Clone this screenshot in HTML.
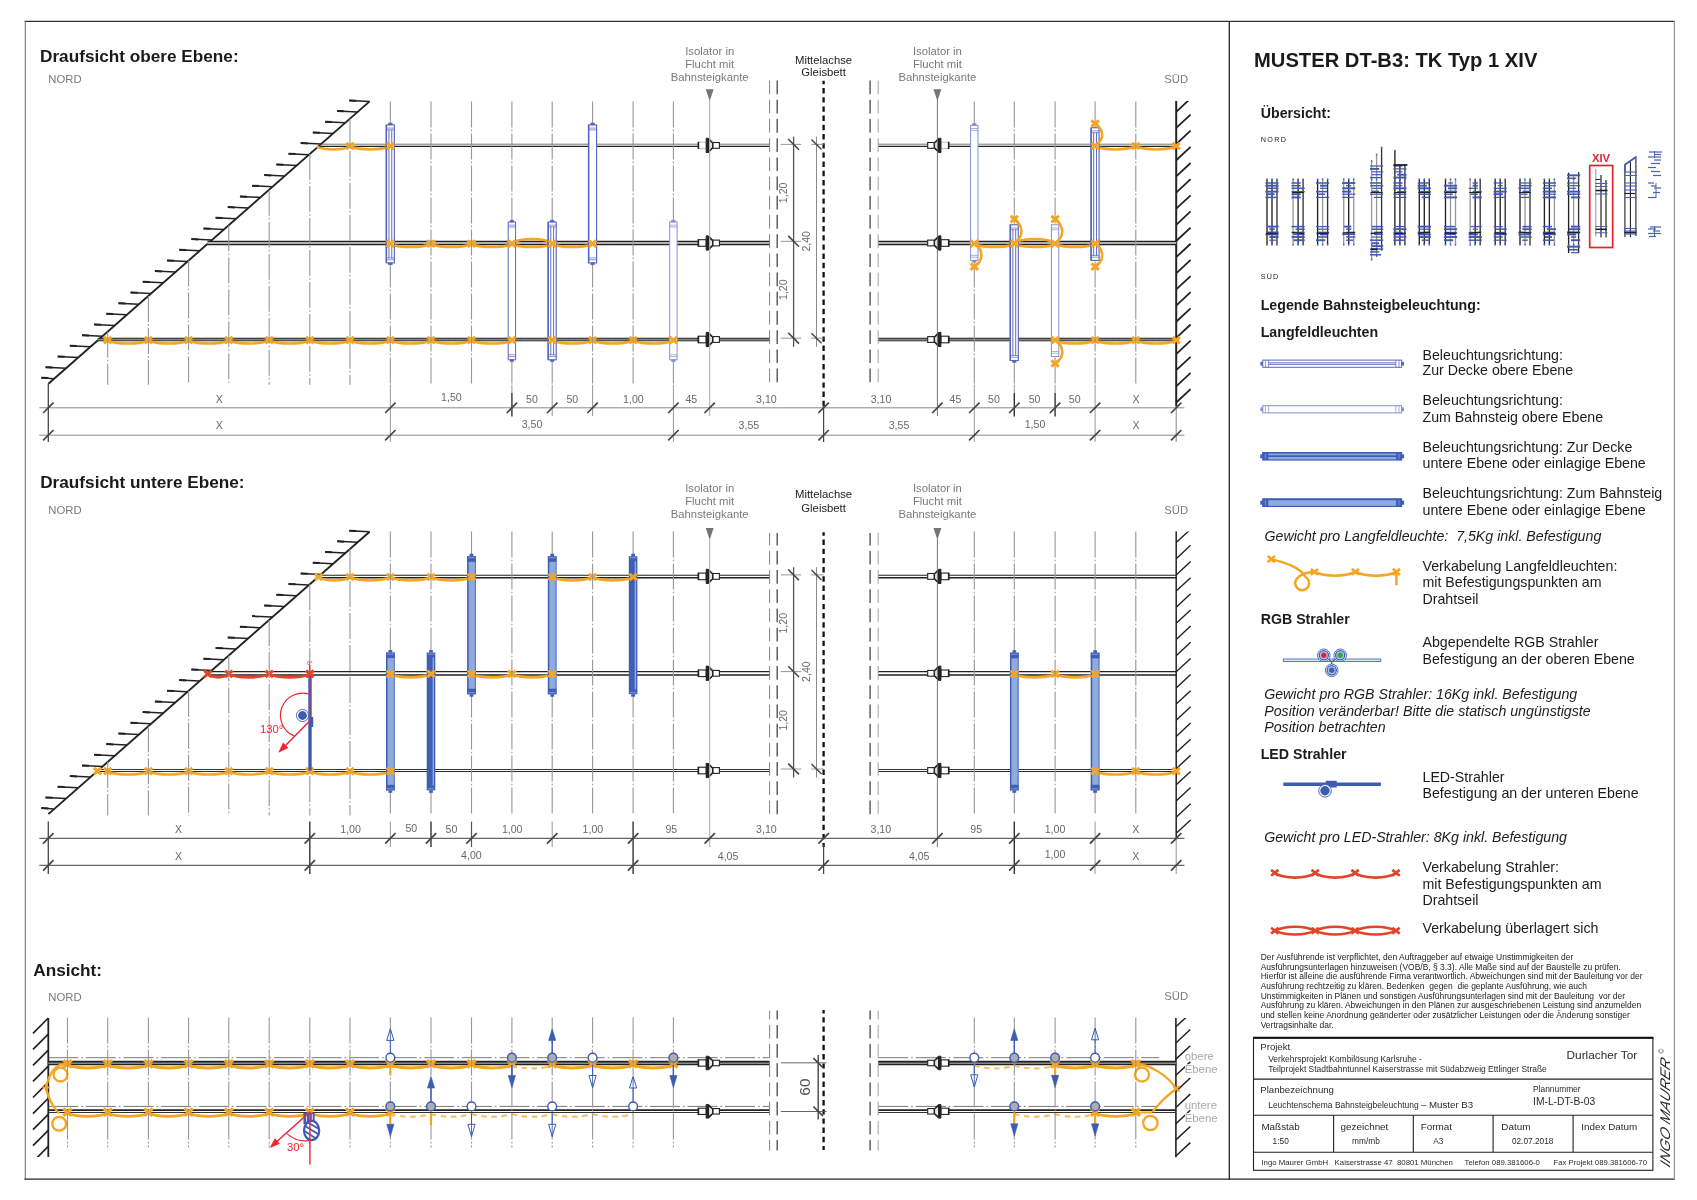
<!DOCTYPE html>
<html lang="de"><head><meta charset="utf-8"><title>MUSTER DT-B3: TK Typ 1 XIV</title>
<style>html,body{margin:0;padding:0;background:#fff}svg{display:block;will-change:transform;opacity:.999}text{font-family:"Liberation Sans",Arial,Helvetica,sans-serif}</style>
</head><body>
<svg width="1697" height="1200" viewBox="0 0 1697 1200" stroke-linecap="butt">
<rect width="1697" height="1200" fill="#fff"/>
<line x1="24.5" y1="21.4" x2="1674.8" y2="21.4" stroke="#333" stroke-width="1.1"/>
<line x1="25.3" y1="21" x2="25.3" y2="1179.5" stroke="#7a7a7a" stroke-width="1.1"/>
<line x1="24.5" y1="1179.2" x2="1675" y2="1179.2" stroke="#222" stroke-width="1.3"/>
<line x1="1674.4" y1="21" x2="1674.4" y2="1179.5" stroke="#9a9a9a" stroke-width="1.3"/>
<line x1="1229.3" y1="21" x2="1229.3" y2="1179.5" stroke="#222" stroke-width="1.3"/>
<text x="40" y="62" font-size="17.2" fill="#1a1a1a" font-weight="bold">Draufsicht obere Ebene:</text>
<text x="48.3" y="82.7" font-size="11.3" fill="#7a7a7a">NORD</text>
<text x="1164.3" y="82.7" font-size="11.3" fill="#7a7a7a">SÜD</text>
<line x1="369.6" y1="101.4" x2="48.4" y2="383.8" stroke="#222" stroke-width="1.9"/>
<path d="M349.3 100.4L369.6 101.4" stroke="#222" stroke-width="1.5" fill="none"/>
<line x1="349.3" y1="100.4" x2="356.3" y2="100.7" stroke="#222" stroke-width="2"/>
<path d="M337.15 111.07L357.45 112.07" stroke="#222" stroke-width="1.5" fill="none"/>
<line x1="337.15" y1="111.07" x2="344.15" y2="111.37" stroke="#222" stroke-width="2"/>
<path d="M325 121.74L345.3 122.74" stroke="#222" stroke-width="1.5" fill="none"/>
<line x1="325" y1="121.74" x2="332" y2="122.04" stroke="#222" stroke-width="2"/>
<path d="M312.85 132.41L333.15 133.41" stroke="#222" stroke-width="1.5" fill="none"/>
<line x1="312.85" y1="132.41" x2="319.85" y2="132.71" stroke="#222" stroke-width="2"/>
<path d="M300.7 143.08L321 144.08" stroke="#222" stroke-width="1.5" fill="none"/>
<line x1="300.7" y1="143.08" x2="307.7" y2="143.38" stroke="#222" stroke-width="2"/>
<path d="M288.55 153.75L308.85 154.75" stroke="#222" stroke-width="1.5" fill="none"/>
<line x1="288.55" y1="153.75" x2="295.55" y2="154.05" stroke="#222" stroke-width="2"/>
<path d="M276.4 164.42L296.7 165.42" stroke="#222" stroke-width="1.5" fill="none"/>
<line x1="276.4" y1="164.42" x2="283.4" y2="164.72" stroke="#222" stroke-width="2"/>
<path d="M264.25 175.09L284.55 176.09" stroke="#222" stroke-width="1.5" fill="none"/>
<line x1="264.25" y1="175.09" x2="271.25" y2="175.39" stroke="#222" stroke-width="2"/>
<path d="M252.1 185.76L272.4 186.76" stroke="#222" stroke-width="1.5" fill="none"/>
<line x1="252.1" y1="185.76" x2="259.1" y2="186.06" stroke="#222" stroke-width="2"/>
<path d="M239.95 196.43L260.25 197.43" stroke="#222" stroke-width="1.5" fill="none"/>
<line x1="239.95" y1="196.43" x2="246.95" y2="196.73" stroke="#222" stroke-width="2"/>
<path d="M227.8 207.1L248.1 208.1" stroke="#222" stroke-width="1.5" fill="none"/>
<line x1="227.8" y1="207.1" x2="234.8" y2="207.4" stroke="#222" stroke-width="2"/>
<path d="M215.65 217.77L235.95 218.77" stroke="#222" stroke-width="1.5" fill="none"/>
<line x1="215.65" y1="217.77" x2="222.65" y2="218.07" stroke="#222" stroke-width="2"/>
<path d="M203.5 228.44L223.8 229.44" stroke="#222" stroke-width="1.5" fill="none"/>
<line x1="203.5" y1="228.44" x2="210.5" y2="228.74" stroke="#222" stroke-width="2"/>
<path d="M191.35 239.11L211.65 240.11" stroke="#222" stroke-width="1.5" fill="none"/>
<line x1="191.35" y1="239.11" x2="198.35" y2="239.41" stroke="#222" stroke-width="2"/>
<path d="M179.2 249.78L199.5 250.78" stroke="#222" stroke-width="1.5" fill="none"/>
<line x1="179.2" y1="249.78" x2="186.2" y2="250.08" stroke="#222" stroke-width="2"/>
<path d="M167.05 260.45L187.35 261.45" stroke="#222" stroke-width="1.5" fill="none"/>
<line x1="167.05" y1="260.45" x2="174.05" y2="260.75" stroke="#222" stroke-width="2"/>
<path d="M154.9 271.12L175.2 272.12" stroke="#222" stroke-width="1.5" fill="none"/>
<line x1="154.9" y1="271.12" x2="161.9" y2="271.42" stroke="#222" stroke-width="2"/>
<path d="M142.75 281.79L163.05 282.79" stroke="#222" stroke-width="1.5" fill="none"/>
<line x1="142.75" y1="281.79" x2="149.75" y2="282.09" stroke="#222" stroke-width="2"/>
<path d="M130.6 292.46L150.9 293.46" stroke="#222" stroke-width="1.5" fill="none"/>
<line x1="130.6" y1="292.46" x2="137.6" y2="292.76" stroke="#222" stroke-width="2"/>
<path d="M118.45 303.13L138.75 304.13" stroke="#222" stroke-width="1.5" fill="none"/>
<line x1="118.45" y1="303.13" x2="125.45" y2="303.43" stroke="#222" stroke-width="2"/>
<path d="M106.3 313.8L126.6 314.8" stroke="#222" stroke-width="1.5" fill="none"/>
<line x1="106.3" y1="313.8" x2="113.3" y2="314.1" stroke="#222" stroke-width="2"/>
<path d="M94.15 324.47L114.45 325.47" stroke="#222" stroke-width="1.5" fill="none"/>
<line x1="94.15" y1="324.47" x2="101.15" y2="324.77" stroke="#222" stroke-width="2"/>
<path d="M82 335.14L102.3 336.14" stroke="#222" stroke-width="1.5" fill="none"/>
<line x1="82" y1="335.14" x2="89" y2="335.44" stroke="#222" stroke-width="2"/>
<path d="M69.85 345.81L90.15 346.81" stroke="#222" stroke-width="1.5" fill="none"/>
<line x1="69.85" y1="345.81" x2="76.85" y2="346.11" stroke="#222" stroke-width="2"/>
<path d="M57.7 356.48L78 357.48" stroke="#222" stroke-width="1.5" fill="none"/>
<line x1="57.7" y1="356.48" x2="64.7" y2="356.78" stroke="#222" stroke-width="2"/>
<path d="M45.55 367.15L65.85 368.15" stroke="#222" stroke-width="1.5" fill="none"/>
<line x1="45.55" y1="367.15" x2="52.55" y2="367.45" stroke="#222" stroke-width="2"/>
<path d="M41.3 377.82L53.7 378.82" stroke="#222" stroke-width="1.5" fill="none"/>
<line x1="41.3" y1="377.82" x2="48.3" y2="378.12" stroke="#222" stroke-width="2"/>
<line x1="48.3" y1="383.5" x2="48.3" y2="442" stroke="#444" stroke-width="1.3"/>
<line x1="1176.2" y1="101.1" x2="1176.2" y2="406.5" stroke="#222" stroke-width="2"/>
<defs><clipPath id="cw_101"><rect x="1174.2" y="101.1" width="30" height="305.4"/></clipPath></defs>
<g clip-path="url(#cw_101)">
<line x1="1176.2" y1="111.8" x2="1190.6" y2="98.4" stroke="#222" stroke-width="1.8"/>
<line x1="1176.2" y1="127.95" x2="1190.6" y2="114.55" stroke="#222" stroke-width="1.8"/>
<line x1="1176.2" y1="144.1" x2="1190.6" y2="130.7" stroke="#222" stroke-width="1.8"/>
<line x1="1176.2" y1="160.25" x2="1190.6" y2="146.85" stroke="#222" stroke-width="1.8"/>
<line x1="1176.2" y1="176.4" x2="1190.6" y2="163" stroke="#222" stroke-width="1.8"/>
<line x1="1176.2" y1="192.55" x2="1190.6" y2="179.15" stroke="#222" stroke-width="1.8"/>
<line x1="1176.2" y1="208.7" x2="1190.6" y2="195.3" stroke="#222" stroke-width="1.8"/>
<line x1="1176.2" y1="224.85" x2="1190.6" y2="211.45" stroke="#222" stroke-width="1.8"/>
<line x1="1176.2" y1="241" x2="1190.6" y2="227.6" stroke="#222" stroke-width="1.8"/>
<line x1="1176.2" y1="257.15" x2="1190.6" y2="243.75" stroke="#222" stroke-width="1.8"/>
<line x1="1176.2" y1="273.3" x2="1190.6" y2="259.9" stroke="#222" stroke-width="1.8"/>
<line x1="1176.2" y1="289.45" x2="1190.6" y2="276.05" stroke="#222" stroke-width="1.8"/>
<line x1="1176.2" y1="305.6" x2="1190.6" y2="292.2" stroke="#222" stroke-width="1.8"/>
<line x1="1176.2" y1="321.75" x2="1190.6" y2="308.35" stroke="#222" stroke-width="1.8"/>
<line x1="1176.2" y1="337.9" x2="1190.6" y2="324.5" stroke="#222" stroke-width="1.8"/>
<line x1="1176.2" y1="354.05" x2="1190.6" y2="340.65" stroke="#222" stroke-width="1.8"/>
<line x1="1176.2" y1="370.2" x2="1190.6" y2="356.8" stroke="#222" stroke-width="1.8"/>
<line x1="1176.2" y1="386.35" x2="1190.6" y2="372.95" stroke="#222" stroke-width="1.8"/>
<line x1="1176.2" y1="402.5" x2="1190.6" y2="389.1" stroke="#222" stroke-width="1.8"/>
</g>
<line x1="1176.2" y1="406" x2="1176.2" y2="442" stroke="#777" stroke-width="0.9"/>
<line x1="318.55" y1="144.2" x2="769.6" y2="144.2" stroke="#555" stroke-width="0.8"/>
<line x1="318.55" y1="146.4" x2="769.6" y2="146.4" stroke="#222" stroke-width="1.4"/>
<line x1="878.2" y1="144.2" x2="1176.2" y2="144.2" stroke="#555" stroke-width="0.8"/>
<line x1="878.2" y1="146.4" x2="1176.2" y2="146.4" stroke="#222" stroke-width="1.4"/>
<g transform="translate(709.7,145.4)">
<rect x="-11.3" y="-3.3" width="7.8" height="6.6" fill="#fff" stroke="#aaa" stroke-width="0.8"/>
<line x1="-11.3" y1="-3.6" x2="-11.3" y2="3.6" stroke="#222" stroke-width="1.6"/>
<path d="M-3.5 -7.2 L-0.9 -7 L3.1 -2.9 L3.1 2.9 L-0.9 7 L-3.5 7.2 Z" stroke="#222" stroke-width="1" fill="#222"/>
<path d="M-0.6 -4.6 L2.3 -2.1 L2.3 2.1 L-0.6 4.6 Z" stroke="none" stroke-width="0" fill="#e8e8e8"/>
<rect x="3.3" y="-2.9" width="6.4" height="5.8" fill="#fff" stroke="#222" stroke-width="1.1"/>
</g>
<g transform="translate(937.4,145.4) scale(-1,1)">
<rect x="-11.3" y="-3.3" width="7.8" height="6.6" fill="#fff" stroke="#aaa" stroke-width="0.8"/>
<line x1="-11.3" y1="-3.6" x2="-11.3" y2="3.6" stroke="#222" stroke-width="1.6"/>
<path d="M-3.5 -7.2 L-0.9 -7 L3.1 -2.9 L3.1 2.9 L-0.9 7 L-3.5 7.2 Z" stroke="#222" stroke-width="1" fill="#222"/>
<path d="M-0.6 -4.6 L2.3 -2.1 L2.3 2.1 L-0.6 4.6 Z" stroke="none" stroke-width="0" fill="#e8e8e8"/>
<rect x="3.3" y="-2.9" width="6.4" height="5.8" fill="#fff" stroke="#222" stroke-width="1.1"/>
</g>
<line x1="207.55" y1="243" x2="769.6" y2="243" stroke="#e2e2e2" stroke-width="3"/>
<line x1="207.55" y1="241.5" x2="769.6" y2="241.5" stroke="#222" stroke-width="1.3"/>
<line x1="207.55" y1="244.5" x2="769.6" y2="244.5" stroke="#222" stroke-width="1.3"/>
<line x1="878.2" y1="243" x2="1176.2" y2="243" stroke="#e2e2e2" stroke-width="3"/>
<line x1="878.2" y1="241.5" x2="1176.2" y2="241.5" stroke="#222" stroke-width="1.3"/>
<line x1="878.2" y1="244.5" x2="1176.2" y2="244.5" stroke="#222" stroke-width="1.3"/>
<g transform="translate(709.7,243)">
<rect x="-11.3" y="-3.3" width="7.8" height="6.6" fill="#fff" stroke="#222" stroke-width="1.1"/>
<line x1="-11.3" y1="-3.6" x2="-11.3" y2="3.6" stroke="#222" stroke-width="1.6"/>
<path d="M-3.5 -7.2 L-0.9 -7 L3.1 -2.9 L3.1 2.9 L-0.9 7 L-3.5 7.2 Z" stroke="#222" stroke-width="1" fill="#222"/>
<path d="M-0.6 -4.6 L2.3 -2.1 L2.3 2.1 L-0.6 4.6 Z" stroke="none" stroke-width="0" fill="#e8e8e8"/>
<rect x="3.3" y="-2.9" width="6.4" height="5.8" fill="#fff" stroke="#222" stroke-width="1.1"/>
</g>
<g transform="translate(937.4,243) scale(-1,1)">
<rect x="-11.3" y="-3.3" width="7.8" height="6.6" fill="#fff" stroke="#222" stroke-width="1.1"/>
<line x1="-11.3" y1="-3.6" x2="-11.3" y2="3.6" stroke="#222" stroke-width="1.6"/>
<path d="M-3.5 -7.2 L-0.9 -7 L3.1 -2.9 L3.1 2.9 L-0.9 7 L-3.5 7.2 Z" stroke="#222" stroke-width="1" fill="#222"/>
<path d="M-0.6 -4.6 L2.3 -2.1 L2.3 2.1 L-0.6 4.6 Z" stroke="none" stroke-width="0" fill="#e8e8e8"/>
<rect x="3.3" y="-2.9" width="6.4" height="5.8" fill="#fff" stroke="#222" stroke-width="1.1"/>
</g>
<line x1="97.79" y1="339.5" x2="769.6" y2="339.5" stroke="#858585" stroke-width="2.6"/>
<line x1="97.79" y1="338.2" x2="769.6" y2="338.2" stroke="#222" stroke-width="1.1"/>
<line x1="97.79" y1="340.8" x2="769.6" y2="340.8" stroke="#333" stroke-width="1"/>
<line x1="878.2" y1="339.5" x2="1176.2" y2="339.5" stroke="#858585" stroke-width="2.6"/>
<line x1="878.2" y1="338.2" x2="1176.2" y2="338.2" stroke="#222" stroke-width="1.1"/>
<line x1="878.2" y1="340.8" x2="1176.2" y2="340.8" stroke="#333" stroke-width="1"/>
<g transform="translate(709.7,339.5)">
<rect x="-11.3" y="-3.3" width="7.8" height="6.6" fill="#fff" stroke="#222" stroke-width="1.1"/>
<line x1="-11.3" y1="-3.6" x2="-11.3" y2="3.6" stroke="#222" stroke-width="1.6"/>
<path d="M-3.5 -7.2 L-0.9 -7 L3.1 -2.9 L3.1 2.9 L-0.9 7 L-3.5 7.2 Z" stroke="#222" stroke-width="1" fill="#222"/>
<path d="M-0.6 -4.6 L2.3 -2.1 L2.3 2.1 L-0.6 4.6 Z" stroke="none" stroke-width="0" fill="#e8e8e8"/>
<rect x="3.3" y="-2.9" width="6.4" height="5.8" fill="#fff" stroke="#222" stroke-width="1.1"/>
</g>
<g transform="translate(937.4,339.5) scale(-1,1)">
<rect x="-11.3" y="-3.3" width="7.8" height="6.6" fill="#fff" stroke="#222" stroke-width="1.1"/>
<line x1="-11.3" y1="-3.6" x2="-11.3" y2="3.6" stroke="#222" stroke-width="1.6"/>
<path d="M-3.5 -7.2 L-0.9 -7 L3.1 -2.9 L3.1 2.9 L-0.9 7 L-3.5 7.2 Z" stroke="#222" stroke-width="1" fill="#222"/>
<path d="M-0.6 -4.6 L2.3 -2.1 L2.3 2.1 L-0.6 4.6 Z" stroke="none" stroke-width="0" fill="#e8e8e8"/>
<rect x="3.3" y="-2.9" width="6.4" height="5.8" fill="#fff" stroke="#222" stroke-width="1.1"/>
</g>
<path d="M316.55 146.6C325.92 150.4 340.64 150.4 350 146.6" stroke="#f5a522" stroke-width="2.6" fill="none"/>
<path d="M350 146.6C361 150.4 379.35 150.4 390.35 146.6" stroke="#f5a522" stroke-width="2.6" fill="none"/>
<path d="M346.3 142.8L353.7 149.2M346.3 149.2L353.7 142.8" stroke="#f5a522" stroke-width="3" fill="none"/>
<path d="M386.65 142.8L394.05 149.2M386.65 149.2L394.05 142.8" stroke="#f5a522" stroke-width="3" fill="none"/>
<path d="M390.35 244.2C401.35 248 420 248 431 244.2" stroke="#f5a522" stroke-width="2.6" fill="none"/>
<path d="M431 244.2C442 248 460.5 248 471.5 244.2" stroke="#f5a522" stroke-width="2.6" fill="none"/>
<path d="M471.5 244.2C482.5 248 500.9 248 511.9 244.2" stroke="#f5a522" stroke-width="2.6" fill="none"/>
<path d="M511.9 244.2C522.9 248 541.2 248 552.2 244.2" stroke="#f5a522" stroke-width="2.6" fill="none"/>
<path d="M552.2 244.2C563.2 248 581.6 248 592.6 244.2" stroke="#f5a522" stroke-width="2.6" fill="none"/>
<path d="M386.65 240.4L394.05 246.8M386.65 246.8L394.05 240.4" stroke="#f5a522" stroke-width="3" fill="none"/>
<path d="M427.3 240.4L434.7 246.8M427.3 246.8L434.7 240.4" stroke="#f5a522" stroke-width="3" fill="none"/>
<path d="M467.8 240.4L475.2 246.8M467.8 246.8L475.2 240.4" stroke="#f5a522" stroke-width="3" fill="none"/>
<path d="M508.2 240.4L515.6 246.8M508.2 246.8L515.6 240.4" stroke="#f5a522" stroke-width="3" fill="none"/>
<path d="M548.5 240.4L555.9 246.8M548.5 246.8L555.9 240.4" stroke="#f5a522" stroke-width="3" fill="none"/>
<path d="M588.9 240.4L596.3 246.8M588.9 246.8L596.3 240.4" stroke="#f5a522" stroke-width="3" fill="none"/>
<path d="M511.9 242.4C522.9 237.8 541.2 237.8 552.2 242.4" stroke="#f5a522" stroke-width="2.6" fill="none"/>
<path d="M107.7 340.7C118.7 344.5 137.4 344.5 148.4 340.7" stroke="#f5a522" stroke-width="2.6" fill="none"/>
<path d="M148.4 340.7C159.4 344.5 177.6 344.5 188.6 340.7" stroke="#f5a522" stroke-width="2.6" fill="none"/>
<path d="M188.6 340.7C199.6 344.5 217.8 344.5 228.8 340.7" stroke="#f5a522" stroke-width="2.6" fill="none"/>
<path d="M228.8 340.7C239.8 344.5 258.2 344.5 269.2 340.7" stroke="#f5a522" stroke-width="2.6" fill="none"/>
<path d="M269.2 340.7C280.2 344.5 298.8 344.5 309.8 340.7" stroke="#f5a522" stroke-width="2.6" fill="none"/>
<path d="M309.8 340.7C320.8 344.5 339 344.5 350 340.7" stroke="#f5a522" stroke-width="2.6" fill="none"/>
<path d="M350 340.7C361 344.5 379.35 344.5 390.35 340.7" stroke="#f5a522" stroke-width="2.6" fill="none"/>
<path d="M390.35 340.7C401.35 344.5 420 344.5 431 340.7" stroke="#f5a522" stroke-width="2.6" fill="none"/>
<path d="M431 340.7C442 344.5 460.5 344.5 471.5 340.7" stroke="#f5a522" stroke-width="2.6" fill="none"/>
<path d="M471.5 340.7C482.5 344.5 500.9 344.5 511.9 340.7" stroke="#f5a522" stroke-width="2.6" fill="none"/>
<path d="M104 336.9L111.4 343.3M104 343.3L111.4 336.9" stroke="#f5a522" stroke-width="3" fill="none"/>
<path d="M144.7 336.9L152.1 343.3M144.7 343.3L152.1 336.9" stroke="#f5a522" stroke-width="3" fill="none"/>
<path d="M184.9 336.9L192.3 343.3M184.9 343.3L192.3 336.9" stroke="#f5a522" stroke-width="3" fill="none"/>
<path d="M225.1 336.9L232.5 343.3M225.1 343.3L232.5 336.9" stroke="#f5a522" stroke-width="3" fill="none"/>
<path d="M265.5 336.9L272.9 343.3M265.5 343.3L272.9 336.9" stroke="#f5a522" stroke-width="3" fill="none"/>
<path d="M306.1 336.9L313.5 343.3M306.1 343.3L313.5 336.9" stroke="#f5a522" stroke-width="3" fill="none"/>
<path d="M346.3 336.9L353.7 343.3M346.3 343.3L353.7 336.9" stroke="#f5a522" stroke-width="3" fill="none"/>
<path d="M386.65 336.9L394.05 343.3M386.65 343.3L394.05 336.9" stroke="#f5a522" stroke-width="3" fill="none"/>
<path d="M427.3 336.9L434.7 343.3M427.3 343.3L434.7 336.9" stroke="#f5a522" stroke-width="3" fill="none"/>
<path d="M467.8 336.9L475.2 343.3M467.8 343.3L475.2 336.9" stroke="#f5a522" stroke-width="3" fill="none"/>
<path d="M508.2 336.9L515.6 343.3M508.2 343.3L515.6 336.9" stroke="#f5a522" stroke-width="3" fill="none"/>
<path d="M104.7 336.5L104.7 343.5" stroke="#f5a522" stroke-width="2" fill="none"/>
<path d="M552.2 340.7C563.2 344.5 581.6 344.5 592.6 340.7" stroke="#f5a522" stroke-width="2.6" fill="none"/>
<path d="M592.6 340.7C603.6 344.5 622.1 344.5 633.1 340.7" stroke="#f5a522" stroke-width="2.6" fill="none"/>
<path d="M633.1 340.7C644.1 344.5 662.4 344.5 673.4 340.7" stroke="#f5a522" stroke-width="2.6" fill="none"/>
<path d="M548.5 336.9L555.9 343.3M548.5 343.3L555.9 336.9" stroke="#f5a522" stroke-width="3" fill="none"/>
<path d="M588.9 336.9L596.3 343.3M588.9 343.3L596.3 336.9" stroke="#f5a522" stroke-width="3" fill="none"/>
<path d="M629.4 336.9L636.8 343.3M629.4 343.3L636.8 336.9" stroke="#f5a522" stroke-width="3" fill="none"/>
<path d="M669.7 336.9L677.1 343.3M669.7 343.3L677.1 336.9" stroke="#f5a522" stroke-width="3" fill="none"/>
<path d="M1095.1 146.6C1106.1 150.4 1124.8 150.4 1135.8 146.6" stroke="#f5a522" stroke-width="2.6" fill="none"/>
<path d="M1135.8 146.6C1146.8 150.4 1165.2 150.4 1176.2 146.6" stroke="#f5a522" stroke-width="2.6" fill="none"/>
<path d="M1091.4 142.8L1098.8 149.2M1091.4 149.2L1098.8 142.8" stroke="#f5a522" stroke-width="3" fill="none"/>
<path d="M1132.1 142.8L1139.5 149.2M1132.1 149.2L1139.5 142.8" stroke="#f5a522" stroke-width="3" fill="none"/>
<path d="M1172.5 142.8L1179.9 149.2M1172.5 149.2L1179.9 142.8" stroke="#f5a522" stroke-width="3" fill="none"/>
<path d="M974.3 244.2C985.3 248 1003.3 248 1014.3 244.2" stroke="#f5a522" stroke-width="2.6" fill="none"/>
<path d="M1014.3 244.2C1025.3 248 1044.1 248 1055.1 244.2" stroke="#f5a522" stroke-width="2.6" fill="none"/>
<path d="M1055.1 244.2C1066.1 248 1084.1 248 1095.1 244.2" stroke="#f5a522" stroke-width="2.6" fill="none"/>
<path d="M970.6 240.4L978 246.8M970.6 246.8L978 240.4" stroke="#f5a522" stroke-width="3" fill="none"/>
<path d="M1010.6 240.4L1018 246.8M1010.6 246.8L1018 240.4" stroke="#f5a522" stroke-width="3" fill="none"/>
<path d="M1051.4 240.4L1058.8 246.8M1051.4 246.8L1058.8 240.4" stroke="#f5a522" stroke-width="3" fill="none"/>
<path d="M1091.4 240.4L1098.8 246.8M1091.4 246.8L1098.8 240.4" stroke="#f5a522" stroke-width="3" fill="none"/>
<path d="M1014.3 242.4C1025.3 237.8 1044.1 237.8 1055.1 242.4" stroke="#f5a522" stroke-width="2.6" fill="none"/>
<path d="M1055.1 340.7C1066.1 344.5 1084.1 344.5 1095.1 340.7" stroke="#f5a522" stroke-width="2.6" fill="none"/>
<path d="M1095.1 340.7C1106.1 344.5 1124.8 344.5 1135.8 340.7" stroke="#f5a522" stroke-width="2.6" fill="none"/>
<path d="M1135.8 340.7C1146.8 344.5 1165.2 344.5 1176.2 340.7" stroke="#f5a522" stroke-width="2.6" fill="none"/>
<path d="M1051.4 336.9L1058.8 343.3M1051.4 343.3L1058.8 336.9" stroke="#f5a522" stroke-width="3" fill="none"/>
<path d="M1091.4 336.9L1098.8 343.3M1091.4 343.3L1098.8 336.9" stroke="#f5a522" stroke-width="3" fill="none"/>
<path d="M1132.1 336.9L1139.5 343.3M1132.1 343.3L1139.5 336.9" stroke="#f5a522" stroke-width="3" fill="none"/>
<path d="M1172.5 336.9L1179.9 343.3M1172.5 343.3L1179.9 336.9" stroke="#f5a522" stroke-width="3" fill="none"/>
<line x1="107.7" y1="331.66" x2="107.7" y2="384.7" stroke="#979797" stroke-width="1.1" stroke-dasharray="26 2.2 1.6 2.2"/>
<line x1="148.4" y1="295.88" x2="148.4" y2="384.7" stroke="#979797" stroke-width="1.1" stroke-dasharray="26 2.2 1.6 2.2"/>
<line x1="188.6" y1="260.54" x2="188.6" y2="384.7" stroke="#979797" stroke-width="1.1" stroke-dasharray="26 2.2 1.6 2.2"/>
<line x1="228.8" y1="225.19" x2="228.8" y2="384.7" stroke="#979797" stroke-width="1.1" stroke-dasharray="26 2.2 1.6 2.2"/>
<line x1="269.2" y1="189.67" x2="269.2" y2="384.7" stroke="#979797" stroke-width="1.1" stroke-dasharray="26 2.2 1.6 2.2"/>
<line x1="309.8" y1="153.98" x2="309.8" y2="384.7" stroke="#979797" stroke-width="1.1" stroke-dasharray="26 2.2 1.6 2.2"/>
<line x1="350" y1="118.63" x2="350" y2="384.7" stroke="#979797" stroke-width="1.1" stroke-dasharray="26 2.2 1.6 2.2"/>
<line x1="390.35" y1="101.4" x2="390.35" y2="384.7" stroke="#979797" stroke-width="1.1" stroke-dasharray="26 2.2 1.6 2.2"/>
<line x1="431" y1="101.4" x2="431" y2="384.7" stroke="#979797" stroke-width="1.1" stroke-dasharray="26 2.2 1.6 2.2"/>
<line x1="471.5" y1="101.4" x2="471.5" y2="384.7" stroke="#979797" stroke-width="1.1" stroke-dasharray="26 2.2 1.6 2.2"/>
<line x1="511.9" y1="101.4" x2="511.9" y2="384.7" stroke="#979797" stroke-width="1.1" stroke-dasharray="26 2.2 1.6 2.2"/>
<line x1="552.2" y1="101.4" x2="552.2" y2="384.7" stroke="#979797" stroke-width="1.1" stroke-dasharray="26 2.2 1.6 2.2"/>
<line x1="592.6" y1="101.4" x2="592.6" y2="384.7" stroke="#979797" stroke-width="1.1" stroke-dasharray="26 2.2 1.6 2.2"/>
<line x1="633.1" y1="101.4" x2="633.1" y2="384.7" stroke="#979797" stroke-width="1.1" stroke-dasharray="26 2.2 1.6 2.2"/>
<line x1="673.4" y1="101.4" x2="673.4" y2="384.7" stroke="#979797" stroke-width="1.1" stroke-dasharray="26 2.2 1.6 2.2"/>
<line x1="974.3" y1="101.4" x2="974.3" y2="384.7" stroke="#979797" stroke-width="1.1" stroke-dasharray="26 2.2 1.6 2.2"/>
<line x1="1014.3" y1="101.4" x2="1014.3" y2="384.7" stroke="#979797" stroke-width="1.1" stroke-dasharray="26 2.2 1.6 2.2"/>
<line x1="1055.1" y1="101.4" x2="1055.1" y2="384.7" stroke="#979797" stroke-width="1.1" stroke-dasharray="26 2.2 1.6 2.2"/>
<line x1="1095.1" y1="101.4" x2="1095.1" y2="384.7" stroke="#979797" stroke-width="1.1" stroke-dasharray="26 2.2 1.6 2.2"/>
<line x1="1135.8" y1="101.4" x2="1135.8" y2="384.7" stroke="#979797" stroke-width="1.1" stroke-dasharray="26 2.2 1.6 2.2"/>
<line x1="390.35" y1="384.7" x2="390.35" y2="442" stroke="#979797" stroke-width="1"/>
<line x1="673.4" y1="384.7" x2="673.4" y2="442" stroke="#979797" stroke-width="1"/>
<line x1="974.3" y1="384.7" x2="974.3" y2="442" stroke="#979797" stroke-width="1"/>
<line x1="1095.1" y1="384.7" x2="1095.1" y2="442" stroke="#979797" stroke-width="1"/>
<line x1="552.2" y1="384.7" x2="552.2" y2="416" stroke="#979797" stroke-width="1"/>
<line x1="592.6" y1="384.7" x2="592.6" y2="416" stroke="#979797" stroke-width="1"/>
<line x1="511.9" y1="384.7" x2="511.9" y2="393" stroke="#979797" stroke-width="1"/>
<line x1="511.9" y1="393" x2="511.9" y2="416.5" stroke="#333" stroke-width="1.4"/>
<line x1="1014.3" y1="384.7" x2="1014.3" y2="393" stroke="#979797" stroke-width="1"/>
<line x1="1014.3" y1="393" x2="1014.3" y2="416.5" stroke="#333" stroke-width="1.4"/>
<line x1="1055.1" y1="384.7" x2="1055.1" y2="393" stroke="#979797" stroke-width="1"/>
<line x1="1055.1" y1="393" x2="1055.1" y2="416.5" stroke="#333" stroke-width="1.4"/>
<line x1="709.7" y1="100" x2="709.7" y2="416" stroke="#aaa" stroke-width="1"/>
<line x1="937.4" y1="100" x2="937.4" y2="416" stroke="#666" stroke-width="0.9"/>
<rect x="386.35" y="124.9" width="8" height="138" fill="#fff" stroke="#5867be" stroke-width="1.15"/>
<line x1="388.95" y1="129.5" x2="388.95" y2="258.3" stroke="#5867be" stroke-width="0.95"/>
<line x1="391.75" y1="129.5" x2="391.75" y2="258.3" stroke="#5867be" stroke-width="0.95"/>
<line x1="386.35" y1="124.9" x2="386.35" y2="262.9" stroke="#5867be" stroke-width="1.5"/>
<line x1="386.35" y1="128.1" x2="394.35" y2="128.1" stroke="#5867be" stroke-width="0.7"/>
<line x1="386.35" y1="129.9" x2="394.35" y2="129.9" stroke="#5867be" stroke-width="0.7"/>
<line x1="386.35" y1="259.7" x2="394.35" y2="259.7" stroke="#5867be" stroke-width="0.7"/>
<line x1="386.35" y1="257.9" x2="394.35" y2="257.9" stroke="#5867be" stroke-width="0.7"/>
<rect x="388.55" y="123" width="3.6" height="1.9" fill="#5867be" stroke="#5867be" stroke-width="0.5"/>
<rect x="388.55" y="262.9" width="3.6" height="1.9" fill="#5867be" stroke="#5867be" stroke-width="0.5"/>
<rect x="588.6" y="124.9" width="8" height="138" fill="#fff" stroke="#5867be" stroke-width="1.15"/>
<line x1="588.6" y1="124.9" x2="588.6" y2="262.9" stroke="#5867be" stroke-width="1.5"/>
<line x1="588.6" y1="128.1" x2="596.6" y2="128.1" stroke="#5867be" stroke-width="0.7"/>
<line x1="588.6" y1="129.9" x2="596.6" y2="129.9" stroke="#5867be" stroke-width="0.7"/>
<line x1="588.6" y1="259.7" x2="596.6" y2="259.7" stroke="#5867be" stroke-width="0.7"/>
<line x1="588.6" y1="257.9" x2="596.6" y2="257.9" stroke="#5867be" stroke-width="0.7"/>
<rect x="590.8" y="123" width="3.6" height="1.9" fill="#5867be" stroke="#5867be" stroke-width="0.5"/>
<rect x="590.8" y="262.9" width="3.6" height="1.9" fill="#5867be" stroke="#5867be" stroke-width="0.5"/>
<rect x="508.2" y="222" width="7.4" height="137.8" fill="#fff" stroke="#5867be" stroke-width="1"/>
<line x1="508.2" y1="225.2" x2="515.6" y2="225.2" stroke="#5867be" stroke-width="0.7"/>
<line x1="508.2" y1="227" x2="515.6" y2="227" stroke="#5867be" stroke-width="0.7"/>
<line x1="508.2" y1="356.6" x2="515.6" y2="356.6" stroke="#5867be" stroke-width="0.7"/>
<line x1="508.2" y1="354.8" x2="515.6" y2="354.8" stroke="#5867be" stroke-width="0.7"/>
<rect x="510.1" y="220.1" width="3.6" height="1.9" fill="#5867be" stroke="#5867be" stroke-width="0.5"/>
<rect x="510.1" y="359.8" width="3.6" height="1.9" fill="#5867be" stroke="#5867be" stroke-width="0.5"/>
<rect x="548.2" y="222" width="8" height="137.8" fill="#fff" stroke="#5867be" stroke-width="1.15"/>
<line x1="550.8" y1="226.6" x2="550.8" y2="355.2" stroke="#5867be" stroke-width="0.95"/>
<line x1="553.6" y1="226.6" x2="553.6" y2="355.2" stroke="#5867be" stroke-width="0.95"/>
<line x1="548.2" y1="222" x2="548.2" y2="359.8" stroke="#5867be" stroke-width="1.5"/>
<line x1="548.2" y1="225.2" x2="556.2" y2="225.2" stroke="#5867be" stroke-width="0.7"/>
<line x1="548.2" y1="227" x2="556.2" y2="227" stroke="#5867be" stroke-width="0.7"/>
<line x1="548.2" y1="356.6" x2="556.2" y2="356.6" stroke="#5867be" stroke-width="0.7"/>
<line x1="548.2" y1="354.8" x2="556.2" y2="354.8" stroke="#5867be" stroke-width="0.7"/>
<rect x="550.4" y="220.1" width="3.6" height="1.9" fill="#5867be" stroke="#5867be" stroke-width="0.5"/>
<rect x="550.4" y="359.8" width="3.6" height="1.9" fill="#5867be" stroke="#5867be" stroke-width="0.5"/>
<rect x="669.7" y="222" width="7.4" height="137.8" fill="#fff" stroke="#8290d4" stroke-width="1"/>
<line x1="669.7" y1="225.2" x2="677.1" y2="225.2" stroke="#8290d4" stroke-width="0.7"/>
<line x1="669.7" y1="227" x2="677.1" y2="227" stroke="#8290d4" stroke-width="0.7"/>
<line x1="669.7" y1="356.6" x2="677.1" y2="356.6" stroke="#8290d4" stroke-width="0.7"/>
<line x1="669.7" y1="354.8" x2="677.1" y2="354.8" stroke="#8290d4" stroke-width="0.7"/>
<rect x="671.6" y="220.1" width="3.6" height="1.9" fill="#8290d4" stroke="#8290d4" stroke-width="0.5"/>
<rect x="671.6" y="359.8" width="3.6" height="1.9" fill="#8290d4" stroke="#8290d4" stroke-width="0.5"/>
<rect x="970.6" y="125.3" width="7.4" height="135.1" fill="#fff" stroke="#8290d4" stroke-width="1"/>
<line x1="970.6" y1="128.5" x2="978" y2="128.5" stroke="#8290d4" stroke-width="0.7"/>
<line x1="970.6" y1="130.3" x2="978" y2="130.3" stroke="#8290d4" stroke-width="0.7"/>
<line x1="970.6" y1="257.2" x2="978" y2="257.2" stroke="#8290d4" stroke-width="0.7"/>
<line x1="970.6" y1="255.4" x2="978" y2="255.4" stroke="#8290d4" stroke-width="0.7"/>
<rect x="972.5" y="123.4" width="3.6" height="1.9" fill="#8290d4" stroke="#8290d4" stroke-width="0.5"/>
<rect x="972.5" y="260.4" width="3.6" height="1.9" fill="#8290d4" stroke="#8290d4" stroke-width="0.5"/>
<rect x="1091.1" y="127.7" width="8" height="132.7" fill="#fff" stroke="#5867be" stroke-width="1.15"/>
<line x1="1093.7" y1="132.3" x2="1093.7" y2="255.8" stroke="#5867be" stroke-width="0.95"/>
<line x1="1096.5" y1="132.3" x2="1096.5" y2="255.8" stroke="#5867be" stroke-width="0.95"/>
<line x1="1091.1" y1="127.7" x2="1091.1" y2="260.4" stroke="#5867be" stroke-width="1.5"/>
<line x1="1091.1" y1="130.9" x2="1099.1" y2="130.9" stroke="#5867be" stroke-width="0.7"/>
<line x1="1091.1" y1="132.7" x2="1099.1" y2="132.7" stroke="#5867be" stroke-width="0.7"/>
<line x1="1091.1" y1="257.2" x2="1099.1" y2="257.2" stroke="#5867be" stroke-width="0.7"/>
<line x1="1091.1" y1="255.4" x2="1099.1" y2="255.4" stroke="#5867be" stroke-width="0.7"/>
<rect x="1010.3" y="224.8" width="8" height="135.7" fill="#fff" stroke="#5867be" stroke-width="1.15"/>
<line x1="1012.9" y1="229.4" x2="1012.9" y2="355.9" stroke="#5867be" stroke-width="0.95"/>
<line x1="1015.7" y1="229.4" x2="1015.7" y2="355.9" stroke="#5867be" stroke-width="0.95"/>
<line x1="1010.3" y1="224.8" x2="1010.3" y2="360.5" stroke="#5867be" stroke-width="1.5"/>
<line x1="1010.3" y1="228" x2="1018.3" y2="228" stroke="#5867be" stroke-width="0.7"/>
<line x1="1010.3" y1="229.8" x2="1018.3" y2="229.8" stroke="#5867be" stroke-width="0.7"/>
<line x1="1010.3" y1="357.3" x2="1018.3" y2="357.3" stroke="#5867be" stroke-width="0.7"/>
<line x1="1010.3" y1="355.5" x2="1018.3" y2="355.5" stroke="#5867be" stroke-width="0.7"/>
<rect x="1012.5" y="360.5" width="3.6" height="1.9" fill="#5867be" stroke="#5867be" stroke-width="0.5"/>
<rect x="1051.4" y="224.8" width="7.4" height="131.7" fill="#fff" stroke="#8290d4" stroke-width="1"/>
<line x1="1051.4" y1="228" x2="1058.8" y2="228" stroke="#8290d4" stroke-width="0.7"/>
<line x1="1051.4" y1="229.8" x2="1058.8" y2="229.8" stroke="#8290d4" stroke-width="0.7"/>
<line x1="1051.4" y1="353.3" x2="1058.8" y2="353.3" stroke="#8290d4" stroke-width="0.7"/>
<line x1="1051.4" y1="351.5" x2="1058.8" y2="351.5" stroke="#8290d4" stroke-width="0.7"/>
<path d="M386.65 142.8L394.05 149.2M386.65 149.2L394.05 142.8" stroke="#f5a522" stroke-width="3" fill="none"/>
<path d="M386.65 240.4L394.05 246.8M386.65 246.8L394.05 240.4" stroke="#f5a522" stroke-width="3" fill="none"/>
<path d="M508.2 240.4L515.6 246.8M508.2 246.8L515.6 240.4" stroke="#f5a522" stroke-width="3" fill="none"/>
<path d="M548.5 240.4L555.9 246.8M548.5 246.8L555.9 240.4" stroke="#f5a522" stroke-width="3" fill="none"/>
<path d="M588.9 240.4L596.3 246.8M588.9 246.8L596.3 240.4" stroke="#f5a522" stroke-width="3" fill="none"/>
<path d="M508.2 336.9L515.6 343.3M508.2 343.3L515.6 336.9" stroke="#f5a522" stroke-width="3" fill="none"/>
<path d="M548.5 336.9L555.9 343.3M548.5 343.3L555.9 336.9" stroke="#f5a522" stroke-width="3" fill="none"/>
<path d="M669.7 336.9L677.1 343.3M669.7 343.3L677.1 336.9" stroke="#f5a522" stroke-width="3" fill="none"/>
<path d="M970.6 240.4L978 246.8M970.6 246.8L978 240.4" stroke="#f5a522" stroke-width="3" fill="none"/>
<path d="M1010.6 240.4L1018 246.8M1010.6 246.8L1018 240.4" stroke="#f5a522" stroke-width="3" fill="none"/>
<path d="M1051.4 240.4L1058.8 246.8M1051.4 246.8L1058.8 240.4" stroke="#f5a522" stroke-width="3" fill="none"/>
<path d="M1091.4 240.4L1098.8 246.8M1091.4 246.8L1098.8 240.4" stroke="#f5a522" stroke-width="3" fill="none"/>
<path d="M1091.4 142.8L1098.8 149.2M1091.4 149.2L1098.8 142.8" stroke="#f5a522" stroke-width="3" fill="none"/>
<path d="M1051.4 336.9L1058.8 343.3M1051.4 343.3L1058.8 336.9" stroke="#f5a522" stroke-width="3" fill="none"/>
<path d="M1095.1 123.5C1104.6 130.07 1104.6 139.93 1095.1 145.4" stroke="#f5a522" stroke-width="2.5" fill="none"/>
<path d="M1091.4 120.3L1098.8 126.7M1091.4 126.7L1098.8 120.3" stroke="#f5a522" stroke-width="3" fill="none"/>
<path d="M1014.3 219.1C1023.8 226.27 1023.8 237.03 1014.3 243" stroke="#f5a522" stroke-width="2.5" fill="none"/>
<path d="M1010.6 215.9L1018 222.3M1010.6 222.3L1018 215.9" stroke="#f5a522" stroke-width="3" fill="none"/>
<path d="M1055.1 219.1C1064.6 226.27 1064.6 237.03 1055.1 243" stroke="#f5a522" stroke-width="2.5" fill="none"/>
<path d="M1051.4 215.9L1058.8 222.3M1051.4 222.3L1058.8 215.9" stroke="#f5a522" stroke-width="3" fill="none"/>
<path d="M974.3 243C983.8 250.08 983.8 260.7 974.3 266.6" stroke="#f5a522" stroke-width="2.5" fill="none"/>
<path d="M970.6 263.4L978 269.8M970.6 269.8L978 263.4" stroke="#f5a522" stroke-width="3" fill="none"/>
<path d="M1095.1 243C1104.6 250.08 1104.6 260.7 1095.1 266.6" stroke="#f5a522" stroke-width="2.5" fill="none"/>
<path d="M1091.4 263.4L1098.8 269.8M1091.4 269.8L1098.8 263.4" stroke="#f5a522" stroke-width="3" fill="none"/>
<path d="M1055.1 339.5C1064.6 346.7 1064.6 357.5 1055.1 363.5" stroke="#f5a522" stroke-width="2.5" fill="none"/>
<path d="M1051.4 360.3L1058.8 366.7M1051.4 366.7L1058.8 360.3" stroke="#f5a522" stroke-width="3" fill="none"/>
<line x1="769.6" y1="80.6" x2="769.6" y2="382.3" stroke="#777" stroke-width="0.9" stroke-dasharray="13.7 5.5" stroke-dashoffset="0"/>
<line x1="777.2" y1="80.6" x2="777.2" y2="382.3" stroke="#555" stroke-width="1.4" stroke-dasharray="13.7 5.5" stroke-dashoffset="0"/>
<line x1="870.1" y1="80.6" x2="870.1" y2="382.3" stroke="#555" stroke-width="1.4" stroke-dasharray="13.7 5.5" stroke-dashoffset="0"/>
<line x1="878.2" y1="80.6" x2="878.2" y2="382.3" stroke="#999" stroke-width="0.9" stroke-dasharray="13.7 5.5" stroke-dashoffset="0"/>
<line x1="823.6" y1="80.8" x2="823.6" y2="408" stroke="#111" stroke-width="2.3" stroke-dasharray="5.4 3.8" stroke-dashoffset="2"/>
<line x1="823.6" y1="405" x2="823.6" y2="442" stroke="#444" stroke-width="1.2"/>
<line x1="793.6" y1="136.7" x2="793.6" y2="346.8" stroke="#555" stroke-width="1.3"/>
<line x1="816.5" y1="136.7" x2="816.5" y2="346.8" stroke="#8a8a8a" stroke-width="1"/>
<line x1="780.7" y1="144.4" x2="801.2" y2="144.4" stroke="#8a8a8a" stroke-width="0.9"/>
<line x1="788.2" y1="139" x2="799" y2="149.8" stroke="#444" stroke-width="1.6"/>
<line x1="780.7" y1="241.3" x2="801.2" y2="241.3" stroke="#8a8a8a" stroke-width="0.9"/>
<line x1="788.2" y1="235.9" x2="799" y2="246.7" stroke="#444" stroke-width="1.6"/>
<line x1="780.7" y1="338.2" x2="801.2" y2="338.2" stroke="#8a8a8a" stroke-width="0.9"/>
<line x1="788.2" y1="332.8" x2="799" y2="343.6" stroke="#444" stroke-width="1.6"/>
<line x1="811.4" y1="144.4" x2="823.6" y2="144.4" stroke="#8a8a8a" stroke-width="0.9"/>
<line x1="811.5" y1="139.4" x2="821.5" y2="149.4" stroke="#444" stroke-width="1.4"/>
<line x1="811.4" y1="338.2" x2="823.6" y2="338.2" stroke="#8a8a8a" stroke-width="0.9"/>
<line x1="811.5" y1="333.2" x2="821.5" y2="343.2" stroke="#444" stroke-width="1.4"/>
<text transform="translate(786.7,192.85) rotate(-90)" font-size="10.6" fill="#6a6a6a" text-anchor="middle">1,20</text>
<text transform="translate(786.7,289.75) rotate(-90)" font-size="10.6" fill="#6a6a6a" text-anchor="middle">1,20</text>
<text transform="translate(810.2,241.3) rotate(-90)" font-size="10.6" fill="#6a6a6a" text-anchor="middle">2,40</text>
<text x="709.7" y="54.8" font-size="11.3" fill="#7a7a7a" text-anchor="middle">Isolator in</text>
<text x="709.7" y="68.2" font-size="11.3" fill="#7a7a7a" text-anchor="middle">Flucht mit</text>
<text x="709.7" y="81.3" font-size="11.3" fill="#7a7a7a" text-anchor="middle">Bahnsteigkante</text>
<path d="M705.75 89.3L713.65 89.3L709.7 101.1Z" stroke="none" stroke-width="0" fill="#757575"/>
<text x="937.4" y="54.8" font-size="11.3" fill="#7a7a7a" text-anchor="middle">Isolator in</text>
<text x="937.4" y="68.2" font-size="11.3" fill="#7a7a7a" text-anchor="middle">Flucht mit</text>
<text x="937.4" y="81.3" font-size="11.3" fill="#7a7a7a" text-anchor="middle">Bahnsteigkante</text>
<path d="M933.45 89.3L941.35 89.3L937.4 101.1Z" stroke="none" stroke-width="0" fill="#757575"/>
<text x="823.6" y="63.6" font-size="11.3" fill="#222" text-anchor="middle">Mittelachse</text>
<text x="823.6" y="76.3" font-size="11.3" fill="#222" text-anchor="middle">Gleisbett</text>
<line x1="39.3" y1="407.8" x2="1184.4" y2="407.8" stroke="#8a8a8a" stroke-width="1"/>
<line x1="43.1" y1="413" x2="53.5" y2="402.6" stroke="#444" stroke-width="1.7"/>
<line x1="385.15" y1="413" x2="395.55" y2="402.6" stroke="#444" stroke-width="1.7"/>
<line x1="506.7" y1="413" x2="517.1" y2="402.6" stroke="#444" stroke-width="1.7"/>
<line x1="547" y1="413" x2="557.4" y2="402.6" stroke="#444" stroke-width="1.7"/>
<line x1="587.4" y1="413" x2="597.8" y2="402.6" stroke="#444" stroke-width="1.7"/>
<line x1="668.2" y1="413" x2="678.6" y2="402.6" stroke="#444" stroke-width="1.7"/>
<line x1="704.5" y1="413" x2="714.9" y2="402.6" stroke="#444" stroke-width="1.7"/>
<line x1="818.4" y1="413" x2="828.8" y2="402.6" stroke="#444" stroke-width="1.7"/>
<line x1="932.2" y1="413" x2="942.6" y2="402.6" stroke="#444" stroke-width="1.7"/>
<line x1="969.1" y1="413" x2="979.5" y2="402.6" stroke="#444" stroke-width="1.7"/>
<line x1="1009.1" y1="413" x2="1019.5" y2="402.6" stroke="#444" stroke-width="1.7"/>
<line x1="1049.9" y1="413" x2="1060.3" y2="402.6" stroke="#444" stroke-width="1.7"/>
<line x1="1089.9" y1="413" x2="1100.3" y2="402.6" stroke="#444" stroke-width="1.7"/>
<line x1="1171" y1="413" x2="1181.4" y2="402.6" stroke="#444" stroke-width="1.7"/>
<line x1="39.3" y1="435.2" x2="1184.4" y2="435.2" stroke="#8a8a8a" stroke-width="1"/>
<line x1="43.1" y1="440.4" x2="53.5" y2="430" stroke="#444" stroke-width="1.7"/>
<line x1="385.15" y1="440.4" x2="395.55" y2="430" stroke="#444" stroke-width="1.7"/>
<line x1="668.2" y1="440.4" x2="678.6" y2="430" stroke="#444" stroke-width="1.7"/>
<line x1="818.4" y1="440.4" x2="828.8" y2="430" stroke="#444" stroke-width="1.7"/>
<line x1="969.1" y1="440.4" x2="979.5" y2="430" stroke="#444" stroke-width="1.7"/>
<line x1="1089.9" y1="440.4" x2="1100.3" y2="430" stroke="#444" stroke-width="1.7"/>
<line x1="1171" y1="440.4" x2="1181.4" y2="430" stroke="#444" stroke-width="1.7"/>
<text x="219.2" y="402.9" font-size="10.6" fill="#6a6a6a" text-anchor="middle">X</text>
<text x="451.4" y="400.8" font-size="10.6" fill="#6a6a6a" text-anchor="middle">1,50</text>
<text x="532" y="403.3" font-size="10.6" fill="#6a6a6a" text-anchor="middle">50</text>
<text x="572.3" y="403.3" font-size="10.6" fill="#6a6a6a" text-anchor="middle">50</text>
<text x="633.4" y="403.3" font-size="10.6" fill="#6a6a6a" text-anchor="middle">1,00</text>
<text x="691.3" y="403.3" font-size="10.6" fill="#6a6a6a" text-anchor="middle">45</text>
<text x="766.4" y="403.3" font-size="10.6" fill="#6a6a6a" text-anchor="middle">3,10</text>
<text x="881" y="403.3" font-size="10.6" fill="#6a6a6a" text-anchor="middle">3,10</text>
<text x="955.5" y="403.3" font-size="10.6" fill="#6a6a6a" text-anchor="middle">45</text>
<text x="993.9" y="403.3" font-size="10.6" fill="#6a6a6a" text-anchor="middle">50</text>
<text x="1034.6" y="403.3" font-size="10.6" fill="#6a6a6a" text-anchor="middle">50</text>
<text x="1074.7" y="403.3" font-size="10.6" fill="#6a6a6a" text-anchor="middle">50</text>
<text x="1136" y="403.3" font-size="10.6" fill="#6a6a6a" text-anchor="middle">X</text>
<text x="219.2" y="429" font-size="10.6" fill="#6a6a6a" text-anchor="middle">X</text>
<text x="532" y="427.8" font-size="10.6" fill="#6a6a6a" text-anchor="middle">3,50</text>
<text x="748.9" y="429" font-size="10.6" fill="#6a6a6a" text-anchor="middle">3,55</text>
<text x="899" y="429" font-size="10.6" fill="#6a6a6a" text-anchor="middle">3,55</text>
<text x="1035" y="427.7" font-size="10.6" fill="#6a6a6a" text-anchor="middle">1,50</text>
<text x="1136" y="428.8" font-size="10.6" fill="#6a6a6a" text-anchor="middle">X</text>
<text x="40.2" y="487.7" font-size="17.2" fill="#1a1a1a" font-weight="bold">Draufsicht untere Ebene:</text>
<text x="48.3" y="513.8" font-size="11.3" fill="#7a7a7a">NORD</text>
<text x="1164.3" y="513.8" font-size="11.3" fill="#7a7a7a">SÜD</text>
<line x1="369.6" y1="531.7" x2="48.4" y2="814.1" stroke="#222" stroke-width="1.9"/>
<path d="M349.3 530.7L369.6 531.7" stroke="#222" stroke-width="1.5" fill="none"/>
<line x1="349.3" y1="530.7" x2="356.3" y2="531" stroke="#222" stroke-width="2"/>
<path d="M337.15 541.37L357.45 542.37" stroke="#222" stroke-width="1.5" fill="none"/>
<line x1="337.15" y1="541.37" x2="344.15" y2="541.67" stroke="#222" stroke-width="2"/>
<path d="M325 552.04L345.3 553.04" stroke="#222" stroke-width="1.5" fill="none"/>
<line x1="325" y1="552.04" x2="332" y2="552.34" stroke="#222" stroke-width="2"/>
<path d="M312.85 562.71L333.15 563.71" stroke="#222" stroke-width="1.5" fill="none"/>
<line x1="312.85" y1="562.71" x2="319.85" y2="563.01" stroke="#222" stroke-width="2"/>
<path d="M300.7 573.38L321 574.38" stroke="#222" stroke-width="1.5" fill="none"/>
<line x1="300.7" y1="573.38" x2="307.7" y2="573.68" stroke="#222" stroke-width="2"/>
<path d="M288.55 584.05L308.85 585.05" stroke="#222" stroke-width="1.5" fill="none"/>
<line x1="288.55" y1="584.05" x2="295.55" y2="584.35" stroke="#222" stroke-width="2"/>
<path d="M276.4 594.72L296.7 595.72" stroke="#222" stroke-width="1.5" fill="none"/>
<line x1="276.4" y1="594.72" x2="283.4" y2="595.02" stroke="#222" stroke-width="2"/>
<path d="M264.25 605.39L284.55 606.39" stroke="#222" stroke-width="1.5" fill="none"/>
<line x1="264.25" y1="605.39" x2="271.25" y2="605.69" stroke="#222" stroke-width="2"/>
<path d="M252.1 616.06L272.4 617.06" stroke="#222" stroke-width="1.5" fill="none"/>
<line x1="252.1" y1="616.06" x2="259.1" y2="616.36" stroke="#222" stroke-width="2"/>
<path d="M239.95 626.73L260.25 627.73" stroke="#222" stroke-width="1.5" fill="none"/>
<line x1="239.95" y1="626.73" x2="246.95" y2="627.03" stroke="#222" stroke-width="2"/>
<path d="M227.8 637.4L248.1 638.4" stroke="#222" stroke-width="1.5" fill="none"/>
<line x1="227.8" y1="637.4" x2="234.8" y2="637.7" stroke="#222" stroke-width="2"/>
<path d="M215.65 648.07L235.95 649.07" stroke="#222" stroke-width="1.5" fill="none"/>
<line x1="215.65" y1="648.07" x2="222.65" y2="648.37" stroke="#222" stroke-width="2"/>
<path d="M203.5 658.74L223.8 659.74" stroke="#222" stroke-width="1.5" fill="none"/>
<line x1="203.5" y1="658.74" x2="210.5" y2="659.04" stroke="#222" stroke-width="2"/>
<path d="M191.35 669.41L211.65 670.41" stroke="#222" stroke-width="1.5" fill="none"/>
<line x1="191.35" y1="669.41" x2="198.35" y2="669.71" stroke="#222" stroke-width="2"/>
<path d="M179.2 680.08L199.5 681.08" stroke="#222" stroke-width="1.5" fill="none"/>
<line x1="179.2" y1="680.08" x2="186.2" y2="680.38" stroke="#222" stroke-width="2"/>
<path d="M167.05 690.75L187.35 691.75" stroke="#222" stroke-width="1.5" fill="none"/>
<line x1="167.05" y1="690.75" x2="174.05" y2="691.05" stroke="#222" stroke-width="2"/>
<path d="M154.9 701.42L175.2 702.42" stroke="#222" stroke-width="1.5" fill="none"/>
<line x1="154.9" y1="701.42" x2="161.9" y2="701.72" stroke="#222" stroke-width="2"/>
<path d="M142.75 712.09L163.05 713.09" stroke="#222" stroke-width="1.5" fill="none"/>
<line x1="142.75" y1="712.09" x2="149.75" y2="712.39" stroke="#222" stroke-width="2"/>
<path d="M130.6 722.76L150.9 723.76" stroke="#222" stroke-width="1.5" fill="none"/>
<line x1="130.6" y1="722.76" x2="137.6" y2="723.06" stroke="#222" stroke-width="2"/>
<path d="M118.45 733.43L138.75 734.43" stroke="#222" stroke-width="1.5" fill="none"/>
<line x1="118.45" y1="733.43" x2="125.45" y2="733.73" stroke="#222" stroke-width="2"/>
<path d="M106.3 744.1L126.6 745.1" stroke="#222" stroke-width="1.5" fill="none"/>
<line x1="106.3" y1="744.1" x2="113.3" y2="744.4" stroke="#222" stroke-width="2"/>
<path d="M94.15 754.77L114.45 755.77" stroke="#222" stroke-width="1.5" fill="none"/>
<line x1="94.15" y1="754.77" x2="101.15" y2="755.07" stroke="#222" stroke-width="2"/>
<path d="M82 765.44L102.3 766.44" stroke="#222" stroke-width="1.5" fill="none"/>
<line x1="82" y1="765.44" x2="89" y2="765.74" stroke="#222" stroke-width="2"/>
<path d="M69.85 776.11L90.15 777.11" stroke="#222" stroke-width="1.5" fill="none"/>
<line x1="69.85" y1="776.11" x2="76.85" y2="776.41" stroke="#222" stroke-width="2"/>
<path d="M57.7 786.78L78 787.78" stroke="#222" stroke-width="1.5" fill="none"/>
<line x1="57.7" y1="786.78" x2="64.7" y2="787.08" stroke="#222" stroke-width="2"/>
<path d="M45.55 797.45L65.85 798.45" stroke="#222" stroke-width="1.5" fill="none"/>
<line x1="45.55" y1="797.45" x2="52.55" y2="797.75" stroke="#222" stroke-width="2"/>
<path d="M41.3 808.12L53.7 809.12" stroke="#222" stroke-width="1.5" fill="none"/>
<line x1="41.3" y1="808.12" x2="48.3" y2="808.42" stroke="#222" stroke-width="2"/>
<line x1="48.3" y1="821.6" x2="48.3" y2="874" stroke="#444" stroke-width="1.3"/>
<line x1="1176.2" y1="531.4" x2="1176.2" y2="838" stroke="#222" stroke-width="1.5"/>
<defs><clipPath id="cw_531"><rect x="1174.2" y="531.4" width="30" height="306.6"/></clipPath></defs>
<g clip-path="url(#cw_531)">
<line x1="1176.2" y1="542.6" x2="1190.6" y2="529.2" stroke="#222" stroke-width="1.4"/>
<line x1="1176.2" y1="558.75" x2="1190.6" y2="545.35" stroke="#222" stroke-width="1.4"/>
<line x1="1176.2" y1="574.9" x2="1190.6" y2="561.5" stroke="#222" stroke-width="1.4"/>
<line x1="1176.2" y1="591.05" x2="1190.6" y2="577.65" stroke="#222" stroke-width="1.4"/>
<line x1="1176.2" y1="607.2" x2="1190.6" y2="593.8" stroke="#222" stroke-width="1.4"/>
<line x1="1176.2" y1="623.35" x2="1190.6" y2="609.95" stroke="#222" stroke-width="1.4"/>
<line x1="1176.2" y1="639.5" x2="1190.6" y2="626.1" stroke="#222" stroke-width="1.4"/>
<line x1="1176.2" y1="655.65" x2="1190.6" y2="642.25" stroke="#222" stroke-width="1.4"/>
<line x1="1176.2" y1="671.8" x2="1190.6" y2="658.4" stroke="#222" stroke-width="1.4"/>
<line x1="1176.2" y1="687.95" x2="1190.6" y2="674.55" stroke="#222" stroke-width="1.4"/>
<line x1="1176.2" y1="704.1" x2="1190.6" y2="690.7" stroke="#222" stroke-width="1.4"/>
<line x1="1176.2" y1="720.25" x2="1190.6" y2="706.85" stroke="#222" stroke-width="1.4"/>
<line x1="1176.2" y1="736.4" x2="1190.6" y2="723" stroke="#222" stroke-width="1.4"/>
<line x1="1176.2" y1="752.55" x2="1190.6" y2="739.15" stroke="#222" stroke-width="1.4"/>
<line x1="1176.2" y1="768.7" x2="1190.6" y2="755.3" stroke="#222" stroke-width="1.4"/>
<line x1="1176.2" y1="784.85" x2="1190.6" y2="771.45" stroke="#222" stroke-width="1.4"/>
<line x1="1176.2" y1="801" x2="1190.6" y2="787.6" stroke="#222" stroke-width="1.4"/>
<line x1="1176.2" y1="817.15" x2="1190.6" y2="803.75" stroke="#222" stroke-width="1.4"/>
<line x1="1176.2" y1="833.3" x2="1190.6" y2="819.9" stroke="#222" stroke-width="1.4"/>
</g>
<line x1="1176.2" y1="838" x2="1176.2" y2="874" stroke="#888" stroke-width="0.9"/>
<line x1="317.76" y1="575.2" x2="769.6" y2="575.2" stroke="#222" stroke-width="1.1"/>
<line x1="317.76" y1="577.7" x2="769.6" y2="577.7" stroke="#222" stroke-width="1.6"/>
<line x1="878.2" y1="575.2" x2="1176.2" y2="575.2" stroke="#222" stroke-width="1.1"/>
<line x1="878.2" y1="577.7" x2="1176.2" y2="577.7" stroke="#222" stroke-width="1.6"/>
<g transform="translate(709.7,576.4)">
<rect x="-11.3" y="-3.3" width="7.8" height="6.6" fill="#fff" stroke="#222" stroke-width="1.1"/>
<line x1="-11.3" y1="-3.6" x2="-11.3" y2="3.6" stroke="#222" stroke-width="1.6"/>
<path d="M-3.5 -7.2 L-0.9 -7 L3.1 -2.9 L3.1 2.9 L-0.9 7 L-3.5 7.2 Z" stroke="#222" stroke-width="1" fill="#222"/>
<path d="M-0.6 -4.6 L2.3 -2.1 L2.3 2.1 L-0.6 4.6 Z" stroke="none" stroke-width="0" fill="#e8e8e8"/>
<rect x="3.3" y="-2.9" width="6.4" height="5.8" fill="#fff" stroke="#222" stroke-width="1.1"/>
</g>
<g transform="translate(937.4,576.4) scale(-1,1)">
<rect x="-11.3" y="-3.3" width="7.8" height="6.6" fill="#fff" stroke="#222" stroke-width="1.1"/>
<line x1="-11.3" y1="-3.6" x2="-11.3" y2="3.6" stroke="#222" stroke-width="1.6"/>
<path d="M-3.5 -7.2 L-0.9 -7 L3.1 -2.9 L3.1 2.9 L-0.9 7 L-3.5 7.2 Z" stroke="#222" stroke-width="1" fill="#222"/>
<path d="M-0.6 -4.6 L2.3 -2.1 L2.3 2.1 L-0.6 4.6 Z" stroke="none" stroke-width="0" fill="#e8e8e8"/>
<rect x="3.3" y="-2.9" width="6.4" height="5.8" fill="#fff" stroke="#222" stroke-width="1.1"/>
</g>
<line x1="207.55" y1="671.6" x2="769.6" y2="671.6" stroke="#222" stroke-width="1.3"/>
<line x1="207.55" y1="675" x2="769.6" y2="675" stroke="#222" stroke-width="1.3"/>
<line x1="878.2" y1="671.6" x2="1176.2" y2="671.6" stroke="#222" stroke-width="1.3"/>
<line x1="878.2" y1="675" x2="1176.2" y2="675" stroke="#222" stroke-width="1.3"/>
<g transform="translate(709.7,673.3)">
<rect x="-11.3" y="-3.3" width="7.8" height="6.6" fill="#fff" stroke="#222" stroke-width="1.1"/>
<line x1="-11.3" y1="-3.6" x2="-11.3" y2="3.6" stroke="#222" stroke-width="1.6"/>
<path d="M-3.5 -7.2 L-0.9 -7 L3.1 -2.9 L3.1 2.9 L-0.9 7 L-3.5 7.2 Z" stroke="#222" stroke-width="1" fill="#222"/>
<path d="M-0.6 -4.6 L2.3 -2.1 L2.3 2.1 L-0.6 4.6 Z" stroke="none" stroke-width="0" fill="#e8e8e8"/>
<rect x="3.3" y="-2.9" width="6.4" height="5.8" fill="#fff" stroke="#222" stroke-width="1.1"/>
</g>
<g transform="translate(937.4,673.3) scale(-1,1)">
<rect x="-11.3" y="-3.3" width="7.8" height="6.6" fill="#fff" stroke="#222" stroke-width="1.1"/>
<line x1="-11.3" y1="-3.6" x2="-11.3" y2="3.6" stroke="#222" stroke-width="1.6"/>
<path d="M-3.5 -7.2 L-0.9 -7 L3.1 -2.9 L3.1 2.9 L-0.9 7 L-3.5 7.2 Z" stroke="#222" stroke-width="1" fill="#222"/>
<path d="M-0.6 -4.6 L2.3 -2.1 L2.3 2.1 L-0.6 4.6 Z" stroke="none" stroke-width="0" fill="#e8e8e8"/>
<rect x="3.3" y="-2.9" width="6.4" height="5.8" fill="#fff" stroke="#222" stroke-width="1.1"/>
</g>
<line x1="96.99" y1="769.5" x2="769.6" y2="769.5" stroke="#333" stroke-width="1"/>
<line x1="96.99" y1="771.5" x2="769.6" y2="771.5" stroke="#2a2a2a" stroke-width="1"/>
<line x1="878.2" y1="769.5" x2="1176.2" y2="769.5" stroke="#333" stroke-width="1"/>
<line x1="878.2" y1="771.5" x2="1176.2" y2="771.5" stroke="#2a2a2a" stroke-width="1"/>
<g transform="translate(709.7,770.5)">
<rect x="-11.3" y="-3.3" width="7.8" height="6.6" fill="#fff" stroke="#222" stroke-width="1.1"/>
<line x1="-11.3" y1="-3.6" x2="-11.3" y2="3.6" stroke="#222" stroke-width="1.6"/>
<path d="M-3.5 -7.2 L-0.9 -7 L3.1 -2.9 L3.1 2.9 L-0.9 7 L-3.5 7.2 Z" stroke="#222" stroke-width="1" fill="#222"/>
<path d="M-0.6 -4.6 L2.3 -2.1 L2.3 2.1 L-0.6 4.6 Z" stroke="none" stroke-width="0" fill="#e8e8e8"/>
<rect x="3.3" y="-2.9" width="6.4" height="5.8" fill="#fff" stroke="#222" stroke-width="1.1"/>
</g>
<g transform="translate(937.4,770.5) scale(-1,1)">
<rect x="-11.3" y="-3.3" width="7.8" height="6.6" fill="#fff" stroke="#222" stroke-width="1.1"/>
<line x1="-11.3" y1="-3.6" x2="-11.3" y2="3.6" stroke="#222" stroke-width="1.6"/>
<path d="M-3.5 -7.2 L-0.9 -7 L3.1 -2.9 L3.1 2.9 L-0.9 7 L-3.5 7.2 Z" stroke="#222" stroke-width="1" fill="#222"/>
<path d="M-0.6 -4.6 L2.3 -2.1 L2.3 2.1 L-0.6 4.6 Z" stroke="none" stroke-width="0" fill="#e8e8e8"/>
<rect x="3.3" y="-2.9" width="6.4" height="5.8" fill="#fff" stroke="#222" stroke-width="1.1"/>
</g>
<path d="M318.76 577.6C327.51 581.4 341.25 581.4 350 577.6" stroke="#f5a522" stroke-width="2.6" fill="none"/>
<path d="M350 577.6C361 581.4 379.35 581.4 390.35 577.6" stroke="#f5a522" stroke-width="2.6" fill="none"/>
<path d="M390.35 577.6C401.35 581.4 420 581.4 431 577.6" stroke="#f5a522" stroke-width="2.6" fill="none"/>
<path d="M431 577.6C442 581.4 460.5 581.4 471.5 577.6" stroke="#f5a522" stroke-width="2.6" fill="none"/>
<path d="M315.06 573.8L322.46 580.2M315.06 580.2L322.46 573.8" stroke="#f5a522" stroke-width="3" fill="none"/>
<path d="M346.3 573.8L353.7 580.2M346.3 580.2L353.7 573.8" stroke="#f5a522" stroke-width="3" fill="none"/>
<path d="M386.65 573.8L394.05 580.2M386.65 580.2L394.05 573.8" stroke="#f5a522" stroke-width="3" fill="none"/>
<path d="M427.3 573.8L434.7 580.2M427.3 580.2L434.7 573.8" stroke="#f5a522" stroke-width="3" fill="none"/>
<path d="M467.8 573.8L475.2 580.2M467.8 580.2L475.2 573.8" stroke="#f5a522" stroke-width="3" fill="none"/>
<path d="M552.2 577.6C563.2 581.4 581.6 581.4 592.6 577.6" stroke="#f5a522" stroke-width="2.6" fill="none"/>
<path d="M592.6 577.6C603.6 581.4 622.1 581.4 633.1 577.6" stroke="#f5a522" stroke-width="2.6" fill="none"/>
<path d="M548.5 573.8L555.9 580.2M548.5 580.2L555.9 573.8" stroke="#f5a522" stroke-width="3" fill="none"/>
<path d="M588.9 573.8L596.3 580.2M588.9 580.2L596.3 573.8" stroke="#f5a522" stroke-width="3" fill="none"/>
<path d="M629.4 573.8L636.8 580.2M629.4 580.2L636.8 573.8" stroke="#f5a522" stroke-width="3" fill="none"/>
<path d="M207.9 674.5C213.75 678.3 222.95 678.3 228.8 674.5" stroke="#e0452a" stroke-width="2.6" fill="none"/>
<path d="M228.8 674.5C239.8 678.3 258.2 678.3 269.2 674.5" stroke="#e0452a" stroke-width="2.6" fill="none"/>
<path d="M269.2 674.5C280.2 678.3 298.8 678.3 309.8 674.5" stroke="#e0452a" stroke-width="2.6" fill="none"/>
<path d="M204.2 670.7L211.6 677.1M204.2 677.1L211.6 670.7" stroke="#e0452a" stroke-width="3" fill="none"/>
<path d="M225.1 670.7L232.5 677.1M225.1 677.1L232.5 670.7" stroke="#e0452a" stroke-width="3" fill="none"/>
<path d="M265.5 670.7L272.9 677.1M265.5 677.1L272.9 670.7" stroke="#e0452a" stroke-width="3" fill="none"/>
<path d="M306.1 670.7L313.5 677.1M306.1 677.1L313.5 670.7" stroke="#e0452a" stroke-width="3" fill="none"/>
<path d="M390.35 674.5C401.35 678.3 420 678.3 431 674.5" stroke="#f5a522" stroke-width="2.6" fill="none"/>
<path d="M386.65 670.7L394.05 677.1M386.65 677.1L394.05 670.7" stroke="#f5a522" stroke-width="3" fill="none"/>
<path d="M427.3 670.7L434.7 677.1M427.3 677.1L434.7 670.7" stroke="#f5a522" stroke-width="3" fill="none"/>
<path d="M471.5 674.5C482.5 678.3 500.9 678.3 511.9 674.5" stroke="#f5a522" stroke-width="2.6" fill="none"/>
<path d="M511.9 674.5C522.9 678.3 541.2 678.3 552.2 674.5" stroke="#f5a522" stroke-width="2.6" fill="none"/>
<path d="M467.8 670.7L475.2 677.1M467.8 677.1L475.2 670.7" stroke="#f5a522" stroke-width="3" fill="none"/>
<path d="M508.2 670.7L515.6 677.1M508.2 677.1L515.6 670.7" stroke="#f5a522" stroke-width="3" fill="none"/>
<path d="M548.5 670.7L555.9 677.1M548.5 677.1L555.9 670.7" stroke="#f5a522" stroke-width="3" fill="none"/>
<path d="M107.7 771.7C118.7 775.5 137.4 775.5 148.4 771.7" stroke="#f5a522" stroke-width="2.6" fill="none"/>
<path d="M148.4 771.7C159.4 775.5 177.6 775.5 188.6 771.7" stroke="#f5a522" stroke-width="2.6" fill="none"/>
<path d="M188.6 771.7C199.6 775.5 217.8 775.5 228.8 771.7" stroke="#f5a522" stroke-width="2.6" fill="none"/>
<path d="M228.8 771.7C239.8 775.5 258.2 775.5 269.2 771.7" stroke="#f5a522" stroke-width="2.6" fill="none"/>
<path d="M269.2 771.7C280.2 775.5 298.8 775.5 309.8 771.7" stroke="#f5a522" stroke-width="2.6" fill="none"/>
<path d="M309.8 771.7C320.8 775.5 339 775.5 350 771.7" stroke="#f5a522" stroke-width="2.6" fill="none"/>
<path d="M350 771.7C361 775.5 379.35 775.5 390.35 771.7" stroke="#f5a522" stroke-width="2.6" fill="none"/>
<path d="M104 767.9L111.4 774.3M104 774.3L111.4 767.9" stroke="#f5a522" stroke-width="3" fill="none"/>
<path d="M144.7 767.9L152.1 774.3M144.7 774.3L152.1 767.9" stroke="#f5a522" stroke-width="3" fill="none"/>
<path d="M184.9 767.9L192.3 774.3M184.9 774.3L192.3 767.9" stroke="#f5a522" stroke-width="3" fill="none"/>
<path d="M225.1 767.9L232.5 774.3M225.1 774.3L232.5 767.9" stroke="#f5a522" stroke-width="3" fill="none"/>
<path d="M265.5 767.9L272.9 774.3M265.5 774.3L272.9 767.9" stroke="#f5a522" stroke-width="3" fill="none"/>
<path d="M306.1 767.9L313.5 774.3M306.1 774.3L313.5 767.9" stroke="#f5a522" stroke-width="3" fill="none"/>
<path d="M346.3 767.9L353.7 774.3M346.3 774.3L353.7 767.9" stroke="#f5a522" stroke-width="3" fill="none"/>
<path d="M386.65 767.9L394.05 774.3M386.65 774.3L394.05 767.9" stroke="#f5a522" stroke-width="3" fill="none"/>
<path d="M93.8 767.9L101.2 774.3M93.8 774.3L101.2 767.9" stroke="#f5a522" stroke-width="3" fill="none"/>
<path d="M1014.3 674.5C1025.3 678.3 1044.1 678.3 1055.1 674.5" stroke="#f5a522" stroke-width="2.6" fill="none"/>
<path d="M1055.1 674.5C1066.1 678.3 1084.1 678.3 1095.1 674.5" stroke="#f5a522" stroke-width="2.6" fill="none"/>
<path d="M1010.6 670.7L1018 677.1M1010.6 677.1L1018 670.7" stroke="#f5a522" stroke-width="3" fill="none"/>
<path d="M1051.4 670.7L1058.8 677.1M1051.4 677.1L1058.8 670.7" stroke="#f5a522" stroke-width="3" fill="none"/>
<path d="M1091.4 670.7L1098.8 677.1M1091.4 677.1L1098.8 670.7" stroke="#f5a522" stroke-width="3" fill="none"/>
<path d="M1095.1 771.7C1106.1 775.5 1124.8 775.5 1135.8 771.7" stroke="#f5a522" stroke-width="2.6" fill="none"/>
<path d="M1135.8 771.7C1146.8 775.5 1165.2 775.5 1176.2 771.7" stroke="#f5a522" stroke-width="2.6" fill="none"/>
<path d="M1091.4 767.9L1098.8 774.3M1091.4 774.3L1098.8 767.9" stroke="#f5a522" stroke-width="3" fill="none"/>
<path d="M1132.1 767.9L1139.5 774.3M1132.1 774.3L1139.5 767.9" stroke="#f5a522" stroke-width="3" fill="none"/>
<path d="M1172.5 767.9L1179.9 774.3M1172.5 774.3L1179.9 767.9" stroke="#f5a522" stroke-width="3" fill="none"/>
<line x1="107.7" y1="761.96" x2="107.7" y2="815.4" stroke="#979797" stroke-width="1.1" stroke-dasharray="26 2.2 1.6 2.2"/>
<line x1="148.4" y1="726.18" x2="148.4" y2="815.4" stroke="#979797" stroke-width="1.1" stroke-dasharray="26 2.2 1.6 2.2"/>
<line x1="188.6" y1="690.84" x2="188.6" y2="815.4" stroke="#979797" stroke-width="1.1" stroke-dasharray="26 2.2 1.6 2.2"/>
<line x1="228.8" y1="655.49" x2="228.8" y2="815.4" stroke="#979797" stroke-width="1.1" stroke-dasharray="26 2.2 1.6 2.2"/>
<line x1="269.2" y1="619.97" x2="269.2" y2="815.4" stroke="#979797" stroke-width="1.1" stroke-dasharray="26 2.2 1.6 2.2"/>
<line x1="309.8" y1="584.28" x2="309.8" y2="815.4" stroke="#979797" stroke-width="1.1" stroke-dasharray="26 2.2 1.6 2.2"/>
<line x1="350" y1="548.93" x2="350" y2="815.4" stroke="#979797" stroke-width="1.1" stroke-dasharray="26 2.2 1.6 2.2"/>
<line x1="390.35" y1="531.5" x2="390.35" y2="815.4" stroke="#979797" stroke-width="1.1" stroke-dasharray="26 2.2 1.6 2.2"/>
<line x1="431" y1="531.5" x2="431" y2="815.4" stroke="#979797" stroke-width="1.1" stroke-dasharray="26 2.2 1.6 2.2"/>
<line x1="471.5" y1="531.5" x2="471.5" y2="815.4" stroke="#979797" stroke-width="1.1" stroke-dasharray="26 2.2 1.6 2.2"/>
<line x1="511.9" y1="531.5" x2="511.9" y2="815.4" stroke="#979797" stroke-width="1.1" stroke-dasharray="26 2.2 1.6 2.2"/>
<line x1="552.2" y1="531.5" x2="552.2" y2="815.4" stroke="#979797" stroke-width="1.1" stroke-dasharray="26 2.2 1.6 2.2"/>
<line x1="592.6" y1="531.5" x2="592.6" y2="815.4" stroke="#979797" stroke-width="1.1" stroke-dasharray="26 2.2 1.6 2.2"/>
<line x1="633.1" y1="531.5" x2="633.1" y2="815.4" stroke="#979797" stroke-width="1.1" stroke-dasharray="26 2.2 1.6 2.2"/>
<line x1="673.4" y1="531.5" x2="673.4" y2="815.4" stroke="#979797" stroke-width="1.1" stroke-dasharray="26 2.2 1.6 2.2"/>
<line x1="974.3" y1="531.5" x2="974.3" y2="815.4" stroke="#979797" stroke-width="1.1" stroke-dasharray="26 2.2 1.6 2.2"/>
<line x1="1014.3" y1="531.5" x2="1014.3" y2="815.4" stroke="#979797" stroke-width="1.1" stroke-dasharray="26 2.2 1.6 2.2"/>
<line x1="1055.1" y1="531.5" x2="1055.1" y2="815.4" stroke="#979797" stroke-width="1.1" stroke-dasharray="26 2.2 1.6 2.2"/>
<line x1="1095.1" y1="531.5" x2="1095.1" y2="815.4" stroke="#979797" stroke-width="1.1" stroke-dasharray="26 2.2 1.6 2.2"/>
<line x1="1135.8" y1="531.5" x2="1135.8" y2="815.4" stroke="#979797" stroke-width="1.1" stroke-dasharray="26 2.2 1.6 2.2"/>
<line x1="709.7" y1="539" x2="709.7" y2="847" stroke="#aaa" stroke-width="1"/>
<line x1="937.4" y1="539" x2="937.4" y2="847" stroke="#666" stroke-width="0.9"/>
<line x1="309.8" y1="821.6" x2="309.8" y2="874" stroke="#333" stroke-width="1.4"/>
<line x1="390.35" y1="821.6" x2="390.35" y2="847" stroke="#979797" stroke-width="1"/>
<line x1="431" y1="821.6" x2="431" y2="847" stroke="#333" stroke-width="1.4"/>
<line x1="471.5" y1="821.6" x2="471.5" y2="847" stroke="#555" stroke-width="1.2"/>
<line x1="552.2" y1="821.6" x2="552.2" y2="847" stroke="#979797" stroke-width="1"/>
<line x1="633.1" y1="821.6" x2="633.1" y2="874" stroke="#333" stroke-width="1.4"/>
<line x1="1014.3" y1="821.6" x2="1014.3" y2="874" stroke="#333" stroke-width="1.4"/>
<line x1="1095.1" y1="821.6" x2="1095.1" y2="874" stroke="#979797" stroke-width="1"/>
<line x1="310" y1="673.3" x2="310" y2="770.5" stroke="#3c5cb2" stroke-width="3.4"/>
<rect x="310" y="717" width="3.2" height="10" fill="#3c5cb2" stroke="none" stroke-width="1"/>
<rect x="386.05" y="652.5" width="8.6" height="137.9" fill="#8fabde" stroke="none" stroke-width="1"/>
<line x1="386.75" y1="652.5" x2="386.75" y2="790.4" stroke="#3f5fb4" stroke-width="1.5"/>
<line x1="394.25" y1="652.5" x2="394.25" y2="790.4" stroke="#3f5fb4" stroke-width="0.8"/>
<rect x="386.05" y="652.5" width="8.6" height="5.6" fill="#3f5fb4" stroke="none" stroke-width="1"/>
<rect x="386.05" y="784.8" width="8.6" height="5.6" fill="#3f5fb4" stroke="none" stroke-width="1"/>
<line x1="387.05" y1="654.1" x2="393.65" y2="654.1" stroke="#8fabde" stroke-width="0.8"/>
<line x1="387.05" y1="788.8" x2="393.65" y2="788.8" stroke="#8fabde" stroke-width="0.8"/>
<rect x="388.45" y="650.1" width="3.8" height="2.4" fill="#3f5fb4" stroke="none" stroke-width="1"/>
<rect x="388.45" y="790.4" width="3.8" height="2.4" fill="#3f5fb4" stroke="none" stroke-width="1"/>
<rect x="426.7" y="652.5" width="8.6" height="137.9" fill="#3f5fb4" stroke="none" stroke-width="1"/>
<line x1="433.3" y1="657.5" x2="433.3" y2="785.4" stroke="#8fabde" stroke-width="1.4"/>
<line x1="427.7" y1="654.1" x2="434.3" y2="654.1" stroke="#8fabde" stroke-width="0.8"/>
<line x1="427.7" y1="788.8" x2="434.3" y2="788.8" stroke="#8fabde" stroke-width="0.8"/>
<rect x="429.1" y="650.1" width="3.8" height="2.4" fill="#3f5fb4" stroke="none" stroke-width="1"/>
<rect x="429.1" y="790.4" width="3.8" height="2.4" fill="#3f5fb4" stroke="none" stroke-width="1"/>
<rect x="467.2" y="556.2" width="8.6" height="138.1" fill="#8fabde" stroke="none" stroke-width="1"/>
<line x1="467.9" y1="556.2" x2="467.9" y2="694.3" stroke="#3f5fb4" stroke-width="1.5"/>
<line x1="475.4" y1="556.2" x2="475.4" y2="694.3" stroke="#3f5fb4" stroke-width="0.8"/>
<rect x="467.2" y="556.2" width="8.6" height="5.6" fill="#3f5fb4" stroke="none" stroke-width="1"/>
<rect x="467.2" y="688.7" width="8.6" height="5.6" fill="#3f5fb4" stroke="none" stroke-width="1"/>
<line x1="468.2" y1="557.8" x2="474.8" y2="557.8" stroke="#8fabde" stroke-width="0.8"/>
<line x1="468.2" y1="692.7" x2="474.8" y2="692.7" stroke="#8fabde" stroke-width="0.8"/>
<rect x="469.6" y="553.8" width="3.8" height="2.4" fill="#3f5fb4" stroke="none" stroke-width="1"/>
<rect x="469.6" y="694.3" width="3.8" height="2.4" fill="#3f5fb4" stroke="none" stroke-width="1"/>
<rect x="547.9" y="556.2" width="8.6" height="138.1" fill="#8fabde" stroke="none" stroke-width="1"/>
<line x1="548.6" y1="556.2" x2="548.6" y2="694.3" stroke="#3f5fb4" stroke-width="1.5"/>
<line x1="556.1" y1="556.2" x2="556.1" y2="694.3" stroke="#3f5fb4" stroke-width="0.8"/>
<rect x="547.9" y="556.2" width="8.6" height="5.6" fill="#3f5fb4" stroke="none" stroke-width="1"/>
<rect x="547.9" y="688.7" width="8.6" height="5.6" fill="#3f5fb4" stroke="none" stroke-width="1"/>
<line x1="548.9" y1="557.8" x2="555.5" y2="557.8" stroke="#8fabde" stroke-width="0.8"/>
<line x1="548.9" y1="692.7" x2="555.5" y2="692.7" stroke="#8fabde" stroke-width="0.8"/>
<rect x="550.3" y="553.8" width="3.8" height="2.4" fill="#3f5fb4" stroke="none" stroke-width="1"/>
<rect x="550.3" y="694.3" width="3.8" height="2.4" fill="#3f5fb4" stroke="none" stroke-width="1"/>
<rect x="628.8" y="556.2" width="8.6" height="138.1" fill="#3f5fb4" stroke="none" stroke-width="1"/>
<line x1="635.4" y1="561.2" x2="635.4" y2="689.3" stroke="#8fabde" stroke-width="1.4"/>
<line x1="629.8" y1="557.8" x2="636.4" y2="557.8" stroke="#8fabde" stroke-width="0.8"/>
<line x1="629.8" y1="692.7" x2="636.4" y2="692.7" stroke="#8fabde" stroke-width="0.8"/>
<rect x="631.2" y="553.8" width="3.8" height="2.4" fill="#3f5fb4" stroke="none" stroke-width="1"/>
<rect x="631.2" y="694.3" width="3.8" height="2.4" fill="#3f5fb4" stroke="none" stroke-width="1"/>
<rect x="1010" y="652.7" width="8.6" height="137.7" fill="#8fabde" stroke="none" stroke-width="1"/>
<line x1="1010.7" y1="652.7" x2="1010.7" y2="790.4" stroke="#3f5fb4" stroke-width="1.5"/>
<line x1="1018.2" y1="652.7" x2="1018.2" y2="790.4" stroke="#3f5fb4" stroke-width="0.8"/>
<rect x="1010" y="652.7" width="8.6" height="5.6" fill="#3f5fb4" stroke="none" stroke-width="1"/>
<rect x="1010" y="784.8" width="8.6" height="5.6" fill="#3f5fb4" stroke="none" stroke-width="1"/>
<line x1="1011" y1="654.3" x2="1017.6" y2="654.3" stroke="#8fabde" stroke-width="0.8"/>
<line x1="1011" y1="788.8" x2="1017.6" y2="788.8" stroke="#8fabde" stroke-width="0.8"/>
<rect x="1012.4" y="650.3" width="3.8" height="2.4" fill="#3f5fb4" stroke="none" stroke-width="1"/>
<rect x="1012.4" y="790.4" width="3.8" height="2.4" fill="#3f5fb4" stroke="none" stroke-width="1"/>
<rect x="1090.8" y="652.7" width="8.6" height="137.7" fill="#8fabde" stroke="none" stroke-width="1"/>
<line x1="1091.5" y1="652.7" x2="1091.5" y2="790.4" stroke="#3f5fb4" stroke-width="1.5"/>
<line x1="1099" y1="652.7" x2="1099" y2="790.4" stroke="#3f5fb4" stroke-width="0.8"/>
<rect x="1090.8" y="652.7" width="8.6" height="5.6" fill="#3f5fb4" stroke="none" stroke-width="1"/>
<rect x="1090.8" y="784.8" width="8.6" height="5.6" fill="#3f5fb4" stroke="none" stroke-width="1"/>
<line x1="1091.8" y1="654.3" x2="1098.4" y2="654.3" stroke="#8fabde" stroke-width="0.8"/>
<line x1="1091.8" y1="788.8" x2="1098.4" y2="788.8" stroke="#8fabde" stroke-width="0.8"/>
<rect x="1093.2" y="650.3" width="3.8" height="2.4" fill="#3f5fb4" stroke="none" stroke-width="1"/>
<rect x="1093.2" y="790.4" width="3.8" height="2.4" fill="#3f5fb4" stroke="none" stroke-width="1"/>
<path d="M386.65 670.7L394.05 677.1M386.65 677.1L394.05 670.7" stroke="#f5a522" stroke-width="3" fill="none"/>
<path d="M427.3 670.7L434.7 677.1M427.3 677.1L434.7 670.7" stroke="#f5a522" stroke-width="3" fill="none"/>
<path d="M467.8 670.7L475.2 677.1M467.8 677.1L475.2 670.7" stroke="#f5a522" stroke-width="3" fill="none"/>
<path d="M548.5 670.7L555.9 677.1M548.5 677.1L555.9 670.7" stroke="#f5a522" stroke-width="3" fill="none"/>
<path d="M467.8 573.8L475.2 580.2M467.8 580.2L475.2 573.8" stroke="#f5a522" stroke-width="3" fill="none"/>
<path d="M548.5 573.8L555.9 580.2M548.5 580.2L555.9 573.8" stroke="#f5a522" stroke-width="3" fill="none"/>
<path d="M629.4 573.8L636.8 580.2M629.4 580.2L636.8 573.8" stroke="#f5a522" stroke-width="3" fill="none"/>
<path d="M386.65 767.9L394.05 774.3M386.65 774.3L394.05 767.9" stroke="#f5a522" stroke-width="3" fill="none"/>
<path d="M1010.6 670.7L1018 677.1M1010.6 677.1L1018 670.7" stroke="#f5a522" stroke-width="3" fill="none"/>
<path d="M1091.4 670.7L1098.8 677.1M1091.4 677.1L1098.8 670.7" stroke="#f5a522" stroke-width="3" fill="none"/>
<path d="M1091.4 767.9L1098.8 774.3M1091.4 774.3L1098.8 767.9" stroke="#f5a522" stroke-width="3" fill="none"/>
<line x1="309.7" y1="665" x2="309.7" y2="721" stroke="#ee2433" stroke-width="1.3"/>
<line x1="309.7" y1="721" x2="285" y2="746" stroke="#ee2433" stroke-width="1.5"/>
<path d="M278.3 752.7L283 742.6L288.4 748Z" stroke="none" stroke-width="0" fill="#ee2433"/>
<path d="M309.7 694.2A22.3 22.3 0 0 0 294 735.9" stroke="#ee2433" stroke-width="1.2" fill="none"/>
<circle cx="302.5" cy="715.5" r="6.1" fill="#fff" stroke="#3c5cb2" stroke-width="0.9"/>
<circle cx="302.5" cy="715.5" r="4.4" fill="#3c5cb2" stroke="none" stroke-width="1"/>
<path d="M306.1 670.7L313.5 677.1M306.1 677.1L313.5 670.7" stroke="#e0452a" stroke-width="3" fill="none"/>
<text x="260" y="732.5" font-size="11.3" fill="#ee2433">130°</text>
<text x="307" y="665.3" font-size="6" fill="#ee2433">0°</text>
<line x1="769.6" y1="532.9" x2="769.6" y2="815.6" stroke="#777" stroke-width="0.9" stroke-dasharray="13.7 5.5" stroke-dashoffset="1.2"/>
<line x1="777.2" y1="532.9" x2="777.2" y2="815.6" stroke="#555" stroke-width="1.4" stroke-dasharray="13.7 5.5" stroke-dashoffset="1.2"/>
<line x1="870.1" y1="532.9" x2="870.1" y2="815.6" stroke="#555" stroke-width="1.4" stroke-dasharray="13.7 5.5" stroke-dashoffset="1.2"/>
<line x1="878.2" y1="532.9" x2="878.2" y2="815.6" stroke="#999" stroke-width="0.9" stroke-dasharray="13.7 5.5" stroke-dashoffset="1.2"/>
<line x1="823.6" y1="532.3" x2="823.6" y2="847" stroke="#111" stroke-width="2.3" stroke-dasharray="5.4 3.8" stroke-dashoffset="2"/>
<line x1="823.6" y1="845" x2="823.6" y2="874" stroke="#444" stroke-width="1.2"/>
<line x1="793.6" y1="567.2" x2="793.6" y2="777.6" stroke="#555" stroke-width="1.3"/>
<line x1="816.5" y1="567.2" x2="816.5" y2="777.6" stroke="#8a8a8a" stroke-width="1"/>
<line x1="780.7" y1="574.9" x2="801.2" y2="574.9" stroke="#8a8a8a" stroke-width="0.9"/>
<line x1="788.2" y1="569.5" x2="799" y2="580.3" stroke="#444" stroke-width="1.6"/>
<line x1="780.7" y1="671.6" x2="801.2" y2="671.6" stroke="#8a8a8a" stroke-width="0.9"/>
<line x1="788.2" y1="666.2" x2="799" y2="677" stroke="#444" stroke-width="1.6"/>
<line x1="780.7" y1="769" x2="801.2" y2="769" stroke="#8a8a8a" stroke-width="0.9"/>
<line x1="788.2" y1="763.6" x2="799" y2="774.4" stroke="#444" stroke-width="1.6"/>
<line x1="811.4" y1="574.9" x2="823.6" y2="574.9" stroke="#8a8a8a" stroke-width="0.9"/>
<line x1="811.5" y1="569.9" x2="821.5" y2="579.9" stroke="#444" stroke-width="1.4"/>
<line x1="811.4" y1="769" x2="823.6" y2="769" stroke="#8a8a8a" stroke-width="0.9"/>
<line x1="811.5" y1="764" x2="821.5" y2="774" stroke="#444" stroke-width="1.4"/>
<text transform="translate(786.7,623.25) rotate(-90)" font-size="10.6" fill="#6a6a6a" text-anchor="middle">1,20</text>
<text transform="translate(786.7,720.3) rotate(-90)" font-size="10.6" fill="#6a6a6a" text-anchor="middle">1,20</text>
<text transform="translate(810.2,671.6) rotate(-90)" font-size="10.6" fill="#6a6a6a" text-anchor="middle">2,40</text>
<text x="709.7" y="491.6" font-size="11.3" fill="#7a7a7a" text-anchor="middle">Isolator in</text>
<text x="709.7" y="504.7" font-size="11.3" fill="#7a7a7a" text-anchor="middle">Flucht mit</text>
<text x="709.7" y="518.4" font-size="11.3" fill="#7a7a7a" text-anchor="middle">Bahnsteigkante</text>
<path d="M705.75 528.1L713.65 528.1L709.7 539.7Z" stroke="none" stroke-width="0" fill="#757575"/>
<text x="937.4" y="491.6" font-size="11.3" fill="#7a7a7a" text-anchor="middle">Isolator in</text>
<text x="937.4" y="504.7" font-size="11.3" fill="#7a7a7a" text-anchor="middle">Flucht mit</text>
<text x="937.4" y="518.4" font-size="11.3" fill="#7a7a7a" text-anchor="middle">Bahnsteigkante</text>
<path d="M933.45 528.1L941.35 528.1L937.4 539.7Z" stroke="none" stroke-width="0" fill="#757575"/>
<text x="823.6" y="497.8" font-size="11.3" fill="#222" text-anchor="middle">Mittelachse</text>
<text x="823.6" y="511.6" font-size="11.3" fill="#222" text-anchor="middle">Gleisbett</text>
<line x1="39.3" y1="838.4" x2="1184.4" y2="838.4" stroke="#666" stroke-width="1.1"/>
<line x1="43.1" y1="843.6" x2="53.5" y2="833.2" stroke="#444" stroke-width="1.7"/>
<line x1="304.6" y1="843.6" x2="315" y2="833.2" stroke="#444" stroke-width="1.7"/>
<line x1="385.15" y1="843.6" x2="395.55" y2="833.2" stroke="#444" stroke-width="1.7"/>
<line x1="425.8" y1="843.6" x2="436.2" y2="833.2" stroke="#444" stroke-width="1.7"/>
<line x1="466.3" y1="843.6" x2="476.7" y2="833.2" stroke="#444" stroke-width="1.7"/>
<line x1="547" y1="843.6" x2="557.4" y2="833.2" stroke="#444" stroke-width="1.7"/>
<line x1="627.9" y1="843.6" x2="638.3" y2="833.2" stroke="#444" stroke-width="1.7"/>
<line x1="704.5" y1="843.6" x2="714.9" y2="833.2" stroke="#444" stroke-width="1.7"/>
<line x1="818.4" y1="843.6" x2="828.8" y2="833.2" stroke="#444" stroke-width="1.7"/>
<line x1="932.2" y1="843.6" x2="942.6" y2="833.2" stroke="#444" stroke-width="1.7"/>
<line x1="1009.1" y1="843.6" x2="1019.5" y2="833.2" stroke="#444" stroke-width="1.7"/>
<line x1="1089.9" y1="843.6" x2="1100.3" y2="833.2" stroke="#444" stroke-width="1.7"/>
<line x1="1171" y1="843.6" x2="1181.4" y2="833.2" stroke="#444" stroke-width="1.7"/>
<line x1="39.3" y1="865.4" x2="1184.4" y2="865.4" stroke="#666" stroke-width="1.1"/>
<line x1="43.1" y1="870.6" x2="53.5" y2="860.2" stroke="#444" stroke-width="1.7"/>
<line x1="304.6" y1="870.6" x2="315" y2="860.2" stroke="#444" stroke-width="1.7"/>
<line x1="627.9" y1="870.6" x2="638.3" y2="860.2" stroke="#444" stroke-width="1.7"/>
<line x1="818.4" y1="870.6" x2="828.8" y2="860.2" stroke="#444" stroke-width="1.7"/>
<line x1="1009.1" y1="870.6" x2="1019.5" y2="860.2" stroke="#444" stroke-width="1.7"/>
<line x1="1089.9" y1="870.6" x2="1100.3" y2="860.2" stroke="#444" stroke-width="1.7"/>
<line x1="1171" y1="870.6" x2="1181.4" y2="860.2" stroke="#444" stroke-width="1.7"/>
<text x="178.6" y="833.3" font-size="10.6" fill="#6a6a6a" text-anchor="middle">X</text>
<text x="350.6" y="833.3" font-size="10.6" fill="#6a6a6a" text-anchor="middle">1,00</text>
<text x="411.3" y="831.5" font-size="10.6" fill="#6a6a6a" text-anchor="middle">50</text>
<text x="451.4" y="832.7" font-size="10.6" fill="#6a6a6a" text-anchor="middle">50</text>
<text x="512.2" y="832.7" font-size="10.6" fill="#6a6a6a" text-anchor="middle">1,00</text>
<text x="592.9" y="832.7" font-size="10.6" fill="#6a6a6a" text-anchor="middle">1,00</text>
<text x="671.3" y="832.7" font-size="10.6" fill="#6a6a6a" text-anchor="middle">95</text>
<text x="766.4" y="832.7" font-size="10.6" fill="#6a6a6a" text-anchor="middle">3,10</text>
<text x="880.8" y="833.3" font-size="10.6" fill="#6a6a6a" text-anchor="middle">3,10</text>
<text x="976.2" y="833.3" font-size="10.6" fill="#6a6a6a" text-anchor="middle">95</text>
<text x="1055" y="833.3" font-size="10.6" fill="#6a6a6a" text-anchor="middle">1,00</text>
<text x="1135.9" y="833.3" font-size="10.6" fill="#6a6a6a" text-anchor="middle">X</text>
<text x="178.6" y="860.4" font-size="10.6" fill="#6a6a6a" text-anchor="middle">X</text>
<text x="471.4" y="858.5" font-size="10.6" fill="#6a6a6a" text-anchor="middle">4,00</text>
<text x="728.1" y="860.3" font-size="10.6" fill="#6a6a6a" text-anchor="middle">4,05</text>
<text x="919.2" y="859.8" font-size="10.6" fill="#6a6a6a" text-anchor="middle">4,05</text>
<text x="1055" y="858.2" font-size="10.6" fill="#6a6a6a" text-anchor="middle">1,00</text>
<text x="1135.9" y="859.8" font-size="10.6" fill="#6a6a6a" text-anchor="middle">X</text>
<text x="33.3" y="975.8" font-size="17.2" fill="#1a1a1a" font-weight="bold">Ansicht:</text>
<text x="48.3" y="1000.9" font-size="11.3" fill="#7a7a7a">NORD</text>
<text x="1164.3" y="1000.2" font-size="11.3" fill="#7a7a7a">SÜD</text>
<line x1="48.3" y1="1018" x2="48.3" y2="1157" stroke="#222" stroke-width="1.8"/>
<defs><clipPath id="cl3"><rect x="25" y="1017" width="25" height="140"/></clipPath></defs><g clip-path="url(#cl3)">
<line x1="48.3" y1="1018" x2="33" y2="1033.3" stroke="#222" stroke-width="1.7"/>
<line x1="48.3" y1="1034.05" x2="33" y2="1049.35" stroke="#222" stroke-width="1.7"/>
<line x1="48.3" y1="1050.1" x2="33" y2="1065.4" stroke="#222" stroke-width="1.7"/>
<line x1="48.3" y1="1066.15" x2="33" y2="1081.45" stroke="#222" stroke-width="1.7"/>
<line x1="48.3" y1="1082.2" x2="33" y2="1097.5" stroke="#222" stroke-width="1.7"/>
<line x1="48.3" y1="1098.25" x2="33" y2="1113.55" stroke="#222" stroke-width="1.7"/>
<line x1="48.3" y1="1114.3" x2="33" y2="1129.6" stroke="#222" stroke-width="1.7"/>
<line x1="48.3" y1="1130.35" x2="33" y2="1145.65" stroke="#222" stroke-width="1.7"/>
<line x1="48.3" y1="1146.4" x2="33" y2="1161.7" stroke="#222" stroke-width="1.7"/>
<line x1="48.3" y1="1162.45" x2="33" y2="1177.75" stroke="#222" stroke-width="1.7"/>
</g>
<line x1="1175.9" y1="1018" x2="1175.9" y2="1157.3" stroke="#222" stroke-width="1.6"/>
<defs><clipPath id="cw_1018"><rect x="1173.9" y="1018" width="30" height="139.3"/></clipPath></defs>
<g clip-path="url(#cw_1018)">
<line x1="1175.9" y1="1026.8" x2="1190.3" y2="1013.4" stroke="#222" stroke-width="1.5"/>
<line x1="1175.9" y1="1042.95" x2="1190.3" y2="1029.55" stroke="#222" stroke-width="1.5"/>
<line x1="1175.9" y1="1059.1" x2="1190.3" y2="1045.7" stroke="#222" stroke-width="1.5"/>
<line x1="1175.9" y1="1075.25" x2="1190.3" y2="1061.85" stroke="#222" stroke-width="1.5"/>
<line x1="1175.9" y1="1091.4" x2="1190.3" y2="1078" stroke="#222" stroke-width="1.5"/>
<line x1="1175.9" y1="1107.55" x2="1190.3" y2="1094.15" stroke="#222" stroke-width="1.5"/>
<line x1="1175.9" y1="1123.7" x2="1190.3" y2="1110.3" stroke="#222" stroke-width="1.5"/>
<line x1="1175.9" y1="1139.85" x2="1190.3" y2="1126.45" stroke="#222" stroke-width="1.5"/>
<line x1="1175.9" y1="1156" x2="1190.3" y2="1142.6" stroke="#222" stroke-width="1.5"/>
</g>
<line x1="48.3" y1="1057.7" x2="769.6" y2="1057.7" stroke="#555" stroke-width="0.8" stroke-dasharray="30 3 1.6 3"/>
<line x1="48.3" y1="1106.4" x2="769.6" y2="1106.4" stroke="#555" stroke-width="0.8" stroke-dasharray="30 3 1.6 3"/>
<line x1="878.2" y1="1057.7" x2="1159" y2="1057.7" stroke="#555" stroke-width="0.8" stroke-dasharray="30 3 1.6 3"/>
<line x1="878.2" y1="1106.4" x2="1158" y2="1106.4" stroke="#555" stroke-width="0.8" stroke-dasharray="30 3 1.6 3"/>
<line x1="48.3" y1="1063" x2="769.6" y2="1063" stroke="#222" stroke-width="4.4"/>
<line x1="48.3" y1="1063.2" x2="769.6" y2="1063.2" stroke="#8a8a8a" stroke-width="1.5"/>
<line x1="48.3" y1="1110.1" x2="769.6" y2="1110.1" stroke="#222" stroke-width="1.7"/>
<line x1="48.3" y1="1112.5" x2="769.6" y2="1112.5" stroke="#333" stroke-width="1.1"/>
<line x1="878.2" y1="1063" x2="1175.9" y2="1063" stroke="#222" stroke-width="4.4"/>
<line x1="878.2" y1="1063.2" x2="1175.9" y2="1063.2" stroke="#8a8a8a" stroke-width="1.5"/>
<line x1="878.2" y1="1110.1" x2="1175.9" y2="1110.1" stroke="#222" stroke-width="1.7"/>
<line x1="878.2" y1="1112.5" x2="1175.9" y2="1112.5" stroke="#333" stroke-width="1.1"/>
<g transform="translate(709.7,1063)">
<rect x="-11.3" y="-3.13" width="7.8" height="6.27" fill="#fff" stroke="#222" stroke-width="1.1"/>
<line x1="-11.3" y1="-3.42" x2="-11.3" y2="3.42" stroke="#222" stroke-width="1.6"/>
<path d="M-3.5 -6.84 L-0.9 -6.65 L3.1 -2.75 L3.1 2.75 L-0.9 6.65 L-3.5 6.84 Z" stroke="#222" stroke-width="1" fill="#222"/>
<path d="M-0.6 -4.37 L2.3 -1.99 L2.3 1.99 L-0.6 4.37 Z" stroke="none" stroke-width="0" fill="#e8e8e8"/>
<rect x="3.3" y="-2.75" width="6.4" height="5.51" fill="#fff" stroke="#222" stroke-width="1.1"/>
</g>
<g transform="translate(937.4,1063) scale(-1,1)">
<rect x="-11.3" y="-3.13" width="7.8" height="6.27" fill="#fff" stroke="#222" stroke-width="1.1"/>
<line x1="-11.3" y1="-3.42" x2="-11.3" y2="3.42" stroke="#222" stroke-width="1.6"/>
<path d="M-3.5 -6.84 L-0.9 -6.65 L3.1 -2.75 L3.1 2.75 L-0.9 6.65 L-3.5 6.84 Z" stroke="#222" stroke-width="1" fill="#222"/>
<path d="M-0.6 -4.37 L2.3 -1.99 L2.3 1.99 L-0.6 4.37 Z" stroke="none" stroke-width="0" fill="#e8e8e8"/>
<rect x="3.3" y="-2.75" width="6.4" height="5.51" fill="#fff" stroke="#222" stroke-width="1.1"/>
</g>
<g transform="translate(709.7,1111.3)">
<rect x="-11.3" y="-3.13" width="7.8" height="6.27" fill="#fff" stroke="#222" stroke-width="1.1"/>
<line x1="-11.3" y1="-3.42" x2="-11.3" y2="3.42" stroke="#222" stroke-width="1.6"/>
<path d="M-3.5 -6.84 L-0.9 -6.65 L3.1 -2.75 L3.1 2.75 L-0.9 6.65 L-3.5 6.84 Z" stroke="#222" stroke-width="1" fill="#222"/>
<path d="M-0.6 -4.37 L2.3 -1.99 L2.3 1.99 L-0.6 4.37 Z" stroke="none" stroke-width="0" fill="#e8e8e8"/>
<rect x="3.3" y="-2.75" width="6.4" height="5.51" fill="#fff" stroke="#222" stroke-width="1.1"/>
</g>
<g transform="translate(937.4,1111.3) scale(-1,1)">
<rect x="-11.3" y="-3.13" width="7.8" height="6.27" fill="#fff" stroke="#222" stroke-width="1.1"/>
<line x1="-11.3" y1="-3.42" x2="-11.3" y2="3.42" stroke="#222" stroke-width="1.6"/>
<path d="M-3.5 -6.84 L-0.9 -6.65 L3.1 -2.75 L3.1 2.75 L-0.9 6.65 L-3.5 6.84 Z" stroke="#222" stroke-width="1" fill="#222"/>
<path d="M-0.6 -4.37 L2.3 -1.99 L2.3 1.99 L-0.6 4.37 Z" stroke="none" stroke-width="0" fill="#e8e8e8"/>
<rect x="3.3" y="-2.75" width="6.4" height="5.51" fill="#fff" stroke="#222" stroke-width="1.1"/>
</g>
<path d="M67.5 1065.2C78.5 1069 96.7 1069 107.7 1065.2" stroke="#f5a522" stroke-width="2.9" fill="none"/>
<path d="M107.7 1065.2C118.7 1069 137.4 1069 148.4 1065.2" stroke="#f5a522" stroke-width="2.9" fill="none"/>
<path d="M148.4 1065.2C159.4 1069 177.6 1069 188.6 1065.2" stroke="#f5a522" stroke-width="2.9" fill="none"/>
<path d="M188.6 1065.2C199.6 1069 217.8 1069 228.8 1065.2" stroke="#f5a522" stroke-width="2.9" fill="none"/>
<path d="M228.8 1065.2C239.8 1069 258.2 1069 269.2 1065.2" stroke="#f5a522" stroke-width="2.9" fill="none"/>
<path d="M269.2 1065.2C280.2 1069 298.8 1069 309.8 1065.2" stroke="#f5a522" stroke-width="2.9" fill="none"/>
<path d="M309.8 1065.2C320.8 1069 339 1069 350 1065.2" stroke="#f5a522" stroke-width="2.9" fill="none"/>
<path d="M350 1065.2C361 1069 379.35 1069 390.35 1065.2" stroke="#f5a522" stroke-width="2.9" fill="none"/>
<path d="M390.35 1065.2C401.35 1069 420 1069 431 1065.2" stroke="#f5a522" stroke-width="2.9" fill="none"/>
<path d="M431 1065.2C442 1069 460.5 1069 471.5 1065.2" stroke="#f5a522" stroke-width="2.9" fill="none"/>
<path d="M471.5 1065.2C482.5 1069 500.9 1069 511.9 1065.2" stroke="#f5a522" stroke-width="2.9" fill="none"/>
<path d="M63.3 1060.1L71.7 1067.5M63.3 1067.5L71.7 1060.1" stroke="#f5a522" stroke-width="3.2" fill="none"/>
<path d="M103.5 1060.1L111.9 1067.5M103.5 1067.5L111.9 1060.1" stroke="#f5a522" stroke-width="3.2" fill="none"/>
<path d="M144.2 1060.1L152.6 1067.5M144.2 1067.5L152.6 1060.1" stroke="#f5a522" stroke-width="3.2" fill="none"/>
<path d="M184.4 1060.1L192.8 1067.5M184.4 1067.5L192.8 1060.1" stroke="#f5a522" stroke-width="3.2" fill="none"/>
<path d="M224.6 1060.1L233 1067.5M224.6 1067.5L233 1060.1" stroke="#f5a522" stroke-width="3.2" fill="none"/>
<path d="M265 1060.1L273.4 1067.5M265 1067.5L273.4 1060.1" stroke="#f5a522" stroke-width="3.2" fill="none"/>
<path d="M305.6 1060.1L314 1067.5M305.6 1067.5L314 1060.1" stroke="#f5a522" stroke-width="3.2" fill="none"/>
<path d="M345.8 1060.1L354.2 1067.5M345.8 1067.5L354.2 1060.1" stroke="#f5a522" stroke-width="3.2" fill="none"/>
<path d="M386.15 1060.1L394.55 1067.5M386.15 1067.5L394.55 1060.1" stroke="#f5a522" stroke-width="3.2" fill="none"/>
<path d="M426.8 1060.1L435.2 1067.5M426.8 1067.5L435.2 1060.1" stroke="#f5a522" stroke-width="3.2" fill="none"/>
<path d="M467.3 1060.1L475.7 1067.5M467.3 1067.5L475.7 1060.1" stroke="#f5a522" stroke-width="3.2" fill="none"/>
<path d="M507.7 1060.1L516.1 1067.5M507.7 1067.5L516.1 1060.1" stroke="#f5a522" stroke-width="3.2" fill="none"/>
<path d="M511.9 1065.6C522.9 1069.4 541.2 1069.4 552.2 1065.6" stroke="#f7bd62" stroke-width="2.1" fill="none" stroke-dasharray="5.5 4.5"/>
<path d="M552.2 1065.2C563.2 1069 581.6 1069 592.6 1065.2" stroke="#f5a522" stroke-width="2.9" fill="none"/>
<path d="M592.6 1065.2C603.6 1069 622.1 1069 633.1 1065.2" stroke="#f5a522" stroke-width="2.9" fill="none"/>
<path d="M633.1 1065.2C644.1 1069 662.4 1069 673.4 1065.2" stroke="#f5a522" stroke-width="2.9" fill="none"/>
<path d="M548 1060.1L556.4 1067.5M548 1067.5L556.4 1060.1" stroke="#f5a522" stroke-width="3.2" fill="none"/>
<path d="M588.4 1060.1L596.8 1067.5M588.4 1067.5L596.8 1060.1" stroke="#f5a522" stroke-width="3.2" fill="none"/>
<path d="M628.9 1060.1L637.3 1067.5M628.9 1067.5L637.3 1060.1" stroke="#f5a522" stroke-width="3.2" fill="none"/>
<path d="M669.2 1060.1L677.6 1067.5M669.2 1067.5L677.6 1060.1" stroke="#f5a522" stroke-width="3.2" fill="none"/>
<path d="M67.5 1113.5C78.5 1117.3 96.7 1117.3 107.7 1113.5" stroke="#f5a522" stroke-width="2.9" fill="none"/>
<path d="M107.7 1113.5C118.7 1117.3 137.4 1117.3 148.4 1113.5" stroke="#f5a522" stroke-width="2.9" fill="none"/>
<path d="M148.4 1113.5C159.4 1117.3 177.6 1117.3 188.6 1113.5" stroke="#f5a522" stroke-width="2.9" fill="none"/>
<path d="M188.6 1113.5C199.6 1117.3 217.8 1117.3 228.8 1113.5" stroke="#f5a522" stroke-width="2.9" fill="none"/>
<path d="M228.8 1113.5C239.8 1117.3 258.2 1117.3 269.2 1113.5" stroke="#f5a522" stroke-width="2.9" fill="none"/>
<path d="M269.2 1113.5C280.2 1117.3 298.8 1117.3 309.8 1113.5" stroke="#f5a522" stroke-width="2.9" fill="none"/>
<path d="M309.8 1113.5C320.8 1117.3 339 1117.3 350 1113.5" stroke="#f5a522" stroke-width="2.9" fill="none"/>
<path d="M350 1113.5C361 1117.3 379.35 1117.3 390.35 1113.5" stroke="#f5a522" stroke-width="2.9" fill="none"/>
<path d="M63.3 1108.4L71.7 1115.8M63.3 1115.8L71.7 1108.4" stroke="#f5a522" stroke-width="3.2" fill="none"/>
<path d="M103.5 1108.4L111.9 1115.8M103.5 1115.8L111.9 1108.4" stroke="#f5a522" stroke-width="3.2" fill="none"/>
<path d="M144.2 1108.4L152.6 1115.8M144.2 1115.8L152.6 1108.4" stroke="#f5a522" stroke-width="3.2" fill="none"/>
<path d="M184.4 1108.4L192.8 1115.8M184.4 1115.8L192.8 1108.4" stroke="#f5a522" stroke-width="3.2" fill="none"/>
<path d="M224.6 1108.4L233 1115.8M224.6 1115.8L233 1108.4" stroke="#f5a522" stroke-width="3.2" fill="none"/>
<path d="M265 1108.4L273.4 1115.8M265 1115.8L273.4 1108.4" stroke="#f5a522" stroke-width="3.2" fill="none"/>
<path d="M305.6 1108.4L314 1115.8M305.6 1115.8L314 1108.4" stroke="#f5a522" stroke-width="3.2" fill="none"/>
<path d="M345.8 1108.4L354.2 1115.8M345.8 1115.8L354.2 1108.4" stroke="#f5a522" stroke-width="3.2" fill="none"/>
<path d="M386.15 1108.4L394.55 1115.8M386.15 1115.8L394.55 1108.4" stroke="#f5a522" stroke-width="3.2" fill="none"/>
<path d="M390.35 1113.9C401.35 1117.7 420 1117.7 431 1113.9" stroke="#f7bd62" stroke-width="2.1" fill="none" stroke-dasharray="5.5 4.5"/>
<path d="M431 1113.9C442 1117.7 460.5 1117.7 471.5 1113.9" stroke="#f7bd62" stroke-width="2.1" fill="none" stroke-dasharray="5.5 4.5"/>
<path d="M471.5 1113.9C482.5 1117.7 500.9 1117.7 511.9 1113.9" stroke="#f7bd62" stroke-width="2.1" fill="none" stroke-dasharray="5.5 4.5"/>
<path d="M511.9 1113.9C522.9 1117.7 541.2 1117.7 552.2 1113.9" stroke="#f7bd62" stroke-width="2.1" fill="none" stroke-dasharray="5.5 4.5"/>
<path d="M552.2 1113.9C563.2 1117.7 581.6 1117.7 592.6 1113.9" stroke="#f7bd62" stroke-width="2.1" fill="none" stroke-dasharray="5.5 4.5"/>
<path d="M592.6 1113.9C603.6 1117.7 622.1 1117.7 633.1 1113.9" stroke="#f7bd62" stroke-width="2.1" fill="none" stroke-dasharray="5.5 4.5"/>
<path d="M974.3 1065.6C985.3 1069.4 1003.3 1069.4 1014.3 1065.6" stroke="#f7bd62" stroke-width="2.1" fill="none" stroke-dasharray="5.5 4.5"/>
<path d="M1014.3 1065.6C1025.3 1069.4 1044.1 1069.4 1055.1 1065.6" stroke="#f7bd62" stroke-width="2.1" fill="none" stroke-dasharray="5.5 4.5"/>
<path d="M1055.1 1065.2C1066.1 1069 1084.1 1069 1095.1 1065.2" stroke="#f5a522" stroke-width="2.9" fill="none"/>
<path d="M1095.1 1065.2C1106.1 1069 1124.8 1069 1135.8 1065.2" stroke="#f5a522" stroke-width="2.9" fill="none"/>
<path d="M1050.9 1060.1L1059.3 1067.5M1050.9 1067.5L1059.3 1060.1" stroke="#f5a522" stroke-width="3.2" fill="none"/>
<path d="M1090.9 1060.1L1099.3 1067.5M1090.9 1067.5L1099.3 1060.1" stroke="#f5a522" stroke-width="3.2" fill="none"/>
<path d="M1131.6 1060.1L1140 1067.5M1131.6 1067.5L1140 1060.1" stroke="#f5a522" stroke-width="3.2" fill="none"/>
<path d="M1014.3 1113.9C1025.3 1117.7 1044.1 1117.7 1055.1 1113.9" stroke="#f7bd62" stroke-width="2.1" fill="none" stroke-dasharray="5.5 4.5"/>
<path d="M1055.1 1113.9C1066.1 1117.7 1084.1 1117.7 1095.1 1113.9" stroke="#f7bd62" stroke-width="2.1" fill="none" stroke-dasharray="5.5 4.5"/>
<path d="M1095.1 1113.5C1106.1 1117.3 1124.8 1117.3 1135.8 1113.5" stroke="#f5a522" stroke-width="2.9" fill="none"/>
<path d="M1090.9 1108.4L1099.3 1115.8M1090.9 1115.8L1099.3 1108.4" stroke="#f5a522" stroke-width="3.2" fill="none"/>
<path d="M1131.6 1108.4L1140 1115.8M1131.6 1115.8L1140 1108.4" stroke="#f5a522" stroke-width="3.2" fill="none"/>
<path d="M67.5 1064C58 1063 50 1070 46 1087.5C48 1098 54 1108 59 1113.5" stroke="#f5a522" stroke-width="2.3" fill="none"/>
<circle cx="60.5" cy="1074.6" r="6.9" fill="none" stroke="#f5a522" stroke-width="2.3"/>
<circle cx="59.2" cy="1123.7" r="6.9" fill="none" stroke="#f5a522" stroke-width="2.3"/>
<path d="M42.5 1087.5L49.5 1087.5M46 1084L46 1091" stroke="#f5a522" stroke-width="2.2" fill="none"/>
<path d="M1135.8 1064C1150 1064 1168 1076 1176.3 1088.8C1166 1096 1158 1105 1152.4 1112" stroke="#f5a522" stroke-width="2.3" fill="none"/>
<path d="M1135.8 1112.5L1152.4 1112.5" stroke="#f5a522" stroke-width="2" fill="none"/>
<circle cx="1142" cy="1074.6" r="7" fill="none" stroke="#f5a522" stroke-width="2.3"/>
<circle cx="1150.4" cy="1123" r="7.2" fill="none" stroke="#f5a522" stroke-width="2.3"/>
<path d="M1173.1 1086L1179.5 1091.6M1173.1 1091.6L1179.5 1086" stroke="#f5a522" stroke-width="2" fill="none"/>
<line x1="67.5" y1="1017.6" x2="67.5" y2="1147.4" stroke="#979797" stroke-width="1.1" stroke-dasharray="26 2.2 1.6 2.2"/>
<line x1="107.7" y1="1017.6" x2="107.7" y2="1147.4" stroke="#979797" stroke-width="1.1" stroke-dasharray="26 2.2 1.6 2.2"/>
<line x1="148.4" y1="1017.6" x2="148.4" y2="1147.4" stroke="#979797" stroke-width="1.1" stroke-dasharray="26 2.2 1.6 2.2"/>
<line x1="188.6" y1="1017.6" x2="188.6" y2="1147.4" stroke="#979797" stroke-width="1.1" stroke-dasharray="26 2.2 1.6 2.2"/>
<line x1="228.8" y1="1017.6" x2="228.8" y2="1147.4" stroke="#979797" stroke-width="1.1" stroke-dasharray="26 2.2 1.6 2.2"/>
<line x1="269.2" y1="1017.6" x2="269.2" y2="1147.4" stroke="#979797" stroke-width="1.1" stroke-dasharray="26 2.2 1.6 2.2"/>
<line x1="309.8" y1="1017.6" x2="309.8" y2="1147.4" stroke="#979797" stroke-width="1.1" stroke-dasharray="26 2.2 1.6 2.2"/>
<line x1="350" y1="1017.6" x2="350" y2="1147.4" stroke="#979797" stroke-width="1.1" stroke-dasharray="26 2.2 1.6 2.2"/>
<line x1="390.35" y1="1017.6" x2="390.35" y2="1147.4" stroke="#979797" stroke-width="1.1" stroke-dasharray="26 2.2 1.6 2.2"/>
<line x1="431" y1="1017.6" x2="431" y2="1147.4" stroke="#979797" stroke-width="1.1" stroke-dasharray="26 2.2 1.6 2.2"/>
<line x1="471.5" y1="1017.6" x2="471.5" y2="1147.4" stroke="#979797" stroke-width="1.1" stroke-dasharray="26 2.2 1.6 2.2"/>
<line x1="511.9" y1="1017.6" x2="511.9" y2="1147.4" stroke="#979797" stroke-width="1.1" stroke-dasharray="26 2.2 1.6 2.2"/>
<line x1="552.2" y1="1017.6" x2="552.2" y2="1147.4" stroke="#979797" stroke-width="1.1" stroke-dasharray="26 2.2 1.6 2.2"/>
<line x1="592.6" y1="1017.6" x2="592.6" y2="1147.4" stroke="#979797" stroke-width="1.1" stroke-dasharray="26 2.2 1.6 2.2"/>
<line x1="633.1" y1="1017.6" x2="633.1" y2="1147.4" stroke="#979797" stroke-width="1.1" stroke-dasharray="26 2.2 1.6 2.2"/>
<line x1="673.4" y1="1017.6" x2="673.4" y2="1147.4" stroke="#979797" stroke-width="1.1" stroke-dasharray="26 2.2 1.6 2.2"/>
<line x1="974.3" y1="1017.6" x2="974.3" y2="1147.4" stroke="#979797" stroke-width="1.1" stroke-dasharray="26 2.2 1.6 2.2"/>
<line x1="1014.3" y1="1017.6" x2="1014.3" y2="1147.4" stroke="#979797" stroke-width="1.1" stroke-dasharray="26 2.2 1.6 2.2"/>
<line x1="1055.1" y1="1017.6" x2="1055.1" y2="1147.4" stroke="#979797" stroke-width="1.1" stroke-dasharray="26 2.2 1.6 2.2"/>
<line x1="1095.1" y1="1017.6" x2="1095.1" y2="1147.4" stroke="#979797" stroke-width="1.1" stroke-dasharray="26 2.2 1.6 2.2"/>
<line x1="1135.8" y1="1017.6" x2="1135.8" y2="1147.4" stroke="#979797" stroke-width="1.1" stroke-dasharray="26 2.2 1.6 2.2"/>
<line x1="769.6" y1="1010.6" x2="769.6" y2="1150.6" stroke="#777" stroke-width="0.9" stroke-dasharray="13.7 5.5" stroke-dashoffset="4.9"/>
<line x1="777.2" y1="1010.6" x2="777.2" y2="1150.6" stroke="#555" stroke-width="1.4" stroke-dasharray="13.7 5.5" stroke-dashoffset="4.9"/>
<line x1="870.1" y1="1010.6" x2="870.1" y2="1150.6" stroke="#555" stroke-width="1.4" stroke-dasharray="13.7 5.5" stroke-dashoffset="4.9"/>
<line x1="878.2" y1="1010.6" x2="878.2" y2="1150.6" stroke="#999" stroke-width="0.9" stroke-dasharray="13.7 5.5" stroke-dashoffset="4.9"/>
<line x1="823.6" y1="1010" x2="823.6" y2="1150" stroke="#111" stroke-width="2.3" stroke-dasharray="5.4 3.8" stroke-dashoffset="2"/>
<circle cx="390.35" cy="1057.7" r="4.4" fill="#fff" stroke="#3c5cb2" stroke-width="1.4"/>
<line x1="390.35" y1="1053.7" x2="390.35" y2="1039.8" stroke="#3c5cb2" stroke-width="1"/>
<path d="M386.75 1040.4L393.95 1040.4L390.35 1028.8Z" stroke="#3c5cb2" stroke-width="1" fill="#fff"/>
<line x1="390.35" y1="1040.4" x2="390.35" y2="1028.8" stroke="#3c5cb2" stroke-width="0.9"/>
<line x1="390.35" y1="1065" x2="390.35" y2="1075" stroke="#f5a522" stroke-width="2.2"/>
<circle cx="511.9" cy="1057.7" r="4.4" fill="#a9adb8" stroke="#3c5cb2" stroke-width="1.4"/>
<line x1="511.9" y1="1065" x2="511.9" y2="1076.2" stroke="#3c5cb2" stroke-width="1"/>
<path d="M508.3 1075.5L515.5 1075.5L511.9 1087.7Z" stroke="#3c5cb2" stroke-width="0.6" fill="#3c5cb2"/>
<line x1="511.9" y1="1065" x2="511.9" y2="1076" stroke="#3c5cb2" stroke-width="1.3"/>
<circle cx="552.2" cy="1057.7" r="4.4" fill="#a9adb8" stroke="#3c5cb2" stroke-width="1.4"/>
<line x1="552.2" y1="1053.7" x2="552.2" y2="1039.8" stroke="#3c5cb2" stroke-width="1.4"/>
<path d="M548.6 1040.4L555.8 1040.4L552.2 1028.8Z" stroke="#3c5cb2" stroke-width="0.6" fill="#3c5cb2"/>
<circle cx="592.6" cy="1057.7" r="4.4" fill="#fff" stroke="#3c5cb2" stroke-width="1.4"/>
<line x1="592.6" y1="1065" x2="592.6" y2="1076.2" stroke="#3c5cb2" stroke-width="1"/>
<path d="M589 1075.5L596.2 1075.5L592.6 1087.7Z" stroke="#3c5cb2" stroke-width="1" fill="#fff"/>
<line x1="592.6" y1="1075.5" x2="592.6" y2="1087.7" stroke="#3c5cb2" stroke-width="0.9"/>
<circle cx="673.4" cy="1057.7" r="4.4" fill="#a9adb8" stroke="#3c5cb2" stroke-width="1.4"/>
<line x1="673.4" y1="1065" x2="673.4" y2="1076.2" stroke="#3c5cb2" stroke-width="1"/>
<path d="M669.8 1075.5L677 1075.5L673.4 1087.7Z" stroke="#3c5cb2" stroke-width="0.6" fill="#3c5cb2"/>
<line x1="673.4" y1="1065" x2="673.4" y2="1076" stroke="#3c5cb2" stroke-width="1.3"/>
<circle cx="390.35" cy="1106.4" r="4.4" fill="#a9adb8" stroke="#3c5cb2" stroke-width="1.4"/>
<line x1="390.35" y1="1112.3" x2="390.35" y2="1125" stroke="#f5a522" stroke-width="2.2"/>
<path d="M386.75 1124.3L393.95 1124.3L390.35 1136.5Z" stroke="#3c5cb2" stroke-width="0.6" fill="#3c5cb2"/>
<circle cx="431" cy="1106.4" r="4.4" fill="#a9adb8" stroke="#3c5cb2" stroke-width="1.4"/>
<line x1="431" y1="1102.4" x2="431" y2="1087.4" stroke="#3c5cb2" stroke-width="1.4"/>
<path d="M427.4 1088L434.6 1088L431 1076.4Z" stroke="#3c5cb2" stroke-width="0.6" fill="#3c5cb2"/>
<line x1="431" y1="1113.3" x2="431" y2="1125" stroke="#f5a522" stroke-width="2.2"/>
<circle cx="471.5" cy="1106.4" r="4.4" fill="#fff" stroke="#3c5cb2" stroke-width="1.4"/>
<line x1="471.5" y1="1113.3" x2="471.5" y2="1125" stroke="#3c5cb2" stroke-width="1"/>
<path d="M467.9 1124.3L475.1 1124.3L471.5 1136.5Z" stroke="#3c5cb2" stroke-width="1" fill="#fff"/>
<line x1="471.5" y1="1124.3" x2="471.5" y2="1136.5" stroke="#3c5cb2" stroke-width="0.9"/>
<circle cx="552.2" cy="1106.4" r="4.4" fill="#fff" stroke="#3c5cb2" stroke-width="1.4"/>
<line x1="552.2" y1="1113.3" x2="552.2" y2="1125" stroke="#3c5cb2" stroke-width="1"/>
<path d="M548.6 1124.3L555.8 1124.3L552.2 1136.5Z" stroke="#3c5cb2" stroke-width="1" fill="#fff"/>
<line x1="552.2" y1="1124.3" x2="552.2" y2="1136.5" stroke="#3c5cb2" stroke-width="0.9"/>
<circle cx="633.1" cy="1106.4" r="4.4" fill="#fff" stroke="#3c5cb2" stroke-width="1.4"/>
<line x1="633.1" y1="1102.4" x2="633.1" y2="1087.4" stroke="#3c5cb2" stroke-width="1"/>
<path d="M629.5 1088L636.7 1088L633.1 1076.4Z" stroke="#3c5cb2" stroke-width="1" fill="#fff"/>
<line x1="633.1" y1="1088" x2="633.1" y2="1076.4" stroke="#3c5cb2" stroke-width="0.9"/>
<circle cx="974.3" cy="1057.7" r="4.4" fill="#fff" stroke="#3c5cb2" stroke-width="1.4"/>
<line x1="974.3" y1="1065" x2="974.3" y2="1075.5" stroke="#3c5cb2" stroke-width="1"/>
<path d="M970.7 1074.8L977.9 1074.8L974.3 1087Z" stroke="#3c5cb2" stroke-width="1" fill="#fff"/>
<line x1="974.3" y1="1074.8" x2="974.3" y2="1087" stroke="#3c5cb2" stroke-width="0.9"/>
<circle cx="1014.3" cy="1057.7" r="4.4" fill="#a9adb8" stroke="#3c5cb2" stroke-width="1.4"/>
<line x1="1014.3" y1="1053.7" x2="1014.3" y2="1039.8" stroke="#3c5cb2" stroke-width="1.4"/>
<path d="M1010.7 1040.4L1017.9 1040.4L1014.3 1028.8Z" stroke="#3c5cb2" stroke-width="0.6" fill="#3c5cb2"/>
<circle cx="1055.1" cy="1057.7" r="4.4" fill="#a9adb8" stroke="#3c5cb2" stroke-width="1.4"/>
<line x1="1055.1" y1="1064" x2="1055.1" y2="1076" stroke="#f5a522" stroke-width="2.2"/>
<path d="M1051.5 1075.3L1058.7 1075.3L1055.1 1087.5Z" stroke="#3c5cb2" stroke-width="0.6" fill="#3c5cb2"/>
<circle cx="1095.1" cy="1057.7" r="4.4" fill="#fff" stroke="#3c5cb2" stroke-width="1.4"/>
<line x1="1095.1" y1="1053.7" x2="1095.1" y2="1039.2" stroke="#3c5cb2" stroke-width="1"/>
<path d="M1091.5 1039.8L1098.7 1039.8L1095.1 1028.2Z" stroke="#3c5cb2" stroke-width="1" fill="#fff"/>
<line x1="1095.1" y1="1039.8" x2="1095.1" y2="1028.2" stroke="#3c5cb2" stroke-width="0.9"/>
<circle cx="1014.3" cy="1106.4" r="4.4" fill="#a9adb8" stroke="#3c5cb2" stroke-width="1.4"/>
<line x1="1014.3" y1="1112.3" x2="1014.3" y2="1124.5" stroke="#f5a522" stroke-width="2.2"/>
<path d="M1010.7 1123.8L1017.9 1123.8L1014.3 1136Z" stroke="#3c5cb2" stroke-width="0.6" fill="#3c5cb2"/>
<circle cx="1095.1" cy="1106.4" r="4.4" fill="#a9adb8" stroke="#3c5cb2" stroke-width="1.4"/>
<line x1="1095.1" y1="1112.3" x2="1095.1" y2="1124.5" stroke="#f5a522" stroke-width="2.2"/>
<path d="M1091.5 1123.8L1098.7 1123.8L1095.1 1136Z" stroke="#3c5cb2" stroke-width="0.6" fill="#3c5cb2"/>
<g stroke="#3c5cb2" fill="none">
<rect x="303.8" y="1113" width="10.5" height="11" fill="#3c5cb2" stroke="#3c5cb2" stroke-width="0.5"/>
<path d="M306.5 1114V1124M309.5 1114V1124M312.3 1114V1124" stroke="#cfd8f2" stroke-width="1.1"/>
<ellipse cx="311.6" cy="1130.5" rx="7.6" ry="9.6" stroke-width="2.2" fill="#fff"/>
<path d="M305 1126L318 1134M304.5 1131L316 1138.5M307 1122L319 1129" stroke-width="1.8"/>
</g>
<line x1="309.9" y1="1112" x2="309.9" y2="1164.4" stroke="#ee2433" stroke-width="1.4"/>
<line x1="309.9" y1="1112" x2="276.6" y2="1141.7" stroke="#ee2433" stroke-width="1.5"/>
<path d="M269.7 1147.9L274.9 1138.2L279.9 1143.8Z" stroke="none" stroke-width="0" fill="#ee2433"/>
<path d="M286.9 1133.6A28.6 28.6 0 0 0 309.9 1140.6" stroke="#ee2433" stroke-width="1.2" fill="none"/>
<text x="286.9" y="1150.6" font-size="11.3" fill="#ee2433">30°</text>
<line x1="818.2" y1="1055" x2="818.2" y2="1119.6" stroke="#444" stroke-width="1.4"/>
<line x1="781" y1="1062.75" x2="826.5" y2="1062.75" stroke="#999" stroke-width="1.4"/>
<line x1="781" y1="1111.5" x2="826.5" y2="1111.5" stroke="#555" stroke-width="0.9"/>
<line x1="813.4" y1="1058.1" x2="823" y2="1067.7" stroke="#444" stroke-width="1.6"/>
<line x1="813.4" y1="1106.5" x2="823" y2="1116.1" stroke="#444" stroke-width="1.6"/>
<text transform="translate(810,1087) rotate(-90)" font-size="15.5" fill="#555" text-anchor="middle">60</text>
<text x="1184.7" y="1060.1" font-size="11.4" fill="#a8a8a8" stroke="#fff" stroke-width="1.4" paint-order="stroke">obere</text>
<text x="1184.7" y="1073" font-size="11.4" fill="#a8a8a8" stroke="#fff" stroke-width="1.4" paint-order="stroke">Ebene</text>
<text x="1184.7" y="1108.8" font-size="11.4" fill="#a8a8a8" stroke="#fff" stroke-width="1.4" paint-order="stroke">untere</text>
<text x="1184.7" y="1122.1" font-size="11.4" fill="#a8a8a8" stroke="#fff" stroke-width="1.4" paint-order="stroke">Ebene</text>
<text x="1254" y="67" font-size="20.2" fill="#1a1a1a" font-weight="bold">MUSTER DT-B3: TK Typ 1 XIV</text>
<text x="1260.8" y="117.6" font-size="14.2" fill="#1c1c1c" font-weight="bold">Übersicht:</text>
<text x="1260.8" y="142.1" font-size="7.2" fill="#222" letter-spacing="1.3">NORD</text>
<text x="1260.8" y="279.3" font-size="7.2" fill="#222" letter-spacing="1.1">SÜD</text>
<line x1="1267" y1="179.3" x2="1267" y2="244.7" stroke="#222" stroke-width="1.35"/>
<line x1="1272" y1="179.3" x2="1272" y2="244.7" stroke="#222" stroke-width="1.35"/>
<line x1="1277" y1="179.3" x2="1277" y2="244.7" stroke="#333" stroke-width="1.35"/>
<line x1="1265.4" y1="183" x2="1278.6" y2="183" stroke="#4258b2" stroke-width="1.5"/>
<line x1="1265.4" y1="185.7" x2="1278.6" y2="185.7" stroke="#4258b2" stroke-width="1.9"/>
<line x1="1267.4" y1="188.3" x2="1278.6" y2="188.3" stroke="#4258b2" stroke-width="1.5"/>
<line x1="1265.4" y1="191.6" x2="1278.6" y2="191.6" stroke="#4258b2" stroke-width="1.9"/>
<line x1="1267.4" y1="194.2" x2="1274.6" y2="194.2" stroke="#4258b2" stroke-width="1.9"/>
<line x1="1265.4" y1="197.4" x2="1276.6" y2="197.4" stroke="#4258b2" stroke-width="1.5"/>
<line x1="1267.4" y1="226.6" x2="1278.6" y2="226.6" stroke="#4258b2" stroke-width="1.9"/>
<line x1="1269.4" y1="229.2" x2="1274.6" y2="229.2" stroke="#4258b2" stroke-width="1.9"/>
<line x1="1267.4" y1="232.4" x2="1278.6" y2="232.4" stroke="#4258b2" stroke-width="1.9"/>
<line x1="1265.4" y1="234.4" x2="1278.6" y2="234.4" stroke="#4258b2" stroke-width="1.9"/>
<line x1="1269.4" y1="237" x2="1278.6" y2="237" stroke="#4258b2" stroke-width="1.9"/>
<line x1="1269.4" y1="240.2" x2="1276.6" y2="240.2" stroke="#4258b2" stroke-width="1.2"/>
<rect x="1266.3" y="178.4" width="1.4" height="1.8" fill="#4a5fb5" stroke="none" stroke-width="1"/>
<rect x="1266.3" y="243.8" width="1.4" height="1.8" fill="#4a5fb5" stroke="none" stroke-width="1"/>
<rect x="1271.3" y="178.4" width="1.4" height="1.8" fill="#4a5fb5" stroke="none" stroke-width="1"/>
<rect x="1271.3" y="243.8" width="1.4" height="1.8" fill="#4a5fb5" stroke="none" stroke-width="1"/>
<rect x="1276.3" y="178.4" width="1.4" height="1.8" fill="#4a5fb5" stroke="none" stroke-width="1"/>
<rect x="1276.3" y="243.8" width="1.4" height="1.8" fill="#4a5fb5" stroke="none" stroke-width="1"/>
<line x1="1266" y1="233.46" x2="1278" y2="233.41" stroke="#222" stroke-width="1.4"/>
<line x1="1293.1" y1="179.3" x2="1293.1" y2="244.7" stroke="#999" stroke-width="1.35"/>
<line x1="1298.1" y1="179.3" x2="1298.1" y2="244.7" stroke="#222" stroke-width="1.35"/>
<line x1="1303.1" y1="179.3" x2="1303.1" y2="244.7" stroke="#333" stroke-width="1.35"/>
<line x1="1291.5" y1="183" x2="1300.7" y2="183" stroke="#4258b2" stroke-width="1.5"/>
<line x1="1291.5" y1="185.7" x2="1300.7" y2="185.7" stroke="#4258b2" stroke-width="1.5"/>
<line x1="1291.5" y1="188.3" x2="1304.7" y2="188.3" stroke="#4258b2" stroke-width="1.5"/>
<line x1="1291.5" y1="191.6" x2="1304.7" y2="191.6" stroke="#4258b2" stroke-width="1.2"/>
<line x1="1291.5" y1="194.2" x2="1300.7" y2="194.2" stroke="#4258b2" stroke-width="1.9"/>
<line x1="1291.5" y1="197.4" x2="1300.7" y2="197.4" stroke="#4258b2" stroke-width="1.9"/>
<line x1="1291.5" y1="226.6" x2="1304.7" y2="226.6" stroke="#4258b2" stroke-width="1.5"/>
<line x1="1295.5" y1="229.2" x2="1304.7" y2="229.2" stroke="#4258b2" stroke-width="1.5"/>
<line x1="1291.5" y1="232.4" x2="1304.7" y2="232.4" stroke="#4258b2" stroke-width="1.5"/>
<line x1="1293.5" y1="234.4" x2="1304.7" y2="234.4" stroke="#4258b2" stroke-width="1.5"/>
<line x1="1291.5" y1="237" x2="1304.7" y2="237" stroke="#4258b2" stroke-width="1.9"/>
<line x1="1293.5" y1="240.2" x2="1304.7" y2="240.2" stroke="#4258b2" stroke-width="1.9"/>
<rect x="1292.4" y="178.4" width="1.4" height="1.8" fill="#4a5fb5" stroke="none" stroke-width="1"/>
<rect x="1292.4" y="243.8" width="1.4" height="1.8" fill="#4a5fb5" stroke="none" stroke-width="1"/>
<rect x="1297.4" y="178.4" width="1.4" height="1.8" fill="#4a5fb5" stroke="none" stroke-width="1"/>
<rect x="1297.4" y="243.8" width="1.4" height="1.8" fill="#4a5fb5" stroke="none" stroke-width="1"/>
<rect x="1302.4" y="178.4" width="1.4" height="1.8" fill="#4a5fb5" stroke="none" stroke-width="1"/>
<rect x="1302.4" y="243.8" width="1.4" height="1.8" fill="#4a5fb5" stroke="none" stroke-width="1"/>
<line x1="1292.1" y1="232.67" x2="1304.1" y2="233.44" stroke="#222" stroke-width="1.4"/>
<line x1="1292.1" y1="192.5" x2="1304.1" y2="192.5" stroke="#222" stroke-width="1.1"/>
<line x1="1317.6" y1="179.3" x2="1317.6" y2="244.7" stroke="#222" stroke-width="1.35"/>
<line x1="1322.6" y1="179.3" x2="1322.6" y2="244.7" stroke="#999" stroke-width="1.35"/>
<line x1="1327.6" y1="179.3" x2="1327.6" y2="244.7" stroke="#333" stroke-width="1.35"/>
<line x1="1316" y1="183" x2="1329.2" y2="183" stroke="#4258b2" stroke-width="1.5"/>
<line x1="1320" y1="185.7" x2="1327.2" y2="185.7" stroke="#4258b2" stroke-width="1.9"/>
<line x1="1320" y1="188.3" x2="1327.2" y2="188.3" stroke="#4258b2" stroke-width="1.2"/>
<line x1="1316" y1="191.6" x2="1327.2" y2="191.6" stroke="#4258b2" stroke-width="1.5"/>
<line x1="1318" y1="194.2" x2="1325.2" y2="194.2" stroke="#4258b2" stroke-width="1.5"/>
<line x1="1316" y1="197.4" x2="1329.2" y2="197.4" stroke="#4258b2" stroke-width="1.2"/>
<line x1="1316" y1="226.6" x2="1329.2" y2="226.6" stroke="#4258b2" stroke-width="1.2"/>
<line x1="1318" y1="229.2" x2="1329.2" y2="229.2" stroke="#4258b2" stroke-width="1.2"/>
<line x1="1318" y1="232.4" x2="1329.2" y2="232.4" stroke="#4258b2" stroke-width="1.5"/>
<line x1="1320" y1="234.4" x2="1327.2" y2="234.4" stroke="#4258b2" stroke-width="1.9"/>
<line x1="1318" y1="237" x2="1327.2" y2="237" stroke="#4258b2" stroke-width="1.5"/>
<line x1="1316" y1="240.2" x2="1325.2" y2="240.2" stroke="#4258b2" stroke-width="1.9"/>
<rect x="1316.9" y="178.4" width="1.4" height="1.8" fill="#4a5fb5" stroke="none" stroke-width="1"/>
<rect x="1316.9" y="243.8" width="1.4" height="1.8" fill="#4a5fb5" stroke="none" stroke-width="1"/>
<rect x="1321.9" y="178.4" width="1.4" height="1.8" fill="#4a5fb5" stroke="none" stroke-width="1"/>
<rect x="1321.9" y="243.8" width="1.4" height="1.8" fill="#4a5fb5" stroke="none" stroke-width="1"/>
<rect x="1326.9" y="178.4" width="1.4" height="1.8" fill="#4a5fb5" stroke="none" stroke-width="1"/>
<rect x="1326.9" y="243.8" width="1.4" height="1.8" fill="#4a5fb5" stroke="none" stroke-width="1"/>
<line x1="1316.6" y1="233.48" x2="1328.6" y2="233.31" stroke="#222" stroke-width="1.4"/>
<line x1="1343.7" y1="179.3" x2="1343.7" y2="244.7" stroke="#999" stroke-width="1.35"/>
<line x1="1348.7" y1="179.3" x2="1348.7" y2="244.7" stroke="#222" stroke-width="1.35"/>
<line x1="1353.7" y1="179.3" x2="1353.7" y2="244.7" stroke="#999" stroke-width="1.35"/>
<line x1="1342.1" y1="183" x2="1355.3" y2="183" stroke="#4258b2" stroke-width="1.9"/>
<line x1="1346.1" y1="185.7" x2="1351.3" y2="185.7" stroke="#4258b2" stroke-width="1.5"/>
<line x1="1342.1" y1="188.3" x2="1355.3" y2="188.3" stroke="#4258b2" stroke-width="1.9"/>
<line x1="1342.1" y1="191.6" x2="1351.3" y2="191.6" stroke="#4258b2" stroke-width="1.9"/>
<line x1="1342.1" y1="194.2" x2="1355.3" y2="194.2" stroke="#4258b2" stroke-width="1.2"/>
<line x1="1342.1" y1="197.4" x2="1353.3" y2="197.4" stroke="#4258b2" stroke-width="1.2"/>
<line x1="1344.1" y1="226.6" x2="1351.3" y2="226.6" stroke="#4258b2" stroke-width="1.9"/>
<line x1="1346.1" y1="229.2" x2="1351.3" y2="229.2" stroke="#4258b2" stroke-width="1.5"/>
<line x1="1346.1" y1="232.4" x2="1355.3" y2="232.4" stroke="#4258b2" stroke-width="1.5"/>
<line x1="1342.1" y1="234.4" x2="1355.3" y2="234.4" stroke="#4258b2" stroke-width="1.2"/>
<line x1="1346.1" y1="237" x2="1355.3" y2="237" stroke="#4258b2" stroke-width="1.5"/>
<line x1="1346.1" y1="240.2" x2="1353.3" y2="240.2" stroke="#4258b2" stroke-width="1.5"/>
<rect x="1343" y="178.4" width="1.4" height="1.8" fill="#4a5fb5" stroke="none" stroke-width="1"/>
<rect x="1343" y="243.8" width="1.4" height="1.8" fill="#4a5fb5" stroke="none" stroke-width="1"/>
<rect x="1348" y="178.4" width="1.4" height="1.8" fill="#4a5fb5" stroke="none" stroke-width="1"/>
<rect x="1348" y="243.8" width="1.4" height="1.8" fill="#4a5fb5" stroke="none" stroke-width="1"/>
<rect x="1353" y="178.4" width="1.4" height="1.8" fill="#4a5fb5" stroke="none" stroke-width="1"/>
<rect x="1353" y="243.8" width="1.4" height="1.8" fill="#4a5fb5" stroke="none" stroke-width="1"/>
<line x1="1342.7" y1="233.01" x2="1354.7" y2="232.77" stroke="#222" stroke-width="1.4"/>
<line x1="1371.6" y1="161" x2="1371.6" y2="259.6" stroke="#999" stroke-width="1.35"/>
<rect x="1370.9" y="160.1" width="1.4" height="1.8" fill="#4a5fb5" stroke="none" stroke-width="1"/>
<rect x="1370.9" y="258.7" width="1.4" height="1.8" fill="#4a5fb5" stroke="none" stroke-width="1"/>
<line x1="1376.6" y1="154.6" x2="1376.6" y2="256" stroke="#999" stroke-width="1.35"/>
<rect x="1375.9" y="153.7" width="1.4" height="1.8" fill="#4a5fb5" stroke="none" stroke-width="1"/>
<rect x="1375.9" y="255.1" width="1.4" height="1.8" fill="#4a5fb5" stroke="none" stroke-width="1"/>
<line x1="1381.6" y1="147.5" x2="1381.6" y2="250" stroke="#333" stroke-width="1.35"/>
<rect x="1380.9" y="146.6" width="1.4" height="1.8" fill="#4a5fb5" stroke="none" stroke-width="1"/>
<rect x="1380.9" y="249.1" width="1.4" height="1.8" fill="#4a5fb5" stroke="none" stroke-width="1"/>
<line x1="1370" y1="166" x2="1383.2" y2="166" stroke="#4258b2" stroke-width="1.2"/>
<line x1="1370" y1="168.9" x2="1379.2" y2="168.9" stroke="#4258b2" stroke-width="1.9"/>
<line x1="1372" y1="171.8" x2="1383.2" y2="171.8" stroke="#4258b2" stroke-width="1.2"/>
<line x1="1372" y1="174.7" x2="1381.2" y2="174.7" stroke="#4258b2" stroke-width="1.2"/>
<line x1="1370" y1="177.6" x2="1381.2" y2="177.6" stroke="#4258b2" stroke-width="1.2"/>
<line x1="1370" y1="183" x2="1381.2" y2="183" stroke="#4258b2" stroke-width="1.5"/>
<line x1="1370" y1="185.7" x2="1383.2" y2="185.7" stroke="#4258b2" stroke-width="1.5"/>
<line x1="1372" y1="188.3" x2="1381.2" y2="188.3" stroke="#4258b2" stroke-width="1.2"/>
<line x1="1372" y1="191.6" x2="1379.2" y2="191.6" stroke="#4258b2" stroke-width="1.9"/>
<line x1="1370" y1="194.2" x2="1383.2" y2="194.2" stroke="#4258b2" stroke-width="1.2"/>
<line x1="1374" y1="197.4" x2="1381.2" y2="197.4" stroke="#4258b2" stroke-width="1.2"/>
<line x1="1372" y1="226.6" x2="1383.2" y2="226.6" stroke="#4258b2" stroke-width="1.5"/>
<line x1="1372" y1="229.2" x2="1383.2" y2="229.2" stroke="#4258b2" stroke-width="1.5"/>
<line x1="1374" y1="232.4" x2="1381.2" y2="232.4" stroke="#4258b2" stroke-width="1.5"/>
<line x1="1374" y1="234.4" x2="1383.2" y2="234.4" stroke="#4258b2" stroke-width="1.2"/>
<line x1="1372" y1="237" x2="1381.2" y2="237" stroke="#4258b2" stroke-width="1.2"/>
<line x1="1370" y1="240.2" x2="1383.2" y2="240.2" stroke="#4258b2" stroke-width="1.5"/>
<line x1="1372" y1="243.2" x2="1379.2" y2="243.2" stroke="#4258b2" stroke-width="1.9"/>
<line x1="1372" y1="246.1" x2="1383.2" y2="246.1" stroke="#4258b2" stroke-width="1.9"/>
<line x1="1370" y1="249" x2="1383.2" y2="249" stroke="#4258b2" stroke-width="1.5"/>
<line x1="1370" y1="251.9" x2="1379.2" y2="251.9" stroke="#4258b2" stroke-width="1.5"/>
<line x1="1370" y1="254.8" x2="1381.2" y2="254.8" stroke="#4258b2" stroke-width="1.5"/>
<rect x="1370.9" y="178.4" width="1.4" height="1.8" fill="#4a5fb5" stroke="none" stroke-width="1"/>
<rect x="1370.9" y="243.8" width="1.4" height="1.8" fill="#4a5fb5" stroke="none" stroke-width="1"/>
<rect x="1375.9" y="178.4" width="1.4" height="1.8" fill="#4a5fb5" stroke="none" stroke-width="1"/>
<rect x="1375.9" y="243.8" width="1.4" height="1.8" fill="#4a5fb5" stroke="none" stroke-width="1"/>
<rect x="1380.9" y="178.4" width="1.4" height="1.8" fill="#4a5fb5" stroke="none" stroke-width="1"/>
<rect x="1380.9" y="243.8" width="1.4" height="1.8" fill="#4a5fb5" stroke="none" stroke-width="1"/>
<line x1="1370.6" y1="233.49" x2="1382.6" y2="232.64" stroke="#222" stroke-width="1.4"/>
<line x1="1370.6" y1="192.5" x2="1382.6" y2="192.5" stroke="#222" stroke-width="1.1"/>
<line x1="1371.1" y1="249.3" x2="1377.6" y2="249.3" stroke="#222" stroke-width="1.8"/>
<line x1="1394.9" y1="150.7" x2="1394.9" y2="244.7" stroke="#222" stroke-width="1.35"/>
<rect x="1394.2" y="149.8" width="1.4" height="1.8" fill="#4a5fb5" stroke="none" stroke-width="1"/>
<line x1="1399.9" y1="165" x2="1399.9" y2="244.7" stroke="#222" stroke-width="1.35"/>
<rect x="1399.2" y="164.1" width="1.4" height="1.8" fill="#4a5fb5" stroke="none" stroke-width="1"/>
<line x1="1404.9" y1="165" x2="1404.9" y2="244.7" stroke="#333" stroke-width="1.35"/>
<rect x="1404.2" y="164.1" width="1.4" height="1.8" fill="#4a5fb5" stroke="none" stroke-width="1"/>
<line x1="1393.3" y1="166" x2="1402.5" y2="166" stroke="#4258b2" stroke-width="1.2"/>
<line x1="1393.3" y1="168.9" x2="1406.5" y2="168.9" stroke="#4258b2" stroke-width="1.2"/>
<line x1="1395.3" y1="171.8" x2="1402.5" y2="171.8" stroke="#4258b2" stroke-width="1.2"/>
<line x1="1397.3" y1="174.7" x2="1406.5" y2="174.7" stroke="#4258b2" stroke-width="1.9"/>
<line x1="1393.3" y1="177.6" x2="1406.5" y2="177.6" stroke="#4258b2" stroke-width="1.9"/>
<line x1="1393.3" y1="183" x2="1402.5" y2="183" stroke="#4258b2" stroke-width="1.5"/>
<line x1="1393.3" y1="185.7" x2="1402.5" y2="185.7" stroke="#4258b2" stroke-width="1.2"/>
<line x1="1393.3" y1="188.3" x2="1406.5" y2="188.3" stroke="#4258b2" stroke-width="1.9"/>
<line x1="1397.3" y1="191.6" x2="1406.5" y2="191.6" stroke="#4258b2" stroke-width="1.2"/>
<line x1="1393.3" y1="194.2" x2="1406.5" y2="194.2" stroke="#4258b2" stroke-width="1.2"/>
<line x1="1393.3" y1="197.4" x2="1406.5" y2="197.4" stroke="#4258b2" stroke-width="1.2"/>
<line x1="1395.3" y1="226.6" x2="1404.5" y2="226.6" stroke="#4258b2" stroke-width="1.2"/>
<line x1="1393.3" y1="229.2" x2="1406.5" y2="229.2" stroke="#4258b2" stroke-width="1.9"/>
<line x1="1393.3" y1="232.4" x2="1402.5" y2="232.4" stroke="#4258b2" stroke-width="1.5"/>
<line x1="1393.3" y1="234.4" x2="1404.5" y2="234.4" stroke="#4258b2" stroke-width="1.5"/>
<line x1="1393.3" y1="237" x2="1406.5" y2="237" stroke="#4258b2" stroke-width="1.5"/>
<line x1="1393.3" y1="240.2" x2="1404.5" y2="240.2" stroke="#4258b2" stroke-width="1.5"/>
<rect x="1394.2" y="178.4" width="1.4" height="1.8" fill="#4a5fb5" stroke="none" stroke-width="1"/>
<rect x="1394.2" y="243.8" width="1.4" height="1.8" fill="#4a5fb5" stroke="none" stroke-width="1"/>
<rect x="1399.2" y="178.4" width="1.4" height="1.8" fill="#4a5fb5" stroke="none" stroke-width="1"/>
<rect x="1399.2" y="243.8" width="1.4" height="1.8" fill="#4a5fb5" stroke="none" stroke-width="1"/>
<rect x="1404.2" y="178.4" width="1.4" height="1.8" fill="#4a5fb5" stroke="none" stroke-width="1"/>
<rect x="1404.2" y="243.8" width="1.4" height="1.8" fill="#4a5fb5" stroke="none" stroke-width="1"/>
<line x1="1393.9" y1="233.63" x2="1405.9" y2="233.17" stroke="#222" stroke-width="1.4"/>
<line x1="1393.9" y1="192.5" x2="1405.9" y2="192.5" stroke="#222" stroke-width="1.1"/>
<line x1="1393.4" y1="165" x2="1407.4" y2="165" stroke="#222" stroke-width="1.8"/>
<line x1="1419.3" y1="179.3" x2="1419.3" y2="244.7" stroke="#222" stroke-width="1.35"/>
<line x1="1424.3" y1="179.3" x2="1424.3" y2="244.7" stroke="#222" stroke-width="1.35"/>
<line x1="1429.3" y1="179.3" x2="1429.3" y2="244.7" stroke="#333" stroke-width="1.35"/>
<line x1="1417.7" y1="183" x2="1428.9" y2="183" stroke="#4258b2" stroke-width="1.5"/>
<line x1="1417.7" y1="185.7" x2="1426.9" y2="185.7" stroke="#4258b2" stroke-width="1.9"/>
<line x1="1417.7" y1="188.3" x2="1430.9" y2="188.3" stroke="#4258b2" stroke-width="1.9"/>
<line x1="1419.7" y1="191.6" x2="1430.9" y2="191.6" stroke="#4258b2" stroke-width="1.5"/>
<line x1="1419.7" y1="194.2" x2="1430.9" y2="194.2" stroke="#4258b2" stroke-width="1.5"/>
<line x1="1421.7" y1="197.4" x2="1428.9" y2="197.4" stroke="#4258b2" stroke-width="1.5"/>
<line x1="1417.7" y1="226.6" x2="1430.9" y2="226.6" stroke="#4258b2" stroke-width="1.9"/>
<line x1="1419.7" y1="229.2" x2="1430.9" y2="229.2" stroke="#4258b2" stroke-width="1.2"/>
<line x1="1417.7" y1="232.4" x2="1428.9" y2="232.4" stroke="#4258b2" stroke-width="1.5"/>
<line x1="1417.7" y1="234.4" x2="1430.9" y2="234.4" stroke="#4258b2" stroke-width="1.9"/>
<line x1="1419.7" y1="237" x2="1430.9" y2="237" stroke="#4258b2" stroke-width="1.9"/>
<line x1="1421.7" y1="240.2" x2="1428.9" y2="240.2" stroke="#4258b2" stroke-width="1.5"/>
<rect x="1418.6" y="178.4" width="1.4" height="1.8" fill="#4a5fb5" stroke="none" stroke-width="1"/>
<rect x="1418.6" y="243.8" width="1.4" height="1.8" fill="#4a5fb5" stroke="none" stroke-width="1"/>
<rect x="1423.6" y="178.4" width="1.4" height="1.8" fill="#4a5fb5" stroke="none" stroke-width="1"/>
<rect x="1423.6" y="243.8" width="1.4" height="1.8" fill="#4a5fb5" stroke="none" stroke-width="1"/>
<rect x="1428.6" y="178.4" width="1.4" height="1.8" fill="#4a5fb5" stroke="none" stroke-width="1"/>
<rect x="1428.6" y="243.8" width="1.4" height="1.8" fill="#4a5fb5" stroke="none" stroke-width="1"/>
<line x1="1418.3" y1="233.18" x2="1430.3" y2="232.18" stroke="#222" stroke-width="1.4"/>
<line x1="1418.3" y1="192.5" x2="1430.3" y2="192.5" stroke="#222" stroke-width="1.1"/>
<line x1="1445.5" y1="179.3" x2="1445.5" y2="244.7" stroke="#222" stroke-width="1.35"/>
<line x1="1450.5" y1="179.3" x2="1450.5" y2="244.7" stroke="#999" stroke-width="1.35"/>
<line x1="1455.5" y1="179.3" x2="1455.5" y2="244.7" stroke="#999" stroke-width="1.35"/>
<line x1="1447.9" y1="183" x2="1453.1" y2="183" stroke="#4258b2" stroke-width="1.2"/>
<line x1="1443.9" y1="185.7" x2="1457.1" y2="185.7" stroke="#4258b2" stroke-width="1.9"/>
<line x1="1447.9" y1="188.3" x2="1457.1" y2="188.3" stroke="#4258b2" stroke-width="1.9"/>
<line x1="1443.9" y1="191.6" x2="1457.1" y2="191.6" stroke="#4258b2" stroke-width="1.9"/>
<line x1="1443.9" y1="194.2" x2="1453.1" y2="194.2" stroke="#4258b2" stroke-width="1.2"/>
<line x1="1443.9" y1="197.4" x2="1457.1" y2="197.4" stroke="#4258b2" stroke-width="1.9"/>
<line x1="1443.9" y1="226.6" x2="1455.1" y2="226.6" stroke="#4258b2" stroke-width="1.5"/>
<line x1="1443.9" y1="229.2" x2="1457.1" y2="229.2" stroke="#4258b2" stroke-width="1.9"/>
<line x1="1445.9" y1="232.4" x2="1457.1" y2="232.4" stroke="#4258b2" stroke-width="1.2"/>
<line x1="1443.9" y1="234.4" x2="1455.1" y2="234.4" stroke="#4258b2" stroke-width="1.2"/>
<line x1="1443.9" y1="237" x2="1457.1" y2="237" stroke="#4258b2" stroke-width="1.9"/>
<line x1="1443.9" y1="240.2" x2="1453.1" y2="240.2" stroke="#4258b2" stroke-width="1.9"/>
<rect x="1444.8" y="178.4" width="1.4" height="1.8" fill="#4a5fb5" stroke="none" stroke-width="1"/>
<rect x="1444.8" y="243.8" width="1.4" height="1.8" fill="#4a5fb5" stroke="none" stroke-width="1"/>
<rect x="1449.8" y="178.4" width="1.4" height="1.8" fill="#4a5fb5" stroke="none" stroke-width="1"/>
<rect x="1449.8" y="243.8" width="1.4" height="1.8" fill="#4a5fb5" stroke="none" stroke-width="1"/>
<rect x="1454.8" y="178.4" width="1.4" height="1.8" fill="#4a5fb5" stroke="none" stroke-width="1"/>
<rect x="1454.8" y="243.8" width="1.4" height="1.8" fill="#4a5fb5" stroke="none" stroke-width="1"/>
<line x1="1444.5" y1="233.06" x2="1456.5" y2="233.55" stroke="#222" stroke-width="1.4"/>
<line x1="1444.5" y1="192.5" x2="1456.5" y2="192.5" stroke="#222" stroke-width="1.1"/>
<line x1="1470.2" y1="179.3" x2="1470.2" y2="244.7" stroke="#999" stroke-width="1.35"/>
<line x1="1475.2" y1="179.3" x2="1475.2" y2="244.7" stroke="#222" stroke-width="1.35"/>
<line x1="1480.2" y1="179.3" x2="1480.2" y2="244.7" stroke="#333" stroke-width="1.35"/>
<line x1="1472.6" y1="183" x2="1477.8" y2="183" stroke="#4258b2" stroke-width="1.5"/>
<line x1="1472.6" y1="185.7" x2="1477.8" y2="185.7" stroke="#4258b2" stroke-width="1.9"/>
<line x1="1468.6" y1="188.3" x2="1477.8" y2="188.3" stroke="#4258b2" stroke-width="1.2"/>
<line x1="1472.6" y1="191.6" x2="1481.8" y2="191.6" stroke="#4258b2" stroke-width="1.2"/>
<line x1="1470.6" y1="194.2" x2="1477.8" y2="194.2" stroke="#4258b2" stroke-width="1.5"/>
<line x1="1472.6" y1="197.4" x2="1481.8" y2="197.4" stroke="#4258b2" stroke-width="1.9"/>
<line x1="1470.6" y1="226.6" x2="1481.8" y2="226.6" stroke="#4258b2" stroke-width="1.2"/>
<line x1="1472.6" y1="229.2" x2="1477.8" y2="229.2" stroke="#4258b2" stroke-width="1.2"/>
<line x1="1468.6" y1="232.4" x2="1479.8" y2="232.4" stroke="#4258b2" stroke-width="1.2"/>
<line x1="1468.6" y1="234.4" x2="1477.8" y2="234.4" stroke="#4258b2" stroke-width="1.9"/>
<line x1="1468.6" y1="237" x2="1481.8" y2="237" stroke="#4258b2" stroke-width="1.9"/>
<line x1="1468.6" y1="240.2" x2="1481.8" y2="240.2" stroke="#4258b2" stroke-width="1.5"/>
<rect x="1469.5" y="178.4" width="1.4" height="1.8" fill="#4a5fb5" stroke="none" stroke-width="1"/>
<rect x="1469.5" y="243.8" width="1.4" height="1.8" fill="#4a5fb5" stroke="none" stroke-width="1"/>
<rect x="1474.5" y="178.4" width="1.4" height="1.8" fill="#4a5fb5" stroke="none" stroke-width="1"/>
<rect x="1474.5" y="243.8" width="1.4" height="1.8" fill="#4a5fb5" stroke="none" stroke-width="1"/>
<rect x="1479.5" y="178.4" width="1.4" height="1.8" fill="#4a5fb5" stroke="none" stroke-width="1"/>
<rect x="1479.5" y="243.8" width="1.4" height="1.8" fill="#4a5fb5" stroke="none" stroke-width="1"/>
<line x1="1469.2" y1="233.4" x2="1481.2" y2="232.3" stroke="#222" stroke-width="1.4"/>
<line x1="1469.2" y1="192.5" x2="1481.2" y2="192.5" stroke="#222" stroke-width="1.1"/>
<line x1="1495.2" y1="179.3" x2="1495.2" y2="244.7" stroke="#222" stroke-width="1.35"/>
<line x1="1500.2" y1="179.3" x2="1500.2" y2="244.7" stroke="#222" stroke-width="1.35"/>
<line x1="1505.2" y1="179.3" x2="1505.2" y2="244.7" stroke="#333" stroke-width="1.35"/>
<line x1="1493.6" y1="183" x2="1502.8" y2="183" stroke="#4258b2" stroke-width="1.2"/>
<line x1="1497.6" y1="185.7" x2="1502.8" y2="185.7" stroke="#4258b2" stroke-width="1.2"/>
<line x1="1493.6" y1="188.3" x2="1506.8" y2="188.3" stroke="#4258b2" stroke-width="1.2"/>
<line x1="1493.6" y1="191.6" x2="1506.8" y2="191.6" stroke="#4258b2" stroke-width="1.9"/>
<line x1="1493.6" y1="194.2" x2="1502.8" y2="194.2" stroke="#4258b2" stroke-width="1.9"/>
<line x1="1493.6" y1="197.4" x2="1504.8" y2="197.4" stroke="#4258b2" stroke-width="1.2"/>
<line x1="1493.6" y1="226.6" x2="1502.8" y2="226.6" stroke="#4258b2" stroke-width="1.2"/>
<line x1="1495.6" y1="229.2" x2="1506.8" y2="229.2" stroke="#4258b2" stroke-width="1.5"/>
<line x1="1495.6" y1="232.4" x2="1504.8" y2="232.4" stroke="#4258b2" stroke-width="1.2"/>
<line x1="1493.6" y1="234.4" x2="1506.8" y2="234.4" stroke="#4258b2" stroke-width="1.5"/>
<line x1="1493.6" y1="237" x2="1502.8" y2="237" stroke="#4258b2" stroke-width="1.5"/>
<line x1="1493.6" y1="240.2" x2="1506.8" y2="240.2" stroke="#4258b2" stroke-width="1.2"/>
<rect x="1494.5" y="178.4" width="1.4" height="1.8" fill="#4a5fb5" stroke="none" stroke-width="1"/>
<rect x="1494.5" y="243.8" width="1.4" height="1.8" fill="#4a5fb5" stroke="none" stroke-width="1"/>
<rect x="1499.5" y="178.4" width="1.4" height="1.8" fill="#4a5fb5" stroke="none" stroke-width="1"/>
<rect x="1499.5" y="243.8" width="1.4" height="1.8" fill="#4a5fb5" stroke="none" stroke-width="1"/>
<rect x="1504.5" y="178.4" width="1.4" height="1.8" fill="#4a5fb5" stroke="none" stroke-width="1"/>
<rect x="1504.5" y="243.8" width="1.4" height="1.8" fill="#4a5fb5" stroke="none" stroke-width="1"/>
<line x1="1494.2" y1="232.85" x2="1506.2" y2="233.81" stroke="#222" stroke-width="1.4"/>
<line x1="1520" y1="179.3" x2="1520" y2="244.7" stroke="#222" stroke-width="1.35"/>
<line x1="1525" y1="179.3" x2="1525" y2="244.7" stroke="#999" stroke-width="1.35"/>
<line x1="1530" y1="179.3" x2="1530" y2="244.7" stroke="#333" stroke-width="1.35"/>
<line x1="1520.4" y1="183" x2="1531.6" y2="183" stroke="#4258b2" stroke-width="1.2"/>
<line x1="1520.4" y1="185.7" x2="1531.6" y2="185.7" stroke="#4258b2" stroke-width="1.5"/>
<line x1="1518.4" y1="188.3" x2="1529.6" y2="188.3" stroke="#4258b2" stroke-width="1.5"/>
<line x1="1522.4" y1="191.6" x2="1529.6" y2="191.6" stroke="#4258b2" stroke-width="1.9"/>
<line x1="1520.4" y1="194.2" x2="1527.6" y2="194.2" stroke="#4258b2" stroke-width="1.2"/>
<line x1="1520.4" y1="197.4" x2="1529.6" y2="197.4" stroke="#4258b2" stroke-width="1.2"/>
<line x1="1522.4" y1="226.6" x2="1531.6" y2="226.6" stroke="#4258b2" stroke-width="1.5"/>
<line x1="1522.4" y1="229.2" x2="1531.6" y2="229.2" stroke="#4258b2" stroke-width="1.9"/>
<line x1="1518.4" y1="232.4" x2="1531.6" y2="232.4" stroke="#4258b2" stroke-width="1.2"/>
<line x1="1518.4" y1="234.4" x2="1529.6" y2="234.4" stroke="#4258b2" stroke-width="1.9"/>
<line x1="1520.4" y1="237" x2="1531.6" y2="237" stroke="#4258b2" stroke-width="1.5"/>
<line x1="1522.4" y1="240.2" x2="1527.6" y2="240.2" stroke="#4258b2" stroke-width="1.5"/>
<rect x="1519.3" y="178.4" width="1.4" height="1.8" fill="#4a5fb5" stroke="none" stroke-width="1"/>
<rect x="1519.3" y="243.8" width="1.4" height="1.8" fill="#4a5fb5" stroke="none" stroke-width="1"/>
<rect x="1524.3" y="178.4" width="1.4" height="1.8" fill="#4a5fb5" stroke="none" stroke-width="1"/>
<rect x="1524.3" y="243.8" width="1.4" height="1.8" fill="#4a5fb5" stroke="none" stroke-width="1"/>
<rect x="1529.3" y="178.4" width="1.4" height="1.8" fill="#4a5fb5" stroke="none" stroke-width="1"/>
<rect x="1529.3" y="243.8" width="1.4" height="1.8" fill="#4a5fb5" stroke="none" stroke-width="1"/>
<line x1="1519" y1="232.13" x2="1531" y2="233.17" stroke="#222" stroke-width="1.4"/>
<line x1="1519" y1="192.5" x2="1531" y2="192.5" stroke="#222" stroke-width="1.1"/>
<line x1="1544.4" y1="179.3" x2="1544.4" y2="244.7" stroke="#222" stroke-width="1.35"/>
<line x1="1549.4" y1="179.3" x2="1549.4" y2="244.7" stroke="#222" stroke-width="1.35"/>
<line x1="1554.4" y1="179.3" x2="1554.4" y2="244.7" stroke="#999" stroke-width="1.35"/>
<line x1="1542.8" y1="183" x2="1556" y2="183" stroke="#4258b2" stroke-width="1.5"/>
<line x1="1544.8" y1="185.7" x2="1556" y2="185.7" stroke="#4258b2" stroke-width="1.2"/>
<line x1="1542.8" y1="188.3" x2="1552" y2="188.3" stroke="#4258b2" stroke-width="1.5"/>
<line x1="1542.8" y1="191.6" x2="1556" y2="191.6" stroke="#4258b2" stroke-width="1.9"/>
<line x1="1542.8" y1="194.2" x2="1556" y2="194.2" stroke="#4258b2" stroke-width="1.2"/>
<line x1="1542.8" y1="197.4" x2="1556" y2="197.4" stroke="#4258b2" stroke-width="1.9"/>
<line x1="1542.8" y1="226.6" x2="1552" y2="226.6" stroke="#4258b2" stroke-width="1.5"/>
<line x1="1546.8" y1="229.2" x2="1556" y2="229.2" stroke="#4258b2" stroke-width="1.9"/>
<line x1="1542.8" y1="232.4" x2="1554" y2="232.4" stroke="#4258b2" stroke-width="1.5"/>
<line x1="1542.8" y1="234.4" x2="1556" y2="234.4" stroke="#4258b2" stroke-width="1.5"/>
<line x1="1544.8" y1="237" x2="1552" y2="237" stroke="#4258b2" stroke-width="1.9"/>
<line x1="1542.8" y1="240.2" x2="1554" y2="240.2" stroke="#4258b2" stroke-width="1.5"/>
<rect x="1543.7" y="178.4" width="1.4" height="1.8" fill="#4a5fb5" stroke="none" stroke-width="1"/>
<rect x="1543.7" y="243.8" width="1.4" height="1.8" fill="#4a5fb5" stroke="none" stroke-width="1"/>
<rect x="1548.7" y="178.4" width="1.4" height="1.8" fill="#4a5fb5" stroke="none" stroke-width="1"/>
<rect x="1548.7" y="243.8" width="1.4" height="1.8" fill="#4a5fb5" stroke="none" stroke-width="1"/>
<rect x="1553.7" y="178.4" width="1.4" height="1.8" fill="#4a5fb5" stroke="none" stroke-width="1"/>
<rect x="1553.7" y="243.8" width="1.4" height="1.8" fill="#4a5fb5" stroke="none" stroke-width="1"/>
<line x1="1543.4" y1="233.52" x2="1555.4" y2="233.03" stroke="#222" stroke-width="1.4"/>
<line x1="1568.6" y1="172.67" x2="1568.6" y2="253.03" stroke="#222" stroke-width="1.35"/>
<line x1="1573.6" y1="175.26" x2="1573.6" y2="251.57" stroke="#999" stroke-width="1.35"/>
<line x1="1578.6" y1="172.06" x2="1578.6" y2="253.15" stroke="#333" stroke-width="1.35"/>
<line x1="1567" y1="175.3" x2="1580.2" y2="175.3" stroke="#4258b2" stroke-width="1.9"/>
<line x1="1567" y1="178.3" x2="1576.2" y2="178.3" stroke="#4258b2" stroke-width="1.5"/>
<line x1="1567" y1="183" x2="1578.2" y2="183" stroke="#4258b2" stroke-width="1.2"/>
<line x1="1567" y1="185.7" x2="1580.2" y2="185.7" stroke="#4258b2" stroke-width="1.2"/>
<line x1="1569" y1="188.3" x2="1576.2" y2="188.3" stroke="#4258b2" stroke-width="1.2"/>
<line x1="1567" y1="191.6" x2="1580.2" y2="191.6" stroke="#4258b2" stroke-width="1.9"/>
<line x1="1567" y1="194.2" x2="1580.2" y2="194.2" stroke="#4258b2" stroke-width="1.5"/>
<line x1="1571" y1="197.4" x2="1580.2" y2="197.4" stroke="#4258b2" stroke-width="1.9"/>
<line x1="1571" y1="226.6" x2="1580.2" y2="226.6" stroke="#4258b2" stroke-width="1.9"/>
<line x1="1569" y1="229.2" x2="1580.2" y2="229.2" stroke="#4258b2" stroke-width="1.9"/>
<line x1="1567" y1="232.4" x2="1580.2" y2="232.4" stroke="#4258b2" stroke-width="1.9"/>
<line x1="1567" y1="234.4" x2="1576.2" y2="234.4" stroke="#4258b2" stroke-width="1.9"/>
<line x1="1571" y1="237" x2="1576.2" y2="237" stroke="#4258b2" stroke-width="1.5"/>
<line x1="1571" y1="240.2" x2="1580.2" y2="240.2" stroke="#4258b2" stroke-width="1.9"/>
<line x1="1567" y1="246.7" x2="1580.2" y2="246.7" stroke="#4258b2" stroke-width="1.9"/>
<line x1="1569" y1="249.7" x2="1578.2" y2="249.7" stroke="#4258b2" stroke-width="1.5"/>
<line x1="1571" y1="252.7" x2="1578.2" y2="252.7" stroke="#4258b2" stroke-width="1.2"/>
<rect x="1567.9" y="178.4" width="1.4" height="1.8" fill="#4a5fb5" stroke="none" stroke-width="1"/>
<rect x="1567.9" y="243.8" width="1.4" height="1.8" fill="#4a5fb5" stroke="none" stroke-width="1"/>
<rect x="1572.9" y="178.4" width="1.4" height="1.8" fill="#4a5fb5" stroke="none" stroke-width="1"/>
<rect x="1572.9" y="243.8" width="1.4" height="1.8" fill="#4a5fb5" stroke="none" stroke-width="1"/>
<rect x="1577.9" y="178.4" width="1.4" height="1.8" fill="#4a5fb5" stroke="none" stroke-width="1"/>
<rect x="1577.9" y="243.8" width="1.4" height="1.8" fill="#4a5fb5" stroke="none" stroke-width="1"/>
<line x1="1567.6" y1="232.5" x2="1579.6" y2="232.67" stroke="#222" stroke-width="1.4"/>
<line x1="1595.8" y1="169" x2="1595.8" y2="236.5" stroke="#888" stroke-width="0.9"/>
<line x1="1601" y1="175" x2="1601" y2="237.5" stroke="#222" stroke-width="1.2"/>
<line x1="1606" y1="180" x2="1606" y2="237.5" stroke="#222" stroke-width="1.2"/>
<line x1="1595" y1="183.5" x2="1607.5" y2="183.5" stroke="#4a5fb5" stroke-width="1.1"/>
<line x1="1595" y1="186.5" x2="1607.5" y2="186.5" stroke="#4a5fb5" stroke-width="1.1"/>
<line x1="1595" y1="194" x2="1607.5" y2="194" stroke="#4a5fb5" stroke-width="1.1"/>
<line x1="1595.5" y1="190.5" x2="1607.5" y2="190.5" stroke="#222" stroke-width="1.6"/>
<line x1="1595.5" y1="179.5" x2="1600.5" y2="179.5" stroke="#222" stroke-width="1"/>
<line x1="1595.5" y1="229.3" x2="1607" y2="229.3" stroke="#222" stroke-width="1.6"/>
<line x1="1595.5" y1="232.8" x2="1607.5" y2="232.8" stroke="#4a5fb5" stroke-width="1"/>
<line x1="1595" y1="226.5" x2="1607.5" y2="226.5" stroke="#4a5fb5" stroke-width="0.9"/>
<rect x="1589.7" y="165.5" width="23" height="82" fill="none" stroke="#e8202a" stroke-width="1.7"/>
<text x="1601" y="161.8" font-size="11.2" fill="#e8202a" text-anchor="middle" font-weight="bold">XIV</text>
<path d="M1624.9 164.5L1635.9 157V236M1624.9 164.5V237M1630.4 162V237" stroke="#222" stroke-width="1.1" fill="none"/>
<path d="M1624.9 172V164.8L1635.9 157" stroke="#3f5fb4" stroke-width="1.6" fill="none"/>
<line x1="1623.9" y1="172" x2="1636.9" y2="172" stroke="#4a5fb5" stroke-width="1.1"/>
<line x1="1623.9" y1="175.5" x2="1636.9" y2="175.5" stroke="#4a5fb5" stroke-width="1.1"/>
<line x1="1623.9" y1="183" x2="1636.9" y2="183" stroke="#4a5fb5" stroke-width="1.1"/>
<line x1="1623.9" y1="186" x2="1636.9" y2="186" stroke="#4a5fb5" stroke-width="1.1"/>
<line x1="1623.9" y1="190" x2="1636.9" y2="190" stroke="#4a5fb5" stroke-width="1.1"/>
<line x1="1623.9" y1="197.5" x2="1636.9" y2="197.5" stroke="#4a5fb5" stroke-width="1.1"/>
<line x1="1623.9" y1="228.5" x2="1636.9" y2="228.5" stroke="#4a5fb5" stroke-width="1.1"/>
<line x1="1623.9" y1="231" x2="1636.9" y2="231" stroke="#4a5fb5" stroke-width="1.1"/>
<line x1="1623.9" y1="234" x2="1636.9" y2="234" stroke="#4a5fb5" stroke-width="1.1"/>
<line x1="1624.4" y1="193.5" x2="1635.4" y2="193.5" stroke="#222" stroke-width="1.2"/>
<line x1="1624.4" y1="232.5" x2="1636.4" y2="232.5" stroke="#222" stroke-width="1.6"/>
<line x1="1649" y1="152" x2="1662" y2="152" stroke="#4a5fb5" stroke-width="1.2"/>
<line x1="1654" y1="154.5" x2="1661" y2="154.5" stroke="#4a5fb5" stroke-width="1.2"/>
<line x1="1648" y1="157" x2="1661" y2="157" stroke="#4a5fb5" stroke-width="1.2"/>
<line x1="1654" y1="160" x2="1661" y2="160" stroke="#4a5fb5" stroke-width="1.2"/>
<line x1="1651" y1="163.5" x2="1660" y2="163.5" stroke="#4a5fb5" stroke-width="1.2"/>
<line x1="1648" y1="167.5" x2="1656" y2="167.5" stroke="#4a5fb5" stroke-width="1.2"/>
<line x1="1651" y1="171.5" x2="1660" y2="171.5" stroke="#4a5fb5" stroke-width="1.2"/>
<line x1="1653" y1="175.5" x2="1661" y2="175.5" stroke="#4a5fb5" stroke-width="1.2"/>
<line x1="1648" y1="183" x2="1654" y2="183" stroke="#4a5fb5" stroke-width="1.2"/>
<line x1="1651" y1="186" x2="1656" y2="186" stroke="#4a5fb5" stroke-width="1.2"/>
<line x1="1654" y1="188" x2="1661" y2="188" stroke="#4a5fb5" stroke-width="1.2"/>
<line x1="1653" y1="192.5" x2="1660" y2="192.5" stroke="#4a5fb5" stroke-width="1.2"/>
<line x1="1648" y1="197.5" x2="1656" y2="197.5" stroke="#4a5fb5" stroke-width="1.2"/>
<line x1="1650" y1="227" x2="1661" y2="227" stroke="#4a5fb5" stroke-width="1.2"/>
<line x1="1648" y1="229" x2="1656" y2="229" stroke="#4a5fb5" stroke-width="1.2"/>
<line x1="1653" y1="231" x2="1660" y2="231" stroke="#4a5fb5" stroke-width="1.2"/>
<line x1="1648" y1="233.5" x2="1661" y2="233.5" stroke="#4a5fb5" stroke-width="1.2"/>
<line x1="1649" y1="236.5" x2="1656" y2="236.5" stroke="#4a5fb5" stroke-width="1.2"/>
<path d="M1654.5 151V158M1656 183V198M1654.5 226V237" stroke="#4a5fb5" stroke-width="0.9" fill="none"/>
<text x="1260.7" y="309.9" font-size="14.2" fill="#1c1c1c" font-weight="bold">Legende Bahnsteigbeleuchtung:</text>
<text x="1260.7" y="337.2" font-size="14.2" fill="#1c1c1c" font-weight="bold">Langfeldleuchten</text>
<rect x="1262.8" y="360.1" width="138.8" height="7.2" fill="#fff" stroke="#5867be" stroke-width="1"/>
<line x1="1265.4" y1="360.1" x2="1265.4" y2="367.3" stroke="#5867be" stroke-width="0.7"/>
<line x1="1268.6" y1="360.1" x2="1268.6" y2="367.3" stroke="#5867be" stroke-width="0.7"/>
<line x1="1399" y1="360.1" x2="1399" y2="367.3" stroke="#5867be" stroke-width="0.7"/>
<line x1="1395.8" y1="360.1" x2="1395.8" y2="367.3" stroke="#5867be" stroke-width="0.7"/>
<line x1="1268.6" y1="362.8" x2="1395.8" y2="362.8" stroke="#5867be" stroke-width="0.9"/>
<line x1="1268.6" y1="364.4" x2="1395.8" y2="364.4" stroke="#5867be" stroke-width="0.9"/>
<rect x="1260.4" y="361.8" width="2.4" height="3.8" fill="#5867be" stroke="none" stroke-width="1"/>
<rect x="1401.6" y="361.8" width="2.4" height="3.8" fill="#5867be" stroke="none" stroke-width="1"/>
<text x="1422.5" y="359.5" font-size="14.2" fill="#1c1c1c">Beleuchtungsrichtung:</text>
<text x="1422.5" y="375.4" font-size="14.2" fill="#1c1c1c">Zur Decke obere Ebene</text>
<rect x="1262.8" y="405.7" width="138.8" height="7.2" fill="#fff" stroke="#8290d4" stroke-width="1"/>
<line x1="1265.4" y1="405.7" x2="1265.4" y2="412.9" stroke="#8290d4" stroke-width="0.7"/>
<line x1="1268.6" y1="405.7" x2="1268.6" y2="412.9" stroke="#8290d4" stroke-width="0.7"/>
<line x1="1399" y1="405.7" x2="1399" y2="412.9" stroke="#8290d4" stroke-width="0.7"/>
<line x1="1395.8" y1="405.7" x2="1395.8" y2="412.9" stroke="#8290d4" stroke-width="0.7"/>
<rect x="1260.4" y="407.4" width="2.4" height="3.8" fill="#8290d4" stroke="none" stroke-width="1"/>
<rect x="1401.6" y="407.4" width="2.4" height="3.8" fill="#8290d4" stroke="none" stroke-width="1"/>
<text x="1422.5" y="405.4" font-size="14.2" fill="#1c1c1c">Beleuchtungsrichtung:</text>
<text x="1422.5" y="422" font-size="14.2" fill="#1c1c1c">Zum Bahnsteig obere Ebene</text>
<rect x="1262.8" y="452.6" width="138.8" height="7.4" fill="#8fabde" stroke="#3f5fb4" stroke-width="1.2"/>
<line x1="1262.8" y1="452.8" x2="1401.6" y2="452.8" stroke="#3f5fb4" stroke-width="1.5"/>
<line x1="1268.3" y1="456.2" x2="1396.1" y2="456.2" stroke="#3f5fb4" stroke-width="1.7"/>
<rect x="1262.8" y="452.6" width="5.5" height="7.4" fill="#3f5fb4" stroke="none" stroke-width="1"/>
<rect x="1396.1" y="452.6" width="5.5" height="7.4" fill="#3f5fb4" stroke="none" stroke-width="1"/>
<line x1="1265.4" y1="453.7" x2="1265.4" y2="458.9" stroke="#8fabde" stroke-width="0.7"/>
<line x1="1399" y1="453.7" x2="1399" y2="458.9" stroke="#8fabde" stroke-width="0.7"/>
<rect x="1260.3" y="454.3" width="2.5" height="4" fill="#3f5fb4" stroke="none" stroke-width="1"/>
<rect x="1401.6" y="454.3" width="2.5" height="4" fill="#3f5fb4" stroke="none" stroke-width="1"/>
<text x="1422.5" y="451.8" font-size="14.2" fill="#1c1c1c">Beleuchtungsrichtung: Zur Decke</text>
<text x="1422.5" y="468.2" font-size="14.2" fill="#1c1c1c">untere Ebene oder einlagige Ebene</text>
<rect x="1262.8" y="499" width="138.8" height="7.4" fill="#8fabde" stroke="#3f5fb4" stroke-width="1.2"/>
<line x1="1262.8" y1="499.3" x2="1401.6" y2="499.3" stroke="#3f5fb4" stroke-width="1.8"/>
<rect x="1262.8" y="499" width="5.5" height="7.4" fill="#3f5fb4" stroke="none" stroke-width="1"/>
<rect x="1396.1" y="499" width="5.5" height="7.4" fill="#3f5fb4" stroke="none" stroke-width="1"/>
<line x1="1265.4" y1="500.1" x2="1265.4" y2="505.3" stroke="#8fabde" stroke-width="0.7"/>
<line x1="1399" y1="500.1" x2="1399" y2="505.3" stroke="#8fabde" stroke-width="0.7"/>
<rect x="1260.3" y="500.7" width="2.5" height="4" fill="#3f5fb4" stroke="none" stroke-width="1"/>
<rect x="1401.6" y="500.7" width="2.5" height="4" fill="#3f5fb4" stroke="none" stroke-width="1"/>
<text x="1422.5" y="498.2" font-size="14.2" fill="#1c1c1c">Beleuchtungsrichtung: Zum Bahnsteig</text>
<text x="1422.5" y="514.9" font-size="14.2" fill="#1c1c1c">untere Ebene oder einlagige Ebene</text>
<text x="1264.5" y="540.6" font-size="14.2" fill="#1c1c1c" font-style="italic" xml:space="preserve">Gewicht pro Langfeldleuchte:  7,5Kg inkl. Befestigung</text>
<path d="M1271.3 559.1C1285 562.5 1300 567 1305.5 577A7 7 0 1 1 1296.7 578.8C1300 574.5 1307 572.2 1314.4 572" stroke="#f5a522" stroke-width="2.5" fill="none"/>
<path d="M1314.4 572C1325.4 576.9 1344.4 576.9 1355.4 572" stroke="#f5a522" stroke-width="2.5" fill="none"/>
<path d="M1355.4 572C1366.4 576.9 1385.4 576.9 1396.4 572" stroke="#f5a522" stroke-width="2.5" fill="none"/>
<path d="M1267.7 556L1274.9 562.2M1267.7 562.2L1274.9 556" stroke="#f5a522" stroke-width="2.6" fill="none"/>
<path d="M1310.8 569L1318 574.8M1310.8 574.8L1318 569" stroke="#f5a522" stroke-width="2.6" fill="none"/>
<path d="M1351.8 569L1359 574.8M1351.8 574.8L1359 569" stroke="#f5a522" stroke-width="2.6" fill="none"/>
<path d="M1392.8 568.8L1400 575M1392.8 575L1400 568.8" stroke="#f5a522" stroke-width="2.6" fill="none"/>
<line x1="1396.4" y1="572" x2="1396.4" y2="585.3" stroke="#f5a522" stroke-width="2.5"/>
<text x="1422.5" y="570.5" font-size="14.2" fill="#1c1c1c">Verkabelung Langfeldleuchten:</text>
<text x="1422.5" y="587.2" font-size="14.2" fill="#1c1c1c">mit Befestigungspunkten am</text>
<text x="1422.5" y="603.6" font-size="14.2" fill="#1c1c1c">Drahtseil</text>
<text x="1260.7" y="624.3" font-size="14.2" fill="#1c1c1c" font-weight="bold">RGB Strahler</text>
<rect x="1283.3" y="659" width="97.5" height="2.6" fill="#dfe6f8" stroke="#3c5cb2" stroke-width="0.8"/>
<path d="M1323.8 655.3L1331.7 662L1340.2 655.3M1331.7 662V670" stroke="#3f5fb4" stroke-width="1.3" fill="none"/>
<circle cx="1323.8" cy="655.3" r="6.3" fill="#fff" stroke="#3c5cb2" stroke-width="0.9"/>
<circle cx="1323.8" cy="655.3" r="4.6" fill="#b9c6ec" stroke="#3c5cb2" stroke-width="1.3"/>
<circle cx="1323.8" cy="655.3" r="2.7" fill="#e0203a" stroke="none" stroke-width="1"/>
<circle cx="1340.2" cy="655.3" r="6.3" fill="#fff" stroke="#3c5cb2" stroke-width="0.9"/>
<circle cx="1340.2" cy="655.3" r="4.6" fill="#b9c6ec" stroke="#3c5cb2" stroke-width="1.3"/>
<circle cx="1340.2" cy="655.3" r="2.7" fill="#2fa84a" stroke="none" stroke-width="1"/>
<circle cx="1331.7" cy="670.3" r="6.3" fill="#fff" stroke="#3c5cb2" stroke-width="0.9"/>
<circle cx="1331.7" cy="670.3" r="4.6" fill="#b9c6ec" stroke="#3c5cb2" stroke-width="1.3"/>
<circle cx="1331.7" cy="670.3" r="2.7" fill="#3f5fb4" stroke="none" stroke-width="1"/>
<text x="1422.5" y="647.4" font-size="14.2" fill="#1c1c1c">Abgependelte RGB Strahler</text>
<text x="1422.5" y="664.1" font-size="14.2" fill="#1c1c1c">Befestigung an der oberen Ebene</text>
<text x="1264.2" y="698.6" font-size="14.2" fill="#1c1c1c" font-style="italic">Gewicht pro RGB Strahler: 16Kg inkl. Befestigung</text>
<text x="1264.2" y="715.5" font-size="14.2" fill="#1c1c1c" font-style="italic">Position veränderbar! Bitte die statisch ungünstigste</text>
<text x="1264.2" y="731.7" font-size="14.2" fill="#1c1c1c" font-style="italic">Position betrachten</text>
<text x="1260.7" y="759" font-size="14.2" fill="#1c1c1c" font-weight="bold">LED Strahler</text>
<line x1="1283.3" y1="784.2" x2="1380.9" y2="784.2" stroke="#3c5cb2" stroke-width="3.6"/>
<rect x="1325.8" y="780.8" width="10.9" height="6.7" fill="#3c5cb2" stroke="none" stroke-width="1"/>
<circle cx="1325" cy="790.8" r="6.3" fill="#fff" stroke="#3c5cb2" stroke-width="0.9"/>
<circle cx="1325" cy="790.8" r="4.7" fill="#3c5cb2" stroke="none" stroke-width="1"/>
<text x="1422.5" y="782.1" font-size="14.2" fill="#1c1c1c">LED-Strahler</text>
<text x="1422.5" y="798.2" font-size="14.2" fill="#1c1c1c">Befestigung an der unteren Ebene</text>
<text x="1264.2" y="842.4" font-size="14.2" fill="#1c1c1c" font-style="italic">Gewicht pro LED-Strahler: 8Kg inkl. Befestigung</text>
<path d="M1274.8 873.4C1285.8 879 1304.2 879 1315.2 873.4" stroke="#e0452a" stroke-width="2.6" fill="none"/>
<path d="M1315.2 873.4C1326.2 879 1344.1 879 1355.1 873.4" stroke="#e0452a" stroke-width="2.6" fill="none"/>
<path d="M1355.1 873.4C1366.1 879 1385 879 1396 873.4" stroke="#e0452a" stroke-width="2.6" fill="none"/>
<path d="M1271.1 869.9L1278.5 875.7M1271.1 875.7L1278.5 869.9" stroke="#e0452a" stroke-width="2.7" fill="none"/>
<path d="M1311.5 869.9L1318.9 875.7M1311.5 875.7L1318.9 869.9" stroke="#e0452a" stroke-width="2.7" fill="none"/>
<path d="M1351.4 869.9L1358.8 875.7M1351.4 875.7L1358.8 869.9" stroke="#e0452a" stroke-width="2.7" fill="none"/>
<path d="M1392.3 869.9L1399.7 875.7M1392.3 875.7L1399.7 869.9" stroke="#e0452a" stroke-width="2.7" fill="none"/>
<text x="1422.5" y="872.1" font-size="14.2" fill="#1c1c1c">Verkabelung Strahler:</text>
<text x="1422.5" y="888.8" font-size="14.2" fill="#1c1c1c">mit Befestigungspunkten am</text>
<text x="1422.5" y="905.3" font-size="14.2" fill="#1c1c1c">Drahtseil</text>
<path d="M1274.8 930.7C1285.8 935.9 1304.2 935.9 1315.2 930.7" stroke="#e0452a" stroke-width="2.5" fill="none"/>
<path d="M1274.8 930.7C1285.8 925.5 1304.2 925.5 1315.2 930.7" stroke="#e0452a" stroke-width="2.5" fill="none"/>
<path d="M1315.2 930.7C1326.2 935.9 1344.1 935.9 1355.1 930.7" stroke="#e0452a" stroke-width="2.5" fill="none"/>
<path d="M1315.2 930.7C1326.2 925.5 1344.1 925.5 1355.1 930.7" stroke="#e0452a" stroke-width="2.5" fill="none"/>
<path d="M1355.1 930.7C1366.1 935.9 1385 935.9 1396 930.7" stroke="#e0452a" stroke-width="2.5" fill="none"/>
<path d="M1355.1 930.7C1366.1 925.5 1385 925.5 1396 930.7" stroke="#e0452a" stroke-width="2.5" fill="none"/>
<path d="M1271.1 927.8L1278.5 933.6M1271.1 933.6L1278.5 927.8" stroke="#e0452a" stroke-width="2.7" fill="none"/>
<path d="M1311.5 927.8L1318.9 933.6M1311.5 933.6L1318.9 927.8" stroke="#e0452a" stroke-width="2.7" fill="none"/>
<path d="M1351.4 927.8L1358.8 933.6M1351.4 933.6L1358.8 927.8" stroke="#e0452a" stroke-width="2.7" fill="none"/>
<path d="M1392.3 927.8L1399.7 933.6M1392.3 933.6L1399.7 927.8" stroke="#e0452a" stroke-width="2.7" fill="none"/>
<text x="1422.5" y="932.6" font-size="14.2" fill="#1c1c1c">Verkabelung überlagert sich</text>
<text x="1260.7" y="959.9" font-size="8.48" fill="#222" xml:space="preserve">Der Ausführende ist verpflichtet, den Auftraggeber auf etwaige Unstimmigkeiten der</text>
<text x="1260.7" y="969.56" font-size="8.48" fill="#222" xml:space="preserve">Ausführungsunterlagen hinzuweisen (VOB/B, § 3.3). Alle Maße sind auf der Baustelle zu prüfen.</text>
<text x="1260.7" y="979.22" font-size="8.48" fill="#222" xml:space="preserve">Hierfür ist alleine die ausführende Firma verantwortlich. Abweichungen sind mit der Bauleitung vor der</text>
<text x="1260.7" y="988.88" font-size="8.48" fill="#222" xml:space="preserve">Ausführung rechtzeitig zu klären. Bedenken  gegen  die geplante Ausführung, wie auch</text>
<text x="1260.7" y="998.54" font-size="8.48" fill="#222" xml:space="preserve">Unstimmigkeiten in Plänen und sonstigen Ausführungsunterlagen sind mit der Bauleitung  vor der</text>
<text x="1260.7" y="1008.2" font-size="8.48" fill="#222" xml:space="preserve">Ausführung zu klären. Abweichungen in den Plänen zur ausgeschriebenen Leistung sind anzumelden</text>
<text x="1260.7" y="1017.86" font-size="8.48" fill="#222" xml:space="preserve">und stellen keine Anordnung geänderter oder zusätzlicher Leistungen oder die Änderung sonstiger</text>
<text x="1260.7" y="1027.52" font-size="8.48" fill="#222" xml:space="preserve">Vertragsinhalte dar.</text>
<rect x="1253.5" y="1038" width="399.4" height="132.3" fill="none" stroke="#222" stroke-width="1.1"/>
<line x1="1253" y1="1037.8" x2="1653.4" y2="1037.8" stroke="#111" stroke-width="2"/>
<line x1="1253.5" y1="1079.1" x2="1652.9" y2="1079.1" stroke="#222" stroke-width="1.1"/>
<line x1="1253.5" y1="1115.3" x2="1652.9" y2="1115.3" stroke="#222" stroke-width="1.1"/>
<line x1="1253.5" y1="1152.3" x2="1652.9" y2="1152.3" stroke="#222" stroke-width="1.1"/>
<line x1="1333.6" y1="1115.3" x2="1333.6" y2="1152.3" stroke="#222" stroke-width="1.1"/>
<line x1="1413.3" y1="1115.3" x2="1413.3" y2="1152.3" stroke="#222" stroke-width="1.1"/>
<line x1="1493.1" y1="1115.3" x2="1493.1" y2="1152.3" stroke="#222" stroke-width="1.1"/>
<line x1="1573.1" y1="1115.3" x2="1573.1" y2="1152.3" stroke="#222" stroke-width="1.1"/>
<text x="1260.3" y="1050.1" font-size="9.6" fill="#2a2a2a">Projekt</text>
<text x="1268.2" y="1062" font-size="8.46" fill="#2a2a2a">Verkehrsprojekt Kombilösung Karlsruhe -</text>
<text x="1268.2" y="1072.2" font-size="8.46" fill="#2a2a2a">Teilprojekt Stadtbahntunnel Kaiserstrasse mit Südabzweig Ettlinger Straße</text>
<text x="1566.6" y="1058.8" font-size="11.8" fill="#2a2a2a">Durlacher Tor</text>
<text x="1260.3" y="1093.2" font-size="9.6" fill="#2a2a2a">Planbezeichnung</text>
<text x="1268.2" y="1108.1" font-size="8.46" fill="#2a2a2a">Leuchtenschema Bahnsteigbeleuchtung <tspan font-size="9.7">– Muster B3</tspan></text>
<text x="1533.1" y="1091.8" font-size="8.4" fill="#2a2a2a">Plannummer</text>
<text x="1533.1" y="1104.8" font-size="10.25" fill="#2a2a2a">IM-L-DT-B-03</text>
<text x="1261.4" y="1130" font-size="9.9" fill="#2a2a2a">Maßstab</text>
<text x="1272.6" y="1143.9" font-size="8.3" fill="#2a2a2a">1:50</text>
<text x="1340.6" y="1130" font-size="9.9" fill="#2a2a2a">gezeichnet</text>
<text x="1352.1" y="1143.9" font-size="8.3" fill="#2a2a2a">mm/mb</text>
<text x="1420.7" y="1130" font-size="9.9" fill="#2a2a2a">Format</text>
<text x="1433.2" y="1143.9" font-size="8.3" fill="#2a2a2a">A3</text>
<text x="1501.3" y="1130" font-size="9.9" fill="#2a2a2a">Datum</text>
<text x="1511.9" y="1143.9" font-size="8.3" fill="#2a2a2a">02.07.2018</text>
<text x="1581.3" y="1130" font-size="9.9" fill="#2a2a2a">Index Datum</text>
<text x="1261.4" y="1165.2" font-size="7.8" fill="#2a2a2a" xml:space="preserve">Ingo Maurer GmbH   Kaiserstrasse 47  80801 München</text>
<text x="1464.5" y="1165.2" font-size="7.8" fill="#2a2a2a">Telefon 089.381606-0</text>
<text x="1553.5" y="1165.2" font-size="7.75" fill="#2a2a2a">Fax Projekt 089.381606-70</text>
<text transform="translate(1669.5,1168) rotate(-90) skewX(-24)" font-size="14" font-style="italic" fill="#2a2a2a" textLength="108" lengthAdjust="spacingAndGlyphs">INGO MAURER</text>
<text transform="translate(1663.5,1053.5) rotate(-90)" font-size="6.5" fill="#333">©</text>
</svg>
</body></html>
